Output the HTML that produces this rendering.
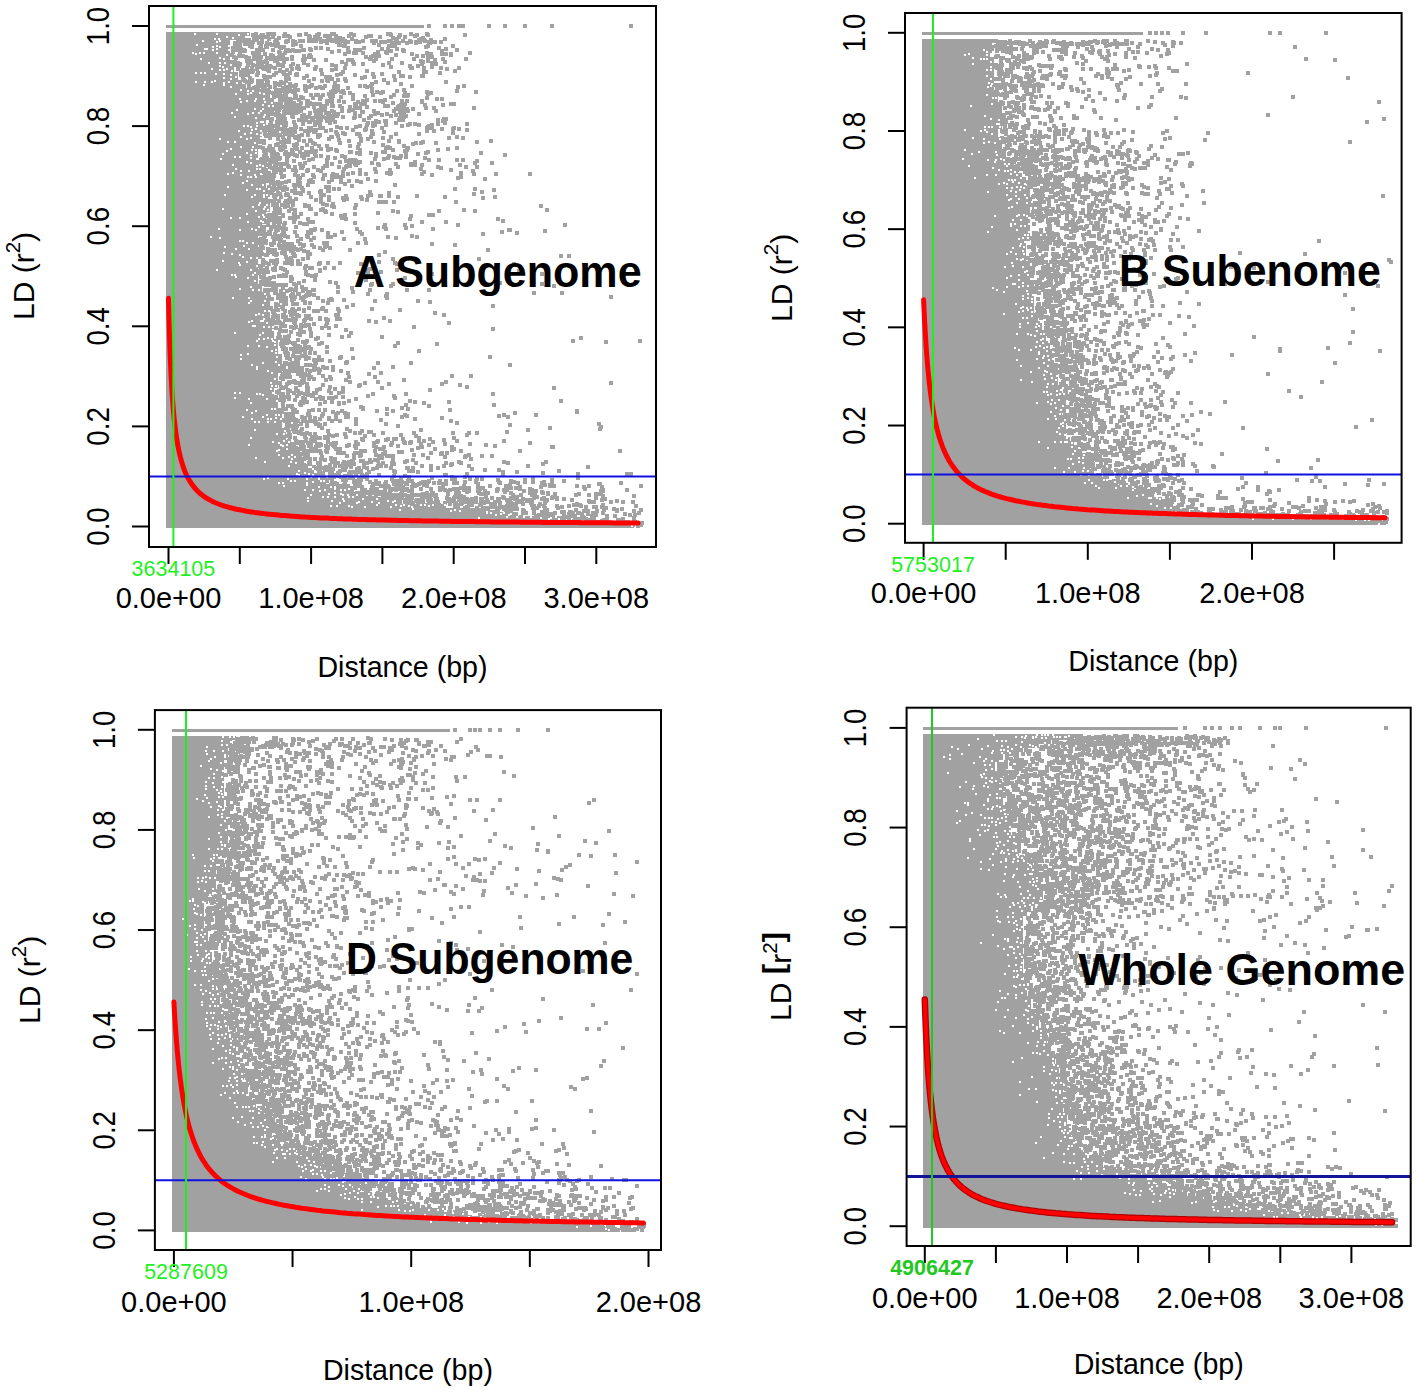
<!DOCTYPE html><html><head><meta charset="utf-8"><style>html,body{margin:0;padding:0;background:#fff;overflow:hidden}svg{display:block}text{font-family:"Liberation Sans", sans-serif}</style></head><body>
<svg width="1416" height="1393" viewBox="0 0 1416 1393">
<rect width="1416" height="1393" fill="#fff"/>
<rect x="166" y="25" width="258" height="3" fill="#a1a1a1"/>
<path stroke="#a1a1a1" stroke-width="4" fill="none" d="M427 26h4M443 26h4M450 26h4M457 26h4M461 26h4M487 26h4M503 26h4M523 26h4M550 26h4M629 26h4M166 526h468M166 522h444M166 518h400M166 514h352M166 510h320M166 506h280M166 502h236M166 498h212M166 494h200M166 490h188M166 486h176M166 482h160M166 478h152M166 474h148M166 470h148M166 466h144M166 462h140M166 458h136M166 454h132M166 450h128M166 446h124M166 442h124M166 438h120M166 434h120M166 430h120M166 426h116M166 422h116M166 418h116M166 414h116M166 410h112M166 406h112M166 402h112M166 398h112M166 394h108M166 390h108M166 386h112M166 382h112M166 378h112M166 374h112M166 370h112M166 366h112M166 362h116M166 358h116M166 354h112M166 350h112M166 346h112M166 342h112M166 338h108M166 334h108M166 330h108M166 326h108M166 322h104M166 318h104M166 314h104M166 310h104M166 306h100M166 302h100M166 298h100M166 294h100M166 290h96M166 286h96M166 282h92M166 278h92M166 274h92M166 270h88M166 266h92M166 262h92M166 258h92M166 254h92M166 250h92M166 246h92M166 242h92M166 238h92M166 234h96M166 230h96M166 226h96M166 222h100M166 218h100M166 214h100M166 210h104M166 206h104M166 202h104M166 198h104M166 194h104M166 190h104M166 186h100M166 182h100M166 178h100M166 174h96M166 170h96M166 166h96M166 162h96M166 158h92M166 154h92M166 150h92M166 146h92M166 142h96M166 138h96M166 134h96M166 130h100M166 126h100M166 122h100M166 118h104M166 114h108M166 110h108M166 106h108M166 102h108M166 98h108M166 94h104M166 90h92M166 86h80M166 82h76M166 78h72M166 74h72M166 70h68M166 66h68M166 62h64M166 58h64M166 54h64M166 50h64M166 46h64M166 42h64M166 38h72M166 34h84M254 34h4M266 34h4M269 34h4M272 34h4M283 34h4M304 34h4M317 34h4M317 34h4M330 34h4M332 34h4M349 34h4M386 34h4M388 34h4M409 34h4M425 34h4M251 35h4M252 35h4M253 35h4M260 35h4M261 35h4M297 35h4M298 35h4M315 35h4M352 35h4M389 35h4M398 35h4M415 35h4M426 35h4M463 35h4M254 36h4M259 36h4M261 36h4M261 36h4M282 36h4M286 36h4M307 36h4M315 36h4M323 36h4M325 36h4M328 36h4M334 36h4M347 36h4M367 36h4M369 36h4M413 36h4M257 37h4M262 37h4M263 37h4M266 37h4M271 37h4M288 37h4M308 37h4M313 37h4M316 37h4M364 37h4M378 37h4M397 37h4M403 37h4M238 38h4M241 38h4M252 38h4M277 38h4M307 38h4M336 38h4M336 38h4M338 38h4M391 38h4M421 38h4M240 39h4M267 39h4M267 39h4M318 39h4M341 39h4M350 39h4M395 39h4M419 39h4M443 39h4M242 40h4M246 40h4M246 40h4M247 40h4M255 40h4M260 40h4M274 40h4M307 40h4M309 40h4M326 40h4M330 40h4M333 40h4M335 40h4M417 40h4M422 40h4M429 40h4M241 41h4M285 41h4M286 41h4M291 41h4M298 41h4M301 41h4M307 41h4M310 41h4M314 41h4M322 41h4M330 41h4M333 41h4M339 41h4M343 41h4M354 41h4M361 41h4M370 41h4M374 41h4M387 41h4M389 41h4M394 41h4M401 41h4M408 41h4M423 41h4M429 41h4M236 42h4M251 42h4M260 42h4M273 42h4M275 42h4M284 42h4M293 42h4M319 42h4M335 42h4M346 42h4M354 42h4M357 42h4M379 42h4M379 42h4M383 42h4M409 42h4M414 42h4M418 42h4M427 42h4M429 42h4M433 42h4M439 42h4M233 43h4M238 43h4M245 43h4M257 43h4M265 43h4M325 43h4M372 43h4M390 43h4M397 43h4M405 43h4M414 43h4M428 43h4M233 44h4M233 44h4M233 44h4M243 44h4M245 44h4M245 44h4M248 44h4M268 44h4M276 44h4M294 44h4M343 44h4M392 44h4M259 45h4M270 45h4M291 45h4M337 45h4M338 45h4M377 45h4M393 45h4M235 46h4M235 46h4M238 46h4M248 46h4M250 46h4M250 46h4M264 46h4M274 46h4M299 46h4M342 46h4M387 46h4M391 46h4M426 46h4M451 46h4M234 47h4M234 47h4M250 47h4M259 47h4M265 47h4M278 47h4M282 47h4M424 47h4M231 48h4M258 48h4M279 48h4M314 48h4M319 48h4M346 48h4M362 48h4M437 48h4M233 49h4M239 49h4M308 49h4M326 49h4M380 49h4M386 49h4M395 49h4M444 49h4M235 50h4M242 50h4M255 50h4M261 50h4M271 50h4M286 50h4M291 50h4M301 50h4M302 50h4M309 50h4M353 50h4M355 50h4M358 50h4M401 50h4M455 50h4M231 51h4M241 51h4M243 51h4M256 51h4M257 51h4M284 51h4M287 51h4M288 51h4M293 51h4M297 51h4M337 51h4M389 51h4M402 51h4M440 51h4M231 52h4M277 52h4M330 52h4M346 52h4M347 52h4M376 52h4M384 52h4M238 53h4M251 53h4M253 53h4M278 53h4M283 53h4M352 53h4M354 53h4M361 53h4M385 53h4M425 53h4M468 53h4M263 54h4M343 54h4M373 54h4M410 54h4M429 54h4M440 54h4M444 54h4M449 54h4M230 55h4M238 55h4M257 55h4M269 55h4M281 55h4M308 55h4M375 55h4M394 55h4M449 55h4M237 56h4M241 56h4M271 56h4M302 56h4M307 56h4M371 56h4M376 56h4M377 56h4M415 56h4M421 56h4M426 56h4M232 57h4M244 57h4M252 57h4M254 57h4M259 57h4M270 57h4M277 57h4M290 57h4M307 57h4M309 57h4M364 57h4M369 57h4M428 57h4M430 57h4M234 58h4M247 58h4M256 58h4M265 58h4M275 58h4M246 59h4M252 59h4M255 59h4M269 59h4M274 59h4M278 59h4M281 59h4M285 59h4M290 59h4M303 59h4M368 59h4M374 59h4M390 59h4M412 59h4M441 59h4M464 59h4M246 60h4M258 60h4M275 60h4M301 60h4M312 60h4M324 60h4M346 60h4M350 60h4M426 60h4M433 60h4M245 61h4M248 61h4M257 61h4M264 61h4M273 61h4M372 61h4M419 61h4M426 61h4M230 62h4M233 62h4M262 62h4M282 62h4M340 62h4M351 62h4M421 62h4M443 62h4M236 63h4M248 63h4M249 63h4M256 63h4M260 63h4M265 63h4M302 63h4M387 63h4M400 63h4M430 63h4M237 64h4M238 64h4M257 64h4M260 64h4M260 64h4M276 64h4M291 64h4M344 64h4M352 64h4M352 64h4M361 64h4M420 64h4M434 64h4M230 65h4M230 65h4M232 65h4M234 65h4M246 65h4M251 65h4M277 65h4M278 65h4M306 65h4M330 65h4M381 65h4M237 66h4M255 66h4M259 66h4M266 66h4M268 66h4M281 66h4M289 66h4M296 66h4M334 66h4M408 66h4M416 66h4M258 67h4M262 67h4M269 67h4M314 67h4M389 67h4M430 67h4M236 68h4M245 68h4M250 68h4M261 68h4M273 68h4M295 68h4M343 68h4M409 68h4M410 68h4M422 68h4M439 68h4M457 68h4M236 69h4M255 69h4M262 69h4M290 69h4M297 69h4M313 69h4M334 69h4M445 69h4M241 70h4M242 70h4M266 70h4M278 70h4M278 70h4M285 70h4M319 70h4M330 70h4M241 71h4M244 71h4M248 71h4M251 71h4M267 71h4M278 71h4M365 71h4M453 71h4M239 72h4M250 72h4M281 72h4M341 72h4M397 72h4M422 72h4M424 72h4M239 73h4M245 73h4M256 73h4M274 73h4M288 73h4M438 73h4M239 74h4M240 74h4M246 74h4M282 74h4M295 74h4M320 74h4M339 74h4M371 74h4M380 74h4M239 75h4M244 75h4M245 75h4M246 75h4M255 75h4M272 75h4M286 75h4M294 75h4M295 75h4M335 75h4M353 75h4M262 76h4M305 76h4M392 76h4M399 76h4M401 76h4M420 76h4M421 76h4M241 77h4M265 77h4M266 77h4M268 77h4M284 77h4M324 77h4M328 77h4M363 77h4M372 77h4M408 77h4M248 78h4M302 78h4M360 78h4M241 79h4M263 79h4M284 79h4M285 79h4M287 79h4M312 79h4M330 79h4M343 79h4M242 80h4M242 80h4M250 80h4M325 80h4M336 80h4M382 80h4M393 80h4M243 81h4M249 81h4M250 81h4M256 81h4M259 81h4M260 81h4M265 81h4M284 81h4M307 81h4M320 81h4M326 81h4M344 81h4M245 82h4M246 82h4M246 82h4M249 82h4M256 82h4M256 82h4M256 82h4M266 82h4M266 82h4M279 82h4M374 82h4M444 82h4M259 83h4M273 83h4M282 83h4M333 83h4M386 83h4M256 84h4M260 84h4M266 84h4M276 84h4M288 84h4M370 84h4M399 84h4M247 85h4M264 85h4M278 85h4M294 85h4M310 85h4M257 86h4M261 86h4M292 86h4M303 86h4M309 86h4M323 86h4M336 86h4M358 86h4M363 86h4M369 86h4M410 86h4M462 86h4M247 87h4M254 87h4M255 87h4M268 87h4M268 87h4M273 87h4M284 87h4M307 87h4M318 87h4M332 87h4M335 87h4M365 87h4M456 87h4M252 88h4M263 88h4M263 88h4M281 88h4M286 88h4M288 88h4M314 88h4M320 88h4M321 88h4M346 88h4M247 89h4M247 89h4M251 89h4M252 89h4M256 89h4M261 89h4M282 89h4M285 89h4M293 89h4M303 89h4M370 89h4M266 90h4M274 90h4M278 90h4M280 90h4M282 90h4M285 90h4M296 90h4M336 90h4M402 90h4M258 91h4M260 91h4M281 91h4M289 91h4M304 91h4M331 91h4M333 91h4M334 91h4M341 91h4M370 91h4M395 91h4M455 91h4M259 92h4M263 92h4M267 92h4M278 92h4M283 92h4M285 92h4M291 92h4M292 92h4M329 92h4M333 92h4M339 92h4M375 92h4M381 92h4M425 92h4M474 92h4M262 93h4M263 93h4M271 93h4M276 93h4M293 93h4M342 93h4M348 93h4M379 93h4M403 93h4M429 93h4M272 94h4M327 94h4M426 94h4M293 95h4M309 95h4M314 95h4M316 95h4M321 95h4M351 95h4M371 95h4M392 95h4M406 95h4M273 96h4M276 96h4M279 96h4M281 96h4M284 96h4M294 96h4M328 96h4M330 96h4M331 96h4M351 96h4M363 96h4M402 96h4M405 96h4M272 97h4M278 97h4M279 97h4M299 97h4M319 97h4M329 97h4M339 97h4M389 97h4M278 98h4M293 98h4M301 98h4M311 98h4M330 98h4M425 98h4M279 99h4M284 99h4M288 99h4M318 99h4M330 99h4M351 99h4M435 99h4M440 99h4M278 100h4M280 100h4M284 100h4M286 100h4M289 100h4M297 100h4M365 100h4M383 100h4M305 101h4M306 101h4M325 101h4M328 101h4M337 101h4M361 101h4M361 101h4M373 101h4M378 101h4M379 101h4M400 101h4M405 101h4M420 101h4M286 102h4M306 102h4M342 102h4M356 102h4M381 102h4M420 102h4M292 103h4M299 103h4M306 103h4M308 103h4M330 103h4M391 103h4M274 104h4M277 104h4M279 104h4M284 104h4M288 104h4M309 104h4M313 104h4M315 104h4M318 104h4M325 104h4M353 104h4M359 104h4M363 104h4M403 104h4M449 104h4M452 104h4M275 105h4M292 105h4M295 105h4M305 105h4M305 105h4M354 105h4M399 105h4M423 105h4M441 105h4M274 106h4M286 106h4M287 106h4M291 106h4M296 106h4M306 106h4M319 106h4M323 106h4M330 106h4M331 106h4M338 106h4M383 106h4M384 106h4M384 106h4M386 106h4M397 106h4M280 107h4M281 107h4M283 107h4M294 107h4M298 107h4M312 107h4M319 107h4M348 107h4M365 107h4M396 107h4M402 107h4M278 108h4M284 108h4M286 108h4M292 108h4M293 108h4M301 108h4M302 108h4M340 108h4M353 108h4M355 108h4M356 108h4M357 108h4M358 108h4M397 108h4M401 108h4M424 108h4M432 108h4M472 108h4M274 109h4M276 109h4M283 109h4M289 109h4M291 109h4M297 109h4M319 109h4M322 109h4M394 109h4M405 109h4M411 109h4M275 110h4M276 110h4M277 110h4M284 110h4M292 110h4M295 110h4M317 110h4M318 110h4M323 110h4M351 110h4M290 111h4M295 111h4M299 111h4M313 111h4M330 111h4M340 111h4M347 111h4M372 111h4M392 111h4M403 111h4M406 111h4M434 111h4M282 112h4M286 112h4M296 112h4M332 112h4M360 112h4M361 112h4M398 112h4M400 112h4M275 113h4M276 113h4M286 113h4M289 113h4M294 113h4M308 113h4M315 113h4M319 113h4M324 113h4M326 113h4M327 113h4M353 113h4M376 113h4M402 113h4M274 114h4M290 114h4M314 114h4M333 114h4M336 114h4M373 114h4M385 114h4M417 114h4M274 115h4M277 115h4M282 115h4M302 115h4M334 115h4M380 115h4M394 115h4M280 116h4M290 116h4M300 116h4M301 116h4M317 116h4M330 116h4M335 116h4M358 116h4M369 116h4M389 116h4M399 116h4M404 116h4M277 117h4M291 117h4M304 117h4M307 117h4M315 117h4M321 117h4M321 117h4M326 117h4M341 117h4M353 117h4M402 117h4M276 118h4M279 118h4M311 118h4M316 118h4M324 118h4M328 118h4M331 118h4M352 118h4M367 118h4M398 118h4M270 119h4M281 119h4M283 119h4M304 119h4M304 119h4M318 119h4M325 119h4M325 119h4M442 119h4M443 119h4M444 119h4M276 120h4M278 120h4M279 120h4M283 120h4M297 120h4M299 120h4M303 120h4M310 120h4M319 120h4M329 120h4M362 120h4M397 120h4M401 120h4M436 120h4M281 121h4M301 121h4M316 121h4M325 121h4M374 121h4M383 121h4M384 121h4M441 121h4M443 121h4M269 122h4M275 122h4M292 122h4M307 122h4M308 122h4M313 122h4M333 122h4M377 122h4M279 123h4M284 123h4M315 123h4M328 123h4M366 123h4M371 123h4M394 123h4M443 123h4M301 124h4M318 124h4M408 124h4M413 124h4M436 124h4M465 124h4M268 125h4M282 125h4M282 125h4M284 125h4M293 125h4M313 125h4M365 125h4M373 125h4M384 125h4M406 125h4M417 125h4M430 125h4M272 126h4M276 126h4M358 126h4M371 126h4M400 126h4M427 126h4M266 127h4M294 127h4M335 127h4M354 127h4M426 127h4M430 127h4M270 128h4M283 128h4M293 128h4M307 128h4M309 128h4M318 128h4M320 128h4M321 128h4M339 128h4M345 128h4M364 128h4M380 128h4M425 128h4M427 128h4M430 128h4M452 128h4M275 129h4M277 129h4M280 129h4M289 129h4M290 129h4M299 129h4M308 129h4M364 129h4M440 129h4M451 129h4M457 129h4M266 130h4M281 130h4M286 130h4M290 130h4M311 130h4M314 130h4M329 130h4M351 130h4M363 130h4M465 130h4M268 131h4M273 131h4M275 131h4M289 131h4M293 131h4M303 131h4M307 131h4M313 131h4M313 131h4M313 131h4M324 131h4M370 131h4M425 131h4M432 131h4M268 132h4M271 132h4M275 132h4M281 132h4M285 132h4M293 132h4M312 132h4M334 132h4M382 132h4M272 133h4M283 133h4M341 133h4M451 133h4M263 134h4M272 134h4M283 134h4M335 134h4M343 134h4M355 134h4M357 134h4M370 134h4M371 134h4M394 134h4M417 134h4M267 135h4M269 135h4M272 135h4M275 135h4M278 135h4M289 135h4M291 135h4M300 135h4M306 135h4M316 135h4M318 135h4M264 136h4M287 136h4M287 136h4M297 136h4M317 136h4M336 136h4M358 136h4M276 137h4M281 137h4M287 137h4M293 137h4M316 137h4M329 137h4M330 137h4M369 137h4M389 137h4M455 137h4M268 138h4M294 138h4M381 138h4M447 138h4M461 138h4M276 139h4M327 139h4M359 139h4M366 139h4M282 140h4M297 140h4M297 140h4M308 140h4M337 140h4M262 141h4M282 141h4M286 141h4M287 141h4M302 141h4M308 141h4M309 141h4M347 141h4M359 141h4M387 141h4M397 141h4M489 141h4M279 142h4M283 142h4M287 142h4M372 142h4M397 142h4M421 142h4M475 142h4M262 143h4M281 143h4M311 143h4M338 143h4M414 143h4M419 143h4M434 143h4M276 144h4M295 144h4M313 144h4M357 144h4M411 144h4M274 145h4M274 145h4M281 145h4M282 145h4M292 145h4M305 145h4M381 145h4M268 146h4M282 146h4M282 146h4M317 146h4M325 146h4M348 146h4M402 146h4M258 147h4M258 147h4M278 147h4M283 147h4M356 147h4M386 147h4M261 148h4M267 148h4M293 148h4M294 148h4M300 148h4M310 148h4M356 148h4M384 148h4M386 148h4M388 148h4M406 148h4M455 148h4M271 149h4M278 149h4M280 149h4M281 149h4M295 149h4M319 149h4M329 149h4M446 149h4M262 150h4M262 150h4M265 150h4M279 150h4M290 150h4M326 150h4M334 150h4M358 150h4M391 150h4M405 150h4M436 150h4M262 151h4M269 151h4M271 151h4M311 151h4M313 151h4M314 151h4M335 151h4M403 151h4M272 152h4M284 152h4M298 152h4M304 152h4M308 152h4M311 152h4M312 152h4M313 152h4M348 152h4M349 152h4M381 152h4M383 152h4M426 152h4M270 153h4M291 153h4M305 153h4M355 153h4M369 153h4M424 153h4M479 153h4M264 154h4M271 154h4M274 154h4M275 154h4M283 154h4M288 154h4M289 154h4M291 154h4M302 154h4M313 154h4M358 154h4M374 154h4M404 154h4M416 154h4M263 155h4M270 155h4M276 155h4M287 155h4M287 155h4M293 155h4M301 155h4M306 155h4M503 155h4M262 156h4M270 156h4M286 156h4M295 156h4M300 156h4M314 156h4M319 156h4M340 156h4M374 156h4M387 156h4M399 156h4M285 157h4M326 157h4M343 157h4M392 157h4M404 157h4M265 158h4M271 158h4M272 158h4M273 158h4M278 158h4M302 158h4M326 158h4M333 158h4M386 158h4M394 158h4M398 158h4M423 158h4M260 159h4M265 159h4M277 159h4M311 159h4M373 159h4M382 159h4M259 160h4M263 160h4M265 160h4M267 160h4M285 160h4M307 160h4M325 160h4M348 160h4M349 160h4M353 160h4M427 160h4M437 160h4M455 160h4M461 160h4M262 161h4M263 161h4M269 161h4M274 161h4M292 161h4M344 161h4M350 161h4M354 161h4M475 161h4M270 162h4M325 162h4M338 162h4M347 162h4M349 162h4M358 162h4M413 162h4M262 163h4M303 163h4M356 163h4M370 163h4M473 163h4M490 163h4M268 164h4M276 164h4M277 164h4M278 164h4M281 164h4M285 164h4M298 164h4M298 164h4M330 164h4M353 164h4M376 164h4M394 164h4M409 164h4M264 165h4M273 165h4M279 165h4M354 165h4M377 165h4M409 165h4M413 165h4M420 165h4M458 165h4M274 166h4M286 166h4M301 166h4M323 166h4M324 166h4M325 166h4M345 166h4M348 166h4M268 167h4M287 167h4M293 167h4M312 167h4M337 167h4M344 167h4M396 167h4M436 167h4M464 167h4M475 167h4M270 168h4M299 168h4M300 168h4M321 168h4M439 168h4M262 169h4M274 169h4M275 169h4M279 169h4M342 169h4M373 169h4M419 169h4M264 170h4M272 170h4M276 170h4M279 170h4M282 170h4M291 170h4M306 170h4M316 170h4M358 170h4M388 170h4M449 170h4M272 171h4M294 171h4M305 171h4M319 171h4M471 171h4M262 172h4M262 172h4M272 172h4M273 172h4M274 172h4M341 172h4M374 172h4M422 172h4M263 173h4M267 173h4M279 173h4M351 173h4M385 173h4M389 173h4M459 173h4M331 174h4M346 174h4M358 174h4M364 174h4M388 174h4M420 174h4M472 174h4M494 174h4M528 174h4M265 175h4M269 175h4M293 175h4M301 175h4M311 175h4M322 175h4M323 175h4M335 175h4M430 175h4M265 176h4M272 176h4M282 176h4M296 176h4M330 176h4M341 176h4M262 177h4M266 177h4M268 177h4M280 177h4M312 177h4M330 177h4M334 177h4M337 177h4M459 177h4M267 178h4M267 178h4M296 178h4M298 178h4M339 178h4M456 178h4M266 179h4M266 179h4M267 179h4M271 179h4M297 179h4M321 179h4M366 179h4M483 179h4M309 180h4M330 180h4M330 180h4M266 181h4M287 181h4M296 181h4M307 181h4M347 181h4M355 181h4M374 181h4M276 182h4M284 182h4M308 182h4M309 182h4M311 182h4M327 182h4M327 182h4M339 182h4M359 182h4M269 183h4M272 183h4M280 183h4M298 183h4M274 184h4M277 184h4M343 184h4M278 185h4M292 185h4M295 185h4M295 185h4M306 185h4M393 185h4M278 186h4M298 186h4M350 186h4M267 187h4M272 187h4M283 187h4M283 187h4M324 187h4M327 187h4M268 188h4M271 188h4M277 188h4M281 188h4M282 188h4M300 188h4M267 189h4M274 189h4M275 189h4M285 189h4M293 189h4M332 189h4M337 189h4M453 189h4M473 189h4M271 190h4M281 190h4M282 190h4M301 190h4M492 190h4M290 191h4M301 191h4M319 191h4M326 191h4M327 191h4M270 192h4M293 192h4M318 192h4M368 192h4M480 192h4M270 193h4M276 193h4M293 193h4M295 193h4M297 193h4M307 193h4M387 193h4M277 194h4M278 194h4M285 194h4M299 194h4M472 194h4M274 195h4M284 195h4M285 195h4M286 195h4M322 195h4M369 195h4M272 196h4M319 196h4M344 196h4M366 196h4M378 196h4M379 196h4M387 196h4M415 196h4M279 197h4M309 197h4M309 197h4M327 197h4M359 197h4M396 197h4M443 197h4M493 197h4M288 198h4M319 198h4M341 198h4M343 198h4M481 198h4M273 199h4M294 199h4M345 199h4M360 199h4M287 200h4M314 200h4M327 200h4M342 200h4M365 200h4M270 201h4M277 201h4M284 201h4M288 201h4M291 201h4M272 202h4M287 202h4M319 202h4M377 202h4M380 202h4M384 202h4M392 202h4M454 202h4M283 203h4M275 204h4M286 204h4M321 204h4M331 204h4M271 205h4M280 205h4M291 205h4M303 205h4M325 205h4M354 205h4M285 206h4M286 206h4M303 206h4M306 206h4M307 206h4M330 206h4M539 206h4M283 207h4M332 207h4M275 208h4M353 208h4M273 209h4M277 209h4M289 209h4M308 209h4M309 209h4M321 209h4M278 210h4M293 210h4M319 210h4M462 210h4M545 210h4M287 211h4M323 211h4M391 211h4M437 211h4M473 211h4M324 212h4M396 212h4M272 213h4M274 213h4M278 213h4M293 213h4M376 213h4M273 214h4M292 214h4M292 214h4M299 214h4M314 214h4M330 214h4M353 214h4M267 215h4M269 215h4M269 215h4M269 215h4M273 215h4M274 215h4M281 215h4M343 215h4M427 215h4M431 215h4M266 216h4M281 216h4M292 216h4M339 216h4M409 216h4M269 217h4M269 217h4M274 217h4M296 217h4M341 217h4M276 218h4M278 218h4M288 218h4M340 218h4M341 218h4M268 219h4M272 219h4M275 219h4M293 219h4M306 219h4M344 219h4M408 219h4M496 219h4M267 220h4M271 220h4M292 220h4M266 221h4M501 221h4M276 222h4M278 222h4M292 222h4M307 222h4M311 222h4M420 222h4M444 222h4M272 223h4M283 223h4M298 223h4M353 223h4M277 224h4M302 224h4M305 224h4M266 225h4M282 225h4M383 225h4M403 225h4M456 225h4M563 225h4M410 226h4M262 227h4M270 227h4M273 227h4M294 227h4M382 227h4M277 228h4M278 228h4M280 228h4M376 228h4M404 228h4M262 229h4M269 229h4M284 229h4M313 229h4M355 229h4M384 229h4M431 229h4M276 230h4M309 230h4M312 230h4M320 230h4M507 230h4M508 230h4M262 231h4M274 231h4M543 231h4M267 232h4M281 232h4M293 232h4M306 232h4M308 232h4M340 232h4M358 232h4M500 232h4M268 233h4M282 233h4M309 233h4M326 233h4M515 233h4M262 234h4M263 234h4M267 234h4M273 234h4M360 234h4M481 234h4M280 235h4M282 235h4M333 235h4M262 236h4M263 236h4M276 236h4M277 236h4M283 236h4M295 236h4M305 236h4M410 236h4M271 237h4M273 237h4M278 237h4M286 237h4M306 237h4M326 237h4M329 237h4M386 237h4M415 237h4M262 238h4M274 238h4M312 238h4M394 238h4M259 239h4M274 239h4M299 239h4M342 239h4M363 239h4M258 240h4M258 240h4M272 240h4M279 240h4M309 240h4M259 241h4M264 241h4M278 241h4M296 241h4M260 242h4M282 242h4M258 243h4M264 243h4M272 243h4M322 243h4M325 243h4M356 243h4M364 243h4M269 244h4M283 244h4M286 244h4M290 244h4M298 244h4M430 244h4M270 245h4M277 245h4M288 245h4M289 245h4M302 245h4M310 245h4M453 245h4M260 246h4M279 246h4M282 246h4M301 246h4M325 246h4M325 246h4M259 247h4M286 247h4M292 247h4M312 247h4M323 247h4M261 248h4M278 248h4M288 248h4M318 248h4M328 248h4M258 249h4M266 249h4M285 249h4M291 249h4M294 249h4M299 249h4M259 250h4M267 250h4M269 250h4M273 250h4M281 250h4M283 250h4M296 250h4M321 250h4M348 250h4M486 250h4M267 251h4M273 251h4M289 251h4M302 251h4M266 252h4M270 252h4M273 252h4M283 252h4M306 252h4M383 252h4M258 253h4M266 253h4M272 253h4M280 253h4M291 253h4M260 254h4M272 254h4M275 254h4M283 254h4M292 254h4M308 254h4M264 255h4M265 255h4M274 255h4M377 255h4M293 256h4M306 256h4M559 256h4M567 256h4M258 257h4M284 257h4M289 258h4M306 258h4M285 259h4M287 259h4M301 259h4M391 259h4M413 259h4M477 259h4M261 260h4M275 260h4M269 261h4M272 261h4M290 261h4M296 261h4M262 262h4M275 262h4M290 262h4M377 262h4M263 263h4M264 263h4M272 263h4M283 263h4M286 263h4M318 263h4M326 263h4M338 263h4M393 263h4M261 264h4M267 264h4M274 264h4M290 264h4M296 264h4M298 264h4M317 264h4M359 264h4M395 264h4M512 264h4M261 265h4M258 266h4M304 266h4M265 268h4M265 268h4M273 268h4M279 268h4M303 268h4M308 268h4M310 268h4M323 268h4M332 268h4M259 269h4M271 269h4M281 269h4M368 269h4M254 270h4M259 270h4M263 270h4M272 270h4M273 270h4M283 270h4M318 270h4M366 270h4M395 270h4M257 271h4M318 271h4M517 271h4M258 272h4M265 272h4M266 272h4M285 272h4M304 272h4M379 272h4M257 273h4M356 273h4M366 273h4M262 274h4M304 274h4M430 274h4M540 274h4M282 275h4M306 275h4M314 275h4M277 276h4M280 276h4M284 276h4M310 276h4M259 277h4M262 277h4M272 277h4M289 277h4M313 277h4M268 278h4M403 278h4M266 279h4M290 279h4M261 280h4M263 280h4M266 280h4M267 280h4M313 280h4M364 280h4M289 281h4M302 281h4M259 282h4M260 282h4M265 282h4M328 282h4M261 283h4M268 283h4M272 283h4M272 283h4M297 283h4M334 283h4M498 283h4M260 284h4M266 284h4M292 284h4M370 284h4M391 284h4M540 284h4M264 285h4M265 285h4M269 285h4M276 285h4M280 285h4M281 285h4M282 285h4M284 285h4M294 285h4M294 285h4M369 285h4M389 286h4M552 286h4M271 287h4M274 287h4M300 287h4M336 287h4M281 288h4M294 288h4M350 288h4M289 289h4M289 289h4M304 289h4M263 290h4M265 290h4M269 290h4M273 290h4M288 290h4M293 290h4M293 290h4M294 290h4M311 290h4M312 290h4M368 290h4M405 290h4M427 290h4M274 291h4M279 291h4M285 291h4M301 291h4M266 292h4M308 292h4M336 292h4M351 292h4M273 293h4M279 293h4M306 293h4M532 293h4M560 293h4M266 294h4M281 294h4M282 294h4M291 294h4M296 294h4M297 294h4M308 294h4M366 294h4M385 294h4M276 295h4M290 295h4M305 295h4M307 295h4M312 295h4M277 296h4M289 296h4M304 296h4M384 296h4M267 297h4M276 297h4M280 297h4M290 297h4M293 297h4M302 297h4M609 297h4M267 298h4M276 298h4M284 298h4M299 298h4M316 298h4M385 298h4M270 299h4M282 299h4M292 299h4M329 299h4M266 300h4M266 300h4M279 300h4M290 300h4M301 300h4M327 300h4M330 300h4M342 300h4M279 301h4M321 301h4M373 301h4M416 301h4M284 302h4M303 302h4M428 302h4M282 303h4M303 303h4M308 303h4M326 303h4M266 304h4M274 304h4M284 304h4M291 304h4M294 304h4M295 304h4M274 305h4M276 305h4M351 305h4M266 306h4M491 306h4M274 307h4M280 307h4M345 307h4M269 308h4M274 308h4M281 308h4M307 308h4M321 308h4M267 309h4M281 309h4M291 309h4M297 309h4M320 309h4M336 309h4M370 309h4M276 310h4M290 310h4M302 310h4M398 310h4M272 311h4M283 311h4M293 311h4M302 311h4M312 311h4M316 311h4M324 311h4M337 311h4M271 312h4M288 312h4M433 313h4M289 314h4M290 314h4M292 314h4M272 315h4M273 315h4M281 315h4M282 315h4M289 315h4M290 315h4M295 315h4M334 315h4M336 315h4M442 315h4M275 316h4M276 316h4M297 316h4M304 316h4M307 316h4M271 317h4M272 317h4M281 317h4M284 317h4M276 318h4M305 318h4M318 318h4M382 318h4M291 319h4M294 319h4M309 319h4M318 319h4M324 319h4M335 319h4M338 319h4M270 320h4M271 320h4M283 320h4M286 320h4M288 320h4M303 320h4M326 320h4M302 321h4M367 321h4M388 321h4M273 322h4M277 322h4M292 322h4M374 322h4M270 323h4M270 323h4M273 323h4M275 323h4M278 323h4M293 323h4M325 323h4M447 323h4M281 324h4M281 324h4M312 324h4M299 325h4M304 325h4M307 325h4M279 326h4M283 326h4M300 326h4M303 326h4M324 326h4M334 326h4M289 327h4M294 327h4M412 327h4M274 328h4M292 328h4M299 328h4M320 328h4M327 328h4M308 329h4M491 329h4M278 330h4M298 330h4M344 330h4M281 331h4M284 331h4M289 332h4M299 332h4M302 332h4M309 333h4M349 333h4M277 334h4M296 334h4M298 335h4M327 335h4M287 336h4M309 336h4M347 336h4M278 337h4M283 337h4M340 337h4M380 337h4M276 338h4M316 338h4M579 338h4M286 339h4M314 339h4M281 340h4M284 340h4M296 340h4M274 341h4M280 341h4M305 341h4M571 341h4M638 341h4M287 342h4M301 342h4M302 342h4M304 342h4M604 342h4M285 343h4M291 343h4M293 343h4M320 343h4M396 343h4M279 344h4M281 344h4M292 344h4M317 344h4M435 344h4M280 346h4M281 346h4M296 346h4M303 346h4M393 346h4M298 347h4M307 347h4M325 347h4M282 348h4M282 348h4M293 348h4M298 348h4M306 348h4M281 349h4M284 349h4M289 349h4M292 349h4M297 349h4M299 349h4M309 349h4M350 349h4M284 350h4M301 350h4M302 350h4M303 351h4M417 351h4M283 352h4M292 352h4M294 352h4M298 352h4M325 352h4M285 353h4M308 353h4M313 353h4M286 354h4M303 354h4M284 355h4M286 355h4M278 356h4M291 356h4M300 356h4M278 357h4M295 357h4M297 357h4M304 357h4M317 357h4M339 357h4M488 357h4M285 358h4M285 358h4M297 358h4M307 358h4M338 358h4M351 358h4M288 359h4M294 359h4M304 359h4M312 360h4M313 360h4M316 360h4M320 360h4M328 361h4M294 362h4M296 362h4M345 362h4M283 363h4M284 363h4M290 363h4M295 363h4M313 363h4M314 363h4M344 363h4M376 363h4M409 363h4M283 364h4M287 364h4M291 364h4M304 365h4M308 365h4M508 365h4M280 366h4M282 366h4M292 366h4M296 366h4M312 366h4M288 367h4M313 367h4M321 367h4M331 367h4M391 367h4M278 368h4M282 368h4M298 368h4M300 368h4M323 368h4M325 368h4M372 368h4M282 369h4M289 369h4M293 369h4M295 369h4M316 369h4M298 370h4M305 370h4M312 370h4M312 370h4M318 370h4M318 370h4M331 370h4M278 371h4M285 371h4M291 371h4M295 371h4M300 371h4M308 371h4M339 371h4M283 372h4M283 372h4M285 372h4M287 373h4M297 373h4M299 373h4M300 373h4M317 373h4M346 373h4M379 373h4M281 374h4M282 374h4M285 374h4M285 374h4M296 374h4M303 374h4M367 374h4M281 375h4M284 375h4M304 375h4M307 375h4M280 376h4M299 376h4M321 376h4M450 376h4M469 376h4M284 377h4M288 377h4M302 377h4M309 377h4M328 377h4M347 377h4M373 377h4M279 378h4M302 378h4M281 379h4M307 379h4M312 379h4M329 379h4M301 380h4M324 380h4M344 380h4M402 380h4M292 381h4M300 381h4M287 382h4M290 382h4M290 382h4M293 382h4M302 382h4M348 382h4M376 382h4M444 382h4M278 383h4M287 383h4M294 383h4M298 383h4M300 383h4M363 383h4M609 383h4M285 384h4M305 384h4M387 384h4M440 384h4M298 385h4M321 385h4M358 385h4M458 385h4M357 386h4M279 387h4M279 387h4M284 387h4M328 387h4M465 387h4M279 388h4M281 388h4M294 388h4M305 388h4M306 388h4M341 388h4M380 388h4M552 388h4M318 389h4M333 389h4M286 390h4M294 390h4M315 390h4M428 390h4M277 391h4M288 391h4M296 391h4M296 391h4M327 391h4M275 392h4M305 392h4M306 392h4M341 392h4M277 393h4M292 393h4M299 393h4M312 393h4M314 393h4M314 393h4M329 393h4M337 393h4M279 394h4M281 394h4M286 394h4M297 394h4M303 394h4M371 394h4M404 394h4M491 394h4M306 395h4M308 395h4M311 395h4M295 396h4M310 396h4M366 396h4M392 396h4M274 397h4M279 397h4M285 397h4M287 397h4M318 397h4M334 397h4M341 397h4M279 398h4M280 398h4M282 398h4M301 398h4M321 398h4M327 398h4M328 398h4M331 398h4M393 398h4M281 399h4M287 399h4M303 399h4M314 399h4M319 399h4M354 399h4M278 400h4M281 400h4M282 400h4M293 400h4M347 401h4M408 401h4M559 401h4M299 402h4M301 402h4M305 402h4M323 402h4M330 402h4M413 402h4M447 402h4M301 403h4M337 403h4M342 403h4M422 403h4M281 404h4M298 404h4M318 404h4M337 404h4M281 405h4M299 405h4M299 405h4M404 405h4M492 405h4M286 406h4M290 406h4M427 406h4M290 407h4M359 407h4M281 408h4M361 408h4M400 408h4M283 409h4M284 409h4M291 409h4M361 409h4M385 409h4M406 409h4M278 410h4M293 410h4M311 410h4M317 410h4M323 410h4M448 410h4M307 411h4M340 411h4M375 411h4M391 411h4M575 411h4M280 412h4M291 412h4M295 412h4M331 412h4M575 412h4M336 413h4M343 413h4M513 413h4M284 414h4M288 414h4M306 414h4M306 414h4M321 414h4M334 414h4M346 414h4M385 414h4M288 415h4M291 415h4M307 415h4M403 415h4M502 415h4M534 415h4M320 416h4M405 416h4M497 416h4M284 417h4M290 417h4M300 417h4M308 417h4M334 417h4M344 417h4M346 417h4M400 417h4M506 417h4M284 418h4M286 418h4M303 418h4M313 418h4M327 418h4M334 418h4M440 418h4M285 419h4M286 419h4M288 419h4M292 419h4M318 419h4M327 419h4M334 419h4M354 419h4M413 419h4M282 420h4M287 420h4M288 420h4M290 420h4M294 420h4M354 420h4M354 420h4M379 420h4M283 421h4M285 421h4M296 421h4M301 421h4M303 421h4M308 421h4M312 421h4M330 421h4M338 421h4M449 421h4M287 422h4M305 422h4M313 422h4M314 422h4M287 423h4M293 423h4M455 423h4M285 424h4M286 424h4M286 424h4M294 424h4M299 424h4M305 424h4M314 424h4M316 424h4M323 424h4M354 424h4M384 424h4M597 424h4M318 425h4M508 425h4M288 426h4M290 426h4M295 426h4M305 426h4M317 426h4M396 426h4M285 427h4M599 427h4M292 428h4M292 428h4M294 428h4M320 428h4M548 428h4M284 429h4M285 429h4M291 429h4M300 429h4M345 429h4M598 429h4M286 430h4M419 430h4M526 430h4M292 431h4M299 431h4M326 431h4M348 431h4M360 431h4M287 432h4M293 432h4M296 432h4M367 432h4M369 432h4M505 432h4M297 433h4M298 433h4M305 433h4M305 433h4M353 433h4M358 433h4M381 433h4M412 433h4M451 433h4M467 433h4M475 433h4M287 434h4M300 434h4M301 434h4M308 434h4M313 434h4M343 434h4M288 435h4M327 435h4M335 435h4M372 435h4M399 435h4M465 435h4M286 436h4M331 436h4M363 436h4M414 436h4M288 437h4M303 437h4M310 437h4M314 437h4M323 437h4M344 437h4M293 438h4M314 438h4M318 438h4M323 438h4M326 438h4M417 438h4M452 438h4M304 439h4M360 439h4M361 439h4M386 439h4M392 439h4M394 439h4M401 439h4M428 439h4M428 439h4M309 440h4M312 440h4M361 440h4M384 440h4M442 440h4M287 441h4M294 441h4M304 441h4M309 441h4M309 441h4M313 441h4M376 441h4M417 441h4M422 441h4M455 441h4M502 441h4M298 442h4M301 442h4M326 442h4M354 442h4M375 442h4M402 442h4M409 442h4M431 442h4M295 443h4M301 443h4M306 443h4M309 443h4M332 443h4M334 443h4M372 443h4M390 443h4M403 443h4M408 443h4M528 443h4M290 444h4M291 444h4M301 444h4M309 444h4M315 444h4M318 444h4M329 444h4M356 444h4M419 444h4M443 444h4M468 444h4M300 445h4M309 445h4M319 445h4M331 445h4M331 445h4M347 445h4M389 445h4M419 445h4M427 445h4M484 445h4M292 446h4M299 446h4M307 446h4M317 446h4M324 446h4M332 446h4M333 446h4M345 446h4M353 446h4M372 446h4M396 446h4M493 446h4M290 447h4M302 447h4M314 447h4M326 447h4M333 447h4M374 447h4M382 447h4M420 447h4M450 447h4M550 447h4M551 447h4M294 448h4M301 448h4M309 448h4M325 448h4M326 448h4M326 448h4M354 448h4M416 448h4M293 449h4M293 449h4M297 449h4M299 449h4M299 449h4M302 449h4M310 449h4M334 449h4M338 449h4M378 449h4M381 449h4M433 449h4M452 449h4M295 450h4M314 450h4M410 450h4M450 450h4M306 451h4M309 451h4M313 451h4M314 451h4M318 451h4M324 451h4M359 451h4M359 451h4M363 451h4M373 451h4M459 451h4M518 451h4M618 451h4M296 452h4M302 452h4M325 452h4M336 452h4M383 452h4M397 452h4M400 452h4M294 453h4M303 453h4M306 453h4M319 453h4M336 453h4M339 453h4M342 453h4M353 453h4M355 453h4M359 453h4M429 453h4M440 453h4M445 453h4M298 454h4M301 454h4M302 454h4M381 454h4M382 454h4M439 454h4M352 455h4M359 455h4M374 455h4M412 455h4M421 455h4M467 455h4M306 456h4M345 456h4M358 456h4M377 456h4M378 456h4M385 456h4M388 456h4M389 456h4M391 456h4M464 456h4M480 456h4M490 456h4M320 457h4M443 457h4M463 457h4M303 458h4M304 458h4M305 458h4M329 458h4M352 458h4M379 458h4M380 458h4M391 458h4M426 458h4M302 459h4M308 459h4M313 459h4M319 459h4M329 459h4M331 459h4M333 459h4M469 459h4M323 460h4M368 460h4M373 460h4M376 460h4M376 460h4M391 460h4M411 460h4M350 461h4M359 461h4M361 461h4M376 461h4M405 461h4M308 462h4M330 462h4M332 462h4M342 462h4M347 462h4M351 462h4M369 462h4M403 462h4M457 462h4M502 462h4M544 462h4M307 463h4M316 463h4M318 463h4M336 463h4M346 463h4M350 463h4M365 463h4M381 463h4M390 463h4M414 463h4M444 463h4M459 463h4M506 463h4M308 464h4M318 464h4M341 464h4M343 464h4M352 464h4M362 464h4M390 464h4M392 464h4M450 464h4M541 464h4M328 465h4M347 465h4M377 465h4M449 465h4M333 466h4M338 466h4M344 466h4M376 466h4M379 466h4M384 466h4M420 466h4M429 466h4M442 466h4M467 466h4M526 466h4M312 467h4M317 467h4M324 467h4M344 467h4M349 467h4M362 467h4M586 467h4M312 468h4M316 468h4M318 468h4M321 468h4M326 468h4M327 468h4M341 468h4M357 468h4M365 468h4M375 468h4M389 468h4M405 468h4M406 468h4M411 468h4M436 468h4M316 469h4M318 469h4M324 469h4M331 469h4M355 469h4M371 469h4M470 469h4M317 470h4M318 470h4M323 470h4M324 470h4M326 470h4M328 470h4M342 470h4M343 470h4M357 470h4M429 470h4M483 470h4M497 470h4M329 471h4M330 471h4M338 471h4M338 471h4M359 471h4M392 471h4M407 471h4M411 471h4M557 471h4M348 472h4M351 472h4M354 472h4M357 472h4M367 472h4M367 472h4M393 472h4M416 472h4M416 472h4M501 472h4M515 472h4M317 473h4M320 473h4M336 473h4M337 473h4M541 473h4M321 474h4M328 474h4M347 474h4M354 474h4M354 474h4M365 474h4M465 474h4M576 474h4M625 474h4M629 474h4M314 475h4M317 475h4M332 475h4M360 475h4M377 475h4M443 475h4M444 475h4M501 475h4M314 476h4M321 476h4M335 476h4M343 476h4M349 476h4M361 476h4M392 476h4M403 476h4M321 477h4M321 477h4M322 477h4M329 477h4M332 477h4M339 477h4M350 477h4M361 477h4M407 477h4M450 477h4M463 477h4M328 478h4M348 478h4M351 478h4M430 478h4M576 478h4M320 479h4M357 479h4M365 479h4M390 479h4M399 479h4M450 479h4M453 479h4M468 479h4M475 479h4M480 479h4M531 479h4M324 480h4M341 480h4M343 480h4M344 480h4M359 480h4M399 480h4M496 480h4M523 480h4M550 480h4M321 481h4M325 481h4M325 481h4M330 481h4M354 481h4M374 481h4M391 481h4M395 481h4M399 481h4M406 481h4M408 481h4M410 481h4M427 481h4M438 481h4M444 481h4M474 481h4M509 481h4M562 481h4M343 482h4M352 482h4M368 482h4M374 482h4M384 482h4M396 482h4M398 482h4M400 482h4M421 482h4M423 482h4M426 482h4M463 482h4M474 482h4M497 482h4M512 482h4M523 482h4M531 482h4M542 482h4M333 483h4M343 483h4M358 483h4M377 483h4M399 483h4M404 483h4M419 483h4M422 483h4M432 483h4M437 483h4M452 483h4M455 483h4M498 483h4M516 483h4M540 483h4M619 483h4M333 484h4M335 484h4M371 484h4M375 484h4M383 484h4M392 484h4M394 484h4M398 484h4M405 484h4M411 484h4M417 484h4M441 484h4M444 484h4M444 484h4M476 484h4M550 484h4M597 484h4M598 484h4M329 485h4M331 485h4M342 485h4M343 485h4M355 485h4M383 485h4M412 485h4M415 485h4M415 485h4M422 485h4M476 485h4M508 485h4M543 485h4M548 485h4M342 486h4M346 486h4M353 486h4M354 486h4M356 486h4M371 486h4M379 486h4M386 486h4M397 486h4M413 486h4M425 486h4M441 486h4M462 486h4M488 486h4M504 486h4M548 486h4M552 486h4M575 486h4M587 486h4M639 486h4M360 487h4M370 487h4M386 487h4M387 487h4M394 487h4M400 487h4M401 487h4M410 487h4M507 487h4M518 487h4M539 487h4M582 487h4M582 487h4M600 487h4M342 488h4M349 488h4M352 488h4M353 488h4M371 488h4M383 488h4M410 488h4M438 488h4M440 488h4M440 488h4M459 488h4M466 488h4M467 488h4M479 488h4M481 488h4M504 488h4M509 488h4M514 488h4M344 489h4M375 489h4M388 489h4M391 489h4M397 489h4M399 489h4M401 489h4M401 489h4M405 489h4M410 489h4M419 489h4M429 489h4M439 489h4M441 489h4M452 489h4M453 489h4M455 489h4M476 489h4M478 489h4M496 489h4M518 489h4M528 489h4M583 489h4M360 490h4M363 490h4M369 490h4M389 490h4M394 490h4M404 490h4M438 490h4M443 490h4M448 490h4M456 490h4M462 490h4M495 490h4M502 490h4M505 490h4M530 490h4M601 490h4M625 490h4M372 491h4M400 491h4M407 491h4M446 491h4M467 491h4M476 491h4M483 491h4M495 491h4M522 491h4M522 491h4M533 491h4M534 491h4M599 491h4M601 491h4M365 492h4M369 492h4M376 492h4M379 492h4M383 492h4M465 492h4M503 492h4M531 492h4M540 492h4M355 493h4M357 493h4M362 493h4M366 493h4M368 493h4M371 493h4M373 493h4M383 493h4M383 493h4M388 493h4M410 493h4M425 493h4M430 493h4M431 493h4M454 493h4M457 493h4M477 493h4M486 493h4M509 493h4M528 493h4M533 493h4M541 493h4M546 493h4M368 494h4M376 494h4M376 494h4M379 494h4M387 494h4M399 494h4M400 494h4M421 494h4M423 494h4M446 494h4M479 494h4M482 494h4M531 494h4M546 494h4M553 494h4M577 494h4M594 494h4M597 494h4M599 494h4M381 495h4M391 495h4M392 495h4M395 495h4M397 495h4M403 495h4M410 495h4M413 495h4M414 495h4M418 495h4M424 495h4M427 495h4M429 495h4M434 495h4M511 495h4M519 495h4M530 495h4M574 495h4M587 495h4M368 496h4M374 496h4M382 496h4M383 496h4M394 496h4M406 496h4M407 496h4M408 496h4M433 496h4M454 496h4M459 496h4M532 496h4M601 496h4M632 496h4M383 497h4M386 497h4M389 497h4M392 497h4M396 497h4M406 497h4M424 497h4M453 497h4M456 497h4M459 497h4M462 497h4M484 497h4M501 497h4M515 497h4M535 497h4M551 497h4M382 498h4M395 498h4M400 498h4M410 498h4M420 498h4M428 498h4M445 498h4M452 498h4M457 498h4M474 498h4M490 498h4M502 498h4M509 498h4M511 498h4M532 498h4M542 498h4M550 498h4M555 498h4M594 498h4M378 499h4M381 499h4M389 499h4M392 499h4M405 499h4M407 499h4M421 499h4M435 499h4M447 499h4M465 499h4M470 499h4M479 499h4M480 499h4M496 499h4M497 499h4M513 499h4M521 499h4M540 499h4M555 499h4M562 499h4M603 499h4M390 500h4M398 500h4M398 500h4M404 500h4M409 500h4M415 500h4M417 500h4M417 500h4M419 500h4M426 500h4M426 500h4M429 500h4M434 500h4M451 500h4M452 500h4M457 500h4M467 500h4M471 500h4M485 500h4M505 500h4M508 500h4M525 500h4M527 500h4M529 500h4M545 500h4M570 500h4M600 500h4M385 501h4M398 501h4M414 501h4M418 501h4M421 501h4M446 501h4M449 501h4M460 501h4M460 501h4M460 501h4M463 501h4M470 501h4M471 501h4M480 501h4M496 501h4M517 501h4M520 501h4M525 501h4M530 501h4M544 501h4M587 501h4M615 501h4M403 502h4M418 502h4M421 502h4M427 502h4M436 502h4M463 502h4M465 502h4M467 502h4M474 502h4M479 502h4M482 502h4M483 502h4M485 502h4M486 502h4M486 502h4M493 502h4M515 502h4M517 502h4M588 502h4M592 502h4M609 502h4M621 502h4M631 502h4M408 503h4M411 503h4M428 503h4M431 503h4M433 503h4M443 503h4M453 503h4M454 503h4M460 503h4M469 503h4M482 503h4M498 503h4M506 503h4M509 503h4M529 503h4M543 503h4M404 504h4M407 504h4M410 504h4M420 504h4M432 504h4M448 504h4M459 504h4M479 504h4M489 504h4M493 504h4M498 504h4M508 504h4M508 504h4M512 504h4M521 504h4M530 504h4M538 504h4M575 504h4M406 505h4M416 505h4M423 505h4M426 505h4M430 505h4M436 505h4M437 505h4M455 505h4M467 505h4M470 505h4M478 505h4M512 505h4M514 505h4M530 505h4M572 505h4M574 505h4M578 505h4M601 505h4M454 506h4M456 506h4M505 506h4M532 506h4M537 506h4M542 506h4M555 506h4M567 506h4M579 506h4M634 506h4M453 507h4M455 507h4M465 507h4M466 507h4M489 507h4M493 507h4M499 507h4M501 507h4M502 507h4M502 507h4M504 507h4M504 507h4M508 507h4M511 507h4M560 507h4M584 507h4M592 507h4M594 507h4M600 507h4M463 508h4M475 508h4M481 508h4M485 508h4M497 508h4M507 508h4M531 508h4M535 508h4M543 508h4M543 508h4M556 508h4M604 508h4M463 509h4M486 509h4M502 509h4M511 509h4M512 509h4M515 509h4M532 509h4M612 509h4M620 509h4M496 510h4M505 510h4M509 510h4M509 510h4M521 510h4M545 510h4M574 510h4M602 510h4M615 510h4M639 510h4M495 511h4M522 511h4M544 511h4M582 511h4M586 511h4M595 511h4M615 511h4M632 511h4M488 512h4M492 512h4M521 512h4M540 512h4M560 512h4M562 512h4M568 512h4M569 512h4M488 513h4M492 513h4M504 513h4M521 513h4M524 513h4M532 513h4M532 513h4M553 513h4M568 513h4M571 513h4M576 513h4M577 513h4M591 513h4M601 513h4M637 513h4M544 514h4M547 514h4M549 514h4M567 514h4M580 514h4M586 514h4M623 514h4M537 515h4M544 515h4M551 515h4M562 515h4M594 515h4M628 515h4M633 515h4M534 516h4M535 516h4M537 516h4M541 516h4M549 516h4M551 516h4M570 516h4M573 516h4M590 516h4M605 516h4M613 516h4M519 517h4M535 517h4M539 517h4M563 517h4M563 517h4M581 517h4M567 518h4M580 518h4M582 518h4M591 518h4M591 518h4M605 518h4M632 518h4M573 519h4M577 519h4M584 519h4M584 519h4M592 519h4M621 519h4M632 519h4M573 520h4M575 520h4M580 520h4M586 520h4M590 520h4M602 520h4M616 520h4M617 520h4M572 521h4M574 521h4M579 521h4M600 521h4M617 522h4M623 522h4M626 522h4M633 522h4M619 523h4M623 523h4M630 523h4M640 523h4M612 524h4M613 524h4M619 524h4M622 525h4M631 525h4M639 525h4M639 525h4M636 526h4M636 526h4M636 526h4"/>
<path stroke="#fff" stroke-width="2" fill="none" d="M631 526h2M568 523h2M572 521h2M574 521h2M580 523h2M582 521h2M586 522h2M596 522h2M599 523h2M606 523h2M478 518h2M506 517h2M516 517h2M523 517h2M530 517h2M540 518h2M548 519h2M550 518h2M555 517h2M558 519h2M486 513h2M490 513h2M495 515h2M500 514h2M503 513h2M508 515h2M510 514h2M399 510h2M412 509h2M450 511h2M454 510h2M459 511h2M330 506h2M336 506h2M348 506h2M351 507h2M364 507h2M376 505h2M390 507h2M395 505h2M400 506h2M403 505h2M408 506h2M411 507h2M420 505h2M424 505h2M428 506h2M432 505h2M444 505h2M307 501h2M331 501h2M339 503h2M343 501h2M356 503h2M358 502h2M371 502h2M378 503h2M387 501h2M392 502h2M394 501h2M307 498h2M322 497h2M327 497h2M334 497h2M342 499h2M348 497h2M352 497h2M362 499h2M376 499h2M310 495h2M328 494h2M334 493h2M340 494h2M342 495h2M347 495h2M356 495h2M304 490h2M312 490h2M319 491h2M324 490h2M334 489h2M340 490h2M344 490h2M348 489h2M283 486h2M306 485h2M318 487h2M330 487h2M334 487h2M278 483h2M282 483h2M290 481h2M294 481h2M306 483h2M312 482h2M320 481h2M323 481h2M263 479h2M267 478h2M287 479h2M306 479h2M310 477h2M296 474h2M298 475h2M304 473h2M308 474h2M312 475h2M298 471h2M312 469h2M288 466h2M308 467h2M264 462h2M290 462h2M295 463h2M304 462h2M255 458h2M282 458h2M288 457h2M291 459h2M294 457h2M278 455h2M291 455h2M276 451h2M278 450h2M286 449h2M248 445h2M280 445h2M282 446h2M286 445h2M272 442h2M278 443h2M283 441h2M288 442h2M250 438h2M276 434h2M283 434h2M254 430h2M284 431h2M254 422h2M258 422h2M267 422h2M274 422h2M242 417h2M251 419h2M262 417h2M267 419h2M270 419h2M275 418h2M280 419h2M251 413h2M266 415h2M275 415h2M278 415h2M246 410h2M255 411h2M271 409h2M274 409h2M250 403h2M276 401h2M234 398h2M248 399h2M266 399h2M234 393h2M239 393h2M256 394h2M259 394h2M262 395h2M272 393h2M270 389h2M271 386h2M275 386h2M270 383h2M274 379h2M271 373h2M256 369h2M267 371h2M251 365h2M256 367h2M262 363h2M275 362h2M240 359h2M276 357h2M240 355h2M247 354h2M275 353h2M271 351h2M275 350h2M247 346h2M258 346h2M266 347h2M274 345h2M256 341h2M272 341h2M274 342h2M258 339h2M263 339h2M267 338h2M271 339h2M234 333h2M259 335h2M262 333h2M272 330h2M252 326h2M254 326h2M263 327h2M268 327h2M272 327h2M248 322h2M251 321h2M260 321h2M262 321h2M266 323h2M263 319h2M255 315h2M258 314h2M262 315h2M264 311h2M268 311h2M262 305h2M248 303h2M250 301h2M264 301h2M232 298h2M248 298h2M264 294h2M239 289h2M252 290h2M258 290h2M250 287h2M254 281h2M235 277h2M247 278h2M231 275h2M234 275h2M252 275h2M254 273h2M216 270h2M250 270h2M239 265h2M256 266h2M222 261h2M238 263h2M246 262h2M242 257h2M250 258h2M256 258h2M223 253h2M231 254h2M239 255h2M235 249h2M248 249h2M224 247h2M243 246h2M239 241h2M242 241h2M246 243h2M252 243h2M210 237h2M219 238h2M218 229h2M239 230h2M251 229h2M255 230h2M258 227h2M247 222h2M260 221h2M262 222h2M230 218h2M239 218h2M258 217h2M263 217h2M246 214h2M262 215h2M222 209h2M255 211h2M263 209h2M267 210h2M252 207h2M258 205h2M264 207h2M266 205h2M259 203h2M251 197h2M263 197h2M268 198h2M224 195h2M254 195h2M263 195h2M266 195h2M246 190h2M256 189h2M259 189h2M263 191h2M268 189h2M227 187h2M251 185h2M262 185h2M242 183h2M246 181h2M247 177h2M250 177h2M255 177h2M227 174h2M232 173h2M240 175h2M254 175h2M260 174h2M235 169h2M240 171h2M248 171h2M256 169h2M259 169h2M232 165h2M256 166h2M259 165h2M246 162h2M250 163h2M220 159h2M234 157h2M239 157h2M250 158h2M256 159h2M222 154h2M246 153h2M250 155h2M255 153h2M226 151h2M230 149h2M251 150h2M255 150h2M240 147h2M252 147h2M227 142h2M234 142h2M254 143h2M219 139h2M240 137h2M246 139h2M250 138h2M260 138h2M244 134h2M250 133h2M256 134h2M260 135h2M238 131h2M251 130h2M255 129h2M260 131h2M243 126h2M247 126h2M250 127h2M256 126h2M263 125h2M256 123h2M260 122h2M262 122h2M234 117h2M255 118h2M263 117h2M231 113h2M247 114h2M252 113h2M258 113h2M264 115h2M236 110h2M254 109h2M260 111h2M262 109h2M262 105h2M268 106h2M272 106h2M240 102h2M246 101h2M254 101h2M264 102h2M271 103h2M239 99h2M255 99h2M263 99h2M270 97h2M235 94h2M247 94h2M250 93h2M259 93h2M263 94h2M240 90h2M247 91h2M252 91h2M203 85h2M223 85h2M230 87h2M195 82h2M204 82h2M211 82h2M214 81h2M223 83h2M228 82h2M236 83h2M223 78h2M230 79h2M235 77h2M195 73h2M200 73h2M204 73h2M215 74h2M223 74h2M230 75h2M211 69h2M219 70h2M223 70h2M226 69h2M231 71h2M219 66h2M222 67h2M230 65h2M208 63h2M219 63h2M224 63h2M200 59h2M219 58h2M223 59h2M192 53h2M195 54h2M199 53h2M203 53h2M216 53h2M226 55h2M204 49h2M206 49h2M212 50h2M216 49h2M228 50h2M196 45h2M212 47h2M216 46h2M219 47h2M228 46h2M202 41h2M216 42h2M219 41h2M214 39h2M218 39h2M226 37h2M232 38h2M194 34h2M216 34h2M238 35h2M247 34h2"/>
<polyline points="168.5,298.3 169.0,319.0 169.5,336.1 170.0,350.6 170.5,363.0 171.0,373.8 171.5,383.2 172.0,391.5 172.5,398.8 173.0,405.4 173.5,411.3 174.0,416.7 174.5,421.5 175.0,426.0 175.5,430.0 176.0,433.8 176.5,437.3 177.0,440.5 177.5,443.4 178.0,446.2 178.5,448.8 179.0,451.2 179.5,453.5 180.0,455.6 180.5,457.6 181.0,459.5 181.5,461.3 182.0,463.0 182.5,464.6 183.0,466.2 183.5,467.6 184.0,469.0 184.5,470.3 185.0,471.6 185.5,472.8 186.0,473.9 186.5,475.0 187.0,476.0 187.5,477.0 188.0,478.0 188.5,478.9 191.5,483.8 194.5,487.8 197.5,491.0 200.5,493.8 203.5,496.1 206.5,498.1 209.5,499.8 212.5,501.4 215.5,502.8 218.5,504.0 221.5,505.1 224.5,506.1 227.5,506.9 230.5,507.8 233.5,508.5 236.5,509.2 239.5,509.8 242.5,510.4 245.5,511.0 248.5,511.5 251.5,511.9 254.5,512.4 257.5,512.8 260.5,513.2 263.5,513.6 266.5,513.9 269.5,514.2 272.5,514.5 275.5,514.8 278.5,515.1 281.5,515.4 284.5,515.6 287.5,515.8 290.5,516.1 293.5,516.3 296.5,516.5 299.5,516.7 302.5,516.9 305.5,517.1 308.5,517.2 311.5,517.4 314.5,517.6 317.5,517.7 320.5,517.9 323.5,518.0 326.5,518.1 329.5,518.3 332.5,518.4 335.5,518.5 338.5,518.7 341.5,518.8 344.5,518.9 347.5,519.0 350.5,519.1 353.5,519.2 356.5,519.3 359.5,519.4 362.5,519.5 365.5,519.6 368.5,519.7 371.5,519.7 374.5,519.8 377.5,519.9 380.5,520.0 383.5,520.1 386.5,520.1 389.5,520.2 392.5,520.3 395.5,520.3 398.5,520.4 401.5,520.5 404.5,520.5 407.5,520.6 410.5,520.7 413.5,520.7 416.5,520.8 419.5,520.8 422.5,520.9 425.5,520.9 428.5,521.0 431.5,521.0 434.5,521.1 437.5,521.1 440.5,521.2 443.5,521.2 446.5,521.3 449.5,521.3 452.5,521.4 455.5,521.4 458.5,521.4 461.5,521.5 464.5,521.5 467.5,521.6 470.5,521.6 473.5,521.6 476.5,521.7 479.5,521.7 482.5,521.8 485.5,521.8 488.5,521.8 491.5,521.9 494.5,521.9 497.5,521.9 500.5,522.0 503.5,522.0 506.5,522.0 509.5,522.0 512.5,522.1 515.5,522.1 518.5,522.1 521.5,522.2 524.5,522.2 527.5,522.2 530.5,522.2 533.5,522.3 536.5,522.3 539.5,522.3 542.5,522.4 545.5,522.4 548.5,522.4 551.5,522.4 554.5,522.5 557.5,522.5 560.5,522.5 563.5,522.5 566.5,522.5 569.5,522.6 572.5,522.6 575.5,522.6 578.5,522.6 581.5,522.7 584.5,522.7 587.5,522.7 590.5,522.7 593.5,522.7 596.5,522.8 599.5,522.8 602.5,522.8 605.5,522.8 608.5,522.8 611.5,522.8 614.5,522.9 617.5,522.9 620.5,522.9 623.5,522.9 626.5,522.9 629.5,522.9 632.5,523.0 635.5,523.0 638.0,523.0" fill="none" stroke="#f00" stroke-width="5" stroke-linecap="round" stroke-linejoin="round"/>
<line x1="149.0" x2="656.0" y1="476.4" y2="476.4" stroke="#1010e0" stroke-width="2"/>
<line x1="173.4" x2="173.4" y1="6.0" y2="547.0" stroke="#1ef01e" stroke-width="2"/>
<rect x="149.0" y="6.0" width="507.0" height="541.0" fill="none" stroke="#000" stroke-width="2"/>
<line x1="132.0" x2="149.0" y1="526.50" y2="526.50" stroke="#000" stroke-width="2"/>
<text transform="translate(108.7,526.50) rotate(-90) scale(0.955,1.07)" text-anchor="middle" font-size="29">0.0</text>
<line x1="132.0" x2="149.0" y1="426.40" y2="426.40" stroke="#000" stroke-width="2"/>
<text transform="translate(108.7,426.40) rotate(-90) scale(0.955,1.07)" text-anchor="middle" font-size="29">0.2</text>
<line x1="132.0" x2="149.0" y1="326.30" y2="326.30" stroke="#000" stroke-width="2"/>
<text transform="translate(108.7,326.30) rotate(-90) scale(0.955,1.07)" text-anchor="middle" font-size="29">0.4</text>
<line x1="132.0" x2="149.0" y1="226.20" y2="226.20" stroke="#000" stroke-width="2"/>
<text transform="translate(108.7,226.20) rotate(-90) scale(0.955,1.07)" text-anchor="middle" font-size="29">0.6</text>
<line x1="132.0" x2="149.0" y1="126.10" y2="126.10" stroke="#000" stroke-width="2"/>
<text transform="translate(108.7,126.10) rotate(-90) scale(0.955,1.07)" text-anchor="middle" font-size="29">0.8</text>
<line x1="132.0" x2="149.0" y1="26.00" y2="26.00" stroke="#000" stroke-width="2"/>
<text transform="translate(108.7,26.00) rotate(-90) scale(0.955,1.07)" text-anchor="middle" font-size="29">1.0</text>
<line x1="168.50" x2="168.50" y1="547.0" y2="564.0" stroke="#000" stroke-width="2"/>
<line x1="239.80" x2="239.80" y1="547.0" y2="564.0" stroke="#000" stroke-width="2"/>
<line x1="311.10" x2="311.10" y1="547.0" y2="564.0" stroke="#000" stroke-width="2"/>
<line x1="382.40" x2="382.40" y1="547.0" y2="564.0" stroke="#000" stroke-width="2"/>
<line x1="453.70" x2="453.70" y1="547.0" y2="564.0" stroke="#000" stroke-width="2"/>
<line x1="525.00" x2="525.00" y1="547.0" y2="564.0" stroke="#000" stroke-width="2"/>
<line x1="596.30" x2="596.30" y1="547.0" y2="564.0" stroke="#000" stroke-width="2"/>
<text x="168.50" y="608.4" text-anchor="middle" font-size="29">0.0e+00</text>
<text x="311.10" y="608.4" text-anchor="middle" font-size="29">1.0e+08</text>
<text x="453.70" y="608.4" text-anchor="middle" font-size="29">2.0e+08</text>
<text x="596.30" y="608.4" text-anchor="middle" font-size="29">3.0e+08</text>
<text x="173.4" y="576.0" text-anchor="middle" font-size="21.5" fill="#1ef01e">3634105</text>
<text x="402.5" y="676.7" text-anchor="middle" font-size="28.6">Distance (bp)</text>
<text transform="translate(33.5,276.0) rotate(-90) scale(1.05,1)" text-anchor="middle" font-size="28.6">LD (r<tspan font-size="19.5" dy="-14">2</tspan><tspan dy="14">)</tspan></text>
<text x="353.7" y="287.0" font-size="45" font-weight="bold" textLength="287.9" lengthAdjust="spacingAndGlyphs">A Subgenome</text>
<rect x="922" y="32" width="221" height="3" fill="#a1a1a1"/>
<path stroke="#a1a1a1" stroke-width="4" fill="none" d="M1148 33h4M1154 33h4M1160 33h4M1166 33h4M1181 33h4M1204 33h4M1268 33h4M1278 33h4M1324 33h4M922 523h464M922 519h460M922 515h368M922 511h260M922 507h248M922 503h244M922 499h240M922 495h232M922 491h220M922 487h212M922 483h196M922 479h184M922 475h176M922 471h172M922 467h168M922 463h168M922 459h164M922 455h164M922 451h160M922 447h156M922 443h152M922 439h148M922 435h144M922 431h144M922 427h144M922 423h144M922 419h144M922 415h140M922 411h144M922 407h144M922 403h144M922 399h144M922 395h144M922 391h140M922 387h140M922 383h136M922 379h136M922 375h136M922 371h136M922 367h132M922 363h132M922 359h132M922 355h132M922 351h132M922 347h128M922 343h128M922 339h124M922 335h124M922 331h120M922 327h120M922 323h120M922 319h116M922 315h116M922 311h112M922 307h112M922 303h112M922 299h112M922 295h112M922 291h112M922 287h112M922 283h112M922 279h108M922 275h108M922 271h108M922 267h108M922 263h108M922 259h104M922 255h104M922 251h104M922 247h104M922 243h104M922 239h108M922 235h108M922 231h108M922 227h108M922 223h108M922 219h108M922 215h108M922 211h108M922 207h112M922 203h112M922 199h112M922 195h108M922 191h108M922 187h104M922 183h104M922 179h104M922 175h100M922 171h96M922 167h92M922 163h92M922 159h88M922 155h84M922 151h84M922 147h80M922 143h80M922 139h80M922 135h76M922 131h76M922 127h80M922 123h80M922 119h80M922 115h80M922 111h80M922 107h80M922 103h76M922 99h76M922 95h76M922 91h72M922 87h72M922 83h72M922 79h72M922 75h72M922 71h72M922 67h72M922 63h72M922 59h68M922 55h68M922 51h72M922 47h72M922 43h72M922 41h76M1008 41h4M1028 41h4M1044 41h4M1052 41h4M1093 41h4M1102 41h4M1105 41h4M1113 41h4M1124 41h4M1125 41h4M1146 41h4M998 42h4M999 42h4M1000 42h4M1003 42h4M1014 42h4M1015 42h4M1017 42h4M1038 42h4M1045 42h4M1051 42h4M1062 42h4M1081 42h4M1088 42h4M1089 42h4M1096 42h4M1101 42h4M1124 42h4M1153 42h4M1171 42h4M996 43h4M999 43h4M1001 43h4M1004 43h4M1006 43h4M1007 43h4M1011 43h4M1014 43h4M1016 43h4M1020 43h4M1022 43h4M1031 43h4M1040 43h4M1055 43h4M1058 43h4M1069 43h4M1082 43h4M1086 43h4M1086 43h4M1095 43h4M1103 43h4M1115 43h4M1115 43h4M1130 43h4M1161 43h4M1172 43h4M1179 43h4M1000 44h4M1003 44h4M1018 44h4M1020 44h4M1024 44h4M1025 44h4M1037 44h4M1041 44h4M1059 44h4M1065 44h4M1069 44h4M1070 44h4M1075 44h4M1078 44h4M1082 44h4M1085 44h4M1087 44h4M1110 44h4M1113 44h4M1114 44h4M1117 44h4M1121 44h4M1125 44h4M1138 44h4M1002 45h4M1036 45h4M1081 45h4M1108 45h4M1115 45h4M1163 45h4M994 46h4M997 46h4M998 46h4M1001 46h4M1009 46h4M1021 46h4M1029 46h4M1033 46h4M1040 46h4M1043 46h4M1044 46h4M1061 46h4M1063 46h4M1065 46h4M1104 46h4M1171 46h4M1038 47h4M1064 47h4M1076 47h4M1090 47h4M1115 47h4M1136 47h4M1293 47h4M995 48h4M996 48h4M1005 48h4M1008 48h4M1035 48h4M997 49h4M999 49h4M1010 49h4M1014 49h4M1020 49h4M1032 49h4M1062 49h4M1085 49h4M1127 49h4M1150 49h4M1002 50h4M1052 50h4M1056 50h4M1059 50h4M1064 50h4M1091 50h4M1156 50h4M1166 50h4M995 51h4M1001 51h4M1098 51h4M1106 51h4M1005 52h4M1009 52h4M1035 52h4M1041 52h4M1060 52h4M1064 52h4M1088 52h4M1097 52h4M1131 52h4M1136 52h4M1009 53h4M1022 53h4M1032 53h4M1073 53h4M1090 53h4M1124 53h4M1145 53h4M1167 53h4M1064 54h4M1098 54h4M1113 54h4M1165 54h4M1024 55h4M1024 55h4M1025 55h4M1107 55h4M995 56h4M996 56h4M1017 56h4M1024 56h4M1025 56h4M1047 56h4M1080 56h4M1159 56h4M994 57h4M1011 57h4M1022 57h4M1029 57h4M1030 57h4M1057 57h4M1059 57h4M1072 57h4M1100 57h4M1105 57h4M1124 57h4M1000 58h4M1001 58h4M1015 58h4M1016 58h4M1022 58h4M1027 58h4M1029 58h4M1059 58h4M1081 58h4M1105 58h4M1133 58h4M990 59h4M1015 59h4M1026 59h4M1048 59h4M1060 59h4M1103 59h4M1304 59h4M990 60h4M999 60h4M1005 60h4M1007 60h4M1333 60h4M1006 61h4M1019 61h4M1084 61h4M1106 61h4M990 62h4M1013 62h4M1022 62h4M1075 63h4M999 64h4M1009 64h4M1012 64h4M1013 64h4M1017 64h4M1017 64h4M1081 64h4M1185 64h4M994 65h4M1000 65h4M1037 65h4M1113 65h4M996 66h4M1039 66h4M1041 66h4M1045 66h4M1049 66h4M1050 66h4M1137 66h4M1137 66h4M1153 66h4M994 67h4M1016 67h4M1028 67h4M1138 67h4M1147 67h4M995 68h4M997 68h4M998 68h4M999 68h4M1009 68h4M1010 68h4M1011 68h4M1022 68h4M1024 68h4M1049 68h4M1154 68h4M1167 68h4M1025 69h4M1030 69h4M1063 69h4M1081 69h4M1089 69h4M1105 69h4M1111 69h4M1115 69h4M1005 70h4M1009 70h4M1064 70h4M1127 70h4M997 71h4M998 71h4M1038 71h4M1106 71h4M1122 71h4M1171 71h4M1175 71h4M998 72h4M1000 72h4M1009 72h4M1032 72h4M1058 72h4M1006 73h4M1105 73h4M1107 73h4M1155 73h4M1246 73h4M997 74h4M1002 74h4M1025 74h4M1031 74h4M1031 74h4M1049 74h4M1057 74h4M1058 74h4M1096 74h4M998 75h4M1048 75h4M1154 75h4M1003 76h4M1004 76h4M1006 76h4M1006 76h4M1011 76h4M1013 76h4M1029 76h4M1030 76h4M1041 76h4M1045 76h4M1060 76h4M1064 76h4M1094 76h4M1100 76h4M1148 76h4M1011 77h4M1015 77h4M1024 77h4M1025 77h4M1106 77h4M1128 77h4M1011 78h4M1018 78h4M1040 78h4M1041 78h4M1063 78h4M1100 78h4M1346 78h4M994 79h4M994 79h4M994 79h4M996 79h4M997 79h4M998 79h4M1018 79h4M1019 79h4M1027 79h4M1045 79h4M1079 79h4M1110 79h4M1110 79h4M1124 79h4M1001 80h4M1018 80h4M1032 80h4M1010 81h4M1017 81h4M1030 81h4M1001 83h4M1001 83h4M1020 83h4M1022 83h4M1026 83h4M1082 83h4M1119 83h4M1001 84h4M1004 84h4M1028 84h4M1036 84h4M1051 84h4M1061 84h4M1139 84h4M1156 84h4M1184 84h4M994 85h4M997 85h4M1003 85h4M1008 85h4M1020 85h4M1024 85h4M1033 85h4M1034 85h4M1040 85h4M1115 85h4M1012 86h4M1014 86h4M1029 86h4M1041 86h4M995 87h4M1002 87h4M1009 87h4M1011 87h4M1011 87h4M1013 87h4M1032 87h4M1057 87h4M1059 87h4M1060 87h4M1069 87h4M1116 87h4M998 88h4M1003 88h4M1022 88h4M1025 88h4M1037 88h4M1057 88h4M1003 89h4M1010 89h4M1037 89h4M1075 89h4M1160 89h4M1010 90h4M1024 90h4M1070 90h4M1087 90h4M1117 90h4M995 91h4M1014 91h4M1024 91h4M1032 91h4M1037 91h4M1076 91h4M1158 91h4M994 92h4M1009 92h4M1025 92h4M1081 92h4M1004 93h4M1005 93h4M1098 93h4M996 94h4M1001 94h4M1002 94h4M1025 94h4M1028 94h4M999 95h4M1000 95h4M1030 95h4M1123 95h4M1005 96h4M1022 96h4M1039 96h4M1087 96h4M1015 97h4M1034 97h4M1047 97h4M1150 97h4M1179 97h4M1291 97h4M1003 98h4M1016 98h4M1021 98h4M1122 98h4M1184 98h4M1020 99h4M1022 99h4M1029 99h4M1084 99h4M1103 99h4M1020 100h4M1091 101h4M1115 101h4M999 102h4M1011 102h4M1030 102h4M1032 102h4M1377 102h4M1001 103h4M1007 103h4M1013 103h4M1016 103h4M1045 103h4M1050 103h4M1064 103h4M998 104h4M1000 104h4M1000 104h4M1066 104h4M1022 105h4M1149 105h4M1007 106h4M1022 106h4M1066 106h4M1009 107h4M1014 107h4M1015 107h4M1030 107h4M1047 107h4M1048 107h4M1080 107h4M1147 107h4M1003 108h4M1017 108h4M1022 108h4M1029 108h4M1056 108h4M1136 108h4M1033 109h4M1036 109h4M1046 109h4M1013 110h4M1037 110h4M1043 110h4M1092 110h4M1012 111h4M1053 111h4M1017 112h4M1020 112h4M1053 112h4M1093 112h4M1005 113h4M1008 113h4M1021 114h4M1002 115h4M1022 115h4M1266 115h4M1002 116h4M1011 116h4M1048 116h4M1072 116h4M1009 117h4M1015 117h4M1031 117h4M1032 117h4M1035 117h4M1007 118h4M1009 118h4M1049 118h4M1059 118h4M1072 118h4M1075 118h4M1099 118h4M1174 118h4M1382 119h4M1002 120h4M1003 120h4M1026 120h4M1050 120h4M1114 120h4M1049 121h4M1004 122h4M1365 122h4M1010 123h4M1038 123h4M1002 124h4M1003 124h4M1015 124h4M1027 124h4M1043 124h4M1008 125h4M1011 125h4M1062 125h4M1024 126h4M1052 126h4M1008 127h4M1013 127h4M1014 127h4M1021 127h4M1003 128h4M1014 128h4M1024 128h4M1026 128h4M1054 128h4M1047 129h4M1071 129h4M1004 130h4M1012 130h4M1048 130h4M1062 130h4M1064 130h4M1082 130h4M1102 130h4M1122 130h4M1000 131h4M1022 131h4M1033 131h4M1057 131h4M1165 131h4M1001 132h4M1018 132h4M1020 132h4M1033 132h4M1038 132h4M1038 132h4M1053 132h4M1070 132h4M1087 132h4M1131 132h4M1016 133h4M1022 133h4M1069 133h4M1094 133h4M1109 133h4M1116 133h4M1161 133h4M1206 133h4M1004 134h4M1057 134h4M1062 134h4M1103 134h4M1022 135h4M1095 135h4M1010 136h4M1024 136h4M1030 136h4M1035 136h4M1037 136h4M1038 136h4M1044 136h4M1053 136h4M1087 136h4M1102 136h4M1007 137h4M1009 137h4M1013 137h4M1018 137h4M1032 137h4M1037 137h4M1039 137h4M1041 137h4M1047 137h4M1067 137h4M1105 137h4M1106 137h4M1000 138h4M1000 138h4M1008 138h4M1010 138h4M1021 138h4M1087 138h4M1168 138h4M1004 139h4M1008 139h4M1008 139h4M1016 139h4M1021 139h4M1060 139h4M1085 139h4M1163 139h4M1010 140h4M1017 140h4M1032 140h4M1037 140h4M1053 140h4M1130 140h4M1203 140h4M1002 141h4M1003 141h4M1003 141h4M1035 141h4M1070 141h4M1073 141h4M1002 142h4M1007 142h4M1024 142h4M1030 142h4M1053 142h4M1075 142h4M1086 142h4M1087 142h4M1122 142h4M1348 142h4M1013 143h4M1025 143h4M1038 143h4M1104 143h4M1007 144h4M1034 144h4M1081 144h4M1087 144h4M1120 144h4M1008 145h4M1019 145h4M1020 145h4M1046 145h4M1071 145h4M1078 145h4M1005 146h4M1051 146h4M1149 146h4M1023 147h4M1039 147h4M1048 147h4M1068 147h4M1086 147h4M1089 147h4M1089 147h4M1090 147h4M1111 147h4M1118 147h4M1160 147h4M1006 148h4M1018 148h4M1020 148h4M1030 148h4M1077 148h4M1090 148h4M1093 148h4M1003 149h4M1021 149h4M1065 149h4M1066 149h4M1095 149h4M1147 149h4M1010 150h4M1032 150h4M1037 150h4M1041 150h4M1045 150h4M1054 150h4M1057 150h4M1060 150h4M1082 150h4M1084 150h4M1093 150h4M1093 150h4M1127 150h4M1012 151h4M1018 151h4M1019 151h4M1021 151h4M1025 151h4M1031 151h4M1051 151h4M1055 151h4M1057 151h4M1073 151h4M1077 151h4M1082 151h4M1096 151h4M1115 151h4M1126 151h4M1128 151h4M1014 152h4M1016 152h4M1025 152h4M1027 152h4M1031 152h4M1034 152h4M1034 152h4M1035 152h4M1038 152h4M1055 152h4M1083 152h4M1106 152h4M1115 152h4M1117 152h4M1134 152h4M1008 153h4M1023 153h4M1034 153h4M1039 153h4M1109 153h4M1135 153h4M1186 153h4M1007 154h4M1017 154h4M1030 154h4M1036 154h4M1053 154h4M1073 154h4M1115 154h4M1117 154h4M1121 154h4M1177 154h4M1181 154h4M1014 155h4M1019 155h4M1022 155h4M1031 155h4M1044 155h4M1073 155h4M1108 155h4M1125 155h4M1153 155h4M1027 156h4M1031 156h4M1034 156h4M1034 156h4M1052 156h4M1090 156h4M1126 156h4M1137 156h4M1028 157h4M1028 157h4M1051 157h4M1053 157h4M1054 157h4M1055 157h4M1058 157h4M1059 157h4M1074 157h4M1103 157h4M1112 157h4M1019 158h4M1031 158h4M1033 158h4M1035 158h4M1041 158h4M1061 158h4M1066 158h4M1067 158h4M1089 158h4M1093 158h4M1101 158h4M1101 158h4M1120 158h4M1150 158h4M1012 159h4M1016 159h4M1021 159h4M1044 159h4M1045 159h4M1056 159h4M1064 159h4M1067 159h4M1068 159h4M1099 159h4M1135 159h4M1156 159h4M1010 160h4M1013 160h4M1025 160h4M1027 160h4M1031 160h4M1034 160h4M1038 160h4M1053 160h4M1054 160h4M1088 160h4M1104 160h4M1127 160h4M1166 160h4M1167 160h4M1010 161h4M1012 161h4M1028 161h4M1029 161h4M1034 161h4M1075 161h4M1092 161h4M1146 161h4M1012 162h4M1020 162h4M1021 162h4M1022 162h4M1029 162h4M1071 162h4M1085 162h4M1095 162h4M1133 162h4M1174 162h4M1028 163h4M1050 163h4M1084 163h4M1094 163h4M1116 163h4M1142 163h4M1189 163h4M1017 164h4M1025 164h4M1026 164h4M1039 164h4M1044 164h4M1046 164h4M1055 164h4M1058 164h4M1059 164h4M1067 164h4M1104 164h4M1121 164h4M1122 164h4M1173 164h4M1190 164h4M1021 165h4M1041 165h4M1044 165h4M1045 165h4M1053 165h4M1105 165h4M1146 165h4M1188 165h4M1015 166h4M1016 166h4M1021 166h4M1031 166h4M1055 166h4M1064 166h4M1068 166h4M1085 166h4M1126 166h4M1128 166h4M1188 166h4M1014 167h4M1027 167h4M1034 167h4M1045 167h4M1045 167h4M1067 167h4M1067 167h4M1165 167h4M1023 168h4M1060 168h4M1062 168h4M1065 168h4M1066 168h4M1074 168h4M1130 168h4M1138 168h4M1139 168h4M1143 168h4M1019 169h4M1020 169h4M1022 169h4M1026 169h4M1026 169h4M1030 169h4M1124 169h4M1133 169h4M1015 170h4M1044 170h4M1044 170h4M1053 170h4M1058 170h4M1073 170h4M1169 170h4M1025 171h4M1026 171h4M1034 171h4M1038 171h4M1054 171h4M1117 171h4M1121 171h4M1023 172h4M1033 172h4M1096 172h4M1107 172h4M1118 172h4M1119 172h4M1125 172h4M1029 173h4M1029 173h4M1037 173h4M1049 173h4M1049 173h4M1067 173h4M1071 173h4M1073 173h4M1114 173h4M1125 173h4M1025 174h4M1026 174h4M1027 174h4M1064 174h4M1084 174h4M1102 174h4M1046 175h4M1065 175h4M1066 175h4M1102 175h4M1033 176h4M1044 176h4M1050 176h4M1050 176h4M1064 176h4M1069 176h4M1072 176h4M1074 176h4M1076 176h4M1086 176h4M1102 176h4M1103 176h4M1038 177h4M1053 177h4M1058 177h4M1089 177h4M1098 177h4M1111 177h4M1122 177h4M1124 177h4M1028 178h4M1032 178h4M1048 178h4M1048 178h4M1055 178h4M1057 178h4M1082 178h4M1098 178h4M1120 178h4M1126 178h4M1159 178h4M1032 179h4M1036 179h4M1039 179h4M1045 179h4M1053 179h4M1056 179h4M1061 179h4M1079 179h4M1084 179h4M1092 179h4M1095 179h4M1130 179h4M1167 179h4M1041 180h4M1057 180h4M1058 180h4M1075 180h4M1080 180h4M1087 180h4M1094 180h4M1110 180h4M1127 180h4M1034 181h4M1034 181h4M1036 181h4M1037 181h4M1043 181h4M1092 181h4M1101 181h4M1026 182h4M1028 182h4M1040 182h4M1040 182h4M1046 182h4M1056 182h4M1086 182h4M1097 182h4M1163 182h4M1030 183h4M1030 183h4M1032 183h4M1034 183h4M1035 183h4M1053 183h4M1057 183h4M1077 183h4M1084 183h4M1103 183h4M1104 183h4M1121 183h4M1124 183h4M1159 183h4M1029 184h4M1033 184h4M1033 184h4M1034 184h4M1036 184h4M1049 184h4M1072 184h4M1124 184h4M1180 184h4M1027 185h4M1033 185h4M1043 185h4M1046 185h4M1060 185h4M1072 185h4M1076 185h4M1084 185h4M1104 185h4M1112 185h4M1140 185h4M1044 186h4M1080 186h4M1110 186h4M1169 186h4M1181 186h4M1028 187h4M1029 187h4M1053 187h4M1057 187h4M1072 187h4M1112 187h4M1121 187h4M1142 187h4M1026 188h4M1040 188h4M1051 188h4M1062 188h4M1078 188h4M1119 188h4M1131 188h4M1146 188h4M1045 189h4M1065 189h4M1075 189h4M1076 189h4M1084 189h4M1165 189h4M1167 189h4M1033 190h4M1035 190h4M1041 190h4M1042 190h4M1046 190h4M1049 190h4M1060 190h4M1067 190h4M1078 190h4M1108 190h4M1038 191h4M1040 191h4M1041 191h4M1061 191h4M1089 191h4M1157 191h4M1201 191h4M1049 192h4M1050 192h4M1059 192h4M1074 192h4M1077 192h4M1103 192h4M1109 192h4M1036 193h4M1056 193h4M1061 193h4M1092 193h4M1099 193h4M1106 193h4M1112 193h4M1124 193h4M1140 193h4M1170 193h4M1034 194h4M1040 194h4M1053 194h4M1054 194h4M1056 194h4M1077 194h4M1091 194h4M1096 194h4M1125 194h4M1143 194h4M1146 194h4M1158 194h4M1036 195h4M1054 195h4M1095 195h4M1100 195h4M1032 196h4M1033 196h4M1041 196h4M1071 196h4M1071 196h4M1185 196h4M1185 196h4M1381 196h4M1031 197h4M1036 197h4M1048 197h4M1051 197h4M1062 197h4M1066 197h4M1080 197h4M1084 197h4M1086 197h4M1105 197h4M1037 198h4M1059 198h4M1155 198h4M1040 199h4M1045 199h4M1058 199h4M1060 199h4M1063 199h4M1083 199h4M1094 199h4M1038 200h4M1047 200h4M1070 200h4M1073 200h4M1105 200h4M1038 201h4M1047 201h4M1054 201h4M1054 201h4M1098 201h4M1108 201h4M1042 202h4M1078 202h4M1103 202h4M1034 203h4M1066 203h4M1081 203h4M1091 203h4M1092 203h4M1126 203h4M1160 203h4M1202 203h4M1038 204h4M1060 204h4M1066 204h4M1101 204h4M1034 205h4M1047 205h4M1063 205h4M1065 205h4M1087 205h4M1090 205h4M1113 205h4M1180 205h4M1047 206h4M1056 206h4M1070 206h4M1095 206h4M1117 206h4M1037 207h4M1065 207h4M1115 207h4M1157 207h4M1038 208h4M1045 208h4M1066 208h4M1069 208h4M1089 208h4M1109 208h4M1119 208h4M1128 208h4M1169 208h4M1040 209h4M1040 209h4M1040 209h4M1042 209h4M1044 209h4M1045 209h4M1051 209h4M1056 209h4M1056 209h4M1087 209h4M1088 209h4M1121 209h4M1139 209h4M1044 210h4M1081 210h4M1100 210h4M1104 210h4M1126 210h4M1154 210h4M1032 211h4M1032 211h4M1034 211h4M1038 211h4M1044 211h4M1046 211h4M1050 211h4M1051 211h4M1057 211h4M1070 211h4M1093 211h4M1031 212h4M1045 212h4M1045 212h4M1054 212h4M1063 212h4M1067 212h4M1097 212h4M1110 212h4M1036 213h4M1049 213h4M1060 213h4M1071 213h4M1073 213h4M1079 213h4M1081 213h4M1087 213h4M1102 213h4M1124 213h4M1126 213h4M1035 214h4M1038 214h4M1039 214h4M1046 214h4M1049 214h4M1073 214h4M1093 214h4M1137 214h4M1147 214h4M1167 214h4M1030 215h4M1072 215h4M1090 215h4M1101 215h4M1119 215h4M1038 216h4M1039 216h4M1039 216h4M1043 216h4M1044 216h4M1057 216h4M1065 216h4M1073 216h4M1084 216h4M1090 216h4M1100 216h4M1120 216h4M1125 216h4M1127 216h4M1140 216h4M1165 216h4M1031 217h4M1036 217h4M1037 217h4M1041 217h4M1088 217h4M1123 217h4M1144 217h4M1078 218h4M1092 218h4M1103 218h4M1140 218h4M1178 218h4M1035 219h4M1049 219h4M1051 219h4M1055 219h4M1065 219h4M1087 219h4M1098 219h4M1186 219h4M1040 220h4M1046 220h4M1050 220h4M1053 220h4M1071 220h4M1123 220h4M1137 220h4M1139 220h4M1153 220h4M1038 221h4M1048 221h4M1048 221h4M1077 221h4M1080 221h4M1103 221h4M1140 221h4M1162 221h4M1046 222h4M1056 222h4M1068 222h4M1076 222h4M1108 222h4M1132 222h4M1140 222h4M1153 222h4M1156 222h4M1054 223h4M1068 223h4M1089 223h4M1094 223h4M1096 223h4M1032 224h4M1072 224h4M1047 225h4M1056 225h4M1064 225h4M1067 225h4M1069 225h4M1072 225h4M1072 225h4M1115 225h4M1143 225h4M1048 226h4M1064 226h4M1074 226h4M1085 226h4M1092 226h4M1093 226h4M1096 226h4M1101 226h4M1079 227h4M1084 227h4M1149 227h4M1175 227h4M1060 228h4M1078 228h4M1127 228h4M1045 229h4M1048 229h4M1064 229h4M1065 229h4M1071 229h4M1073 229h4M1073 229h4M1075 229h4M1082 229h4M1092 229h4M1095 229h4M1159 229h4M1039 230h4M1075 230h4M1099 230h4M1100 230h4M1116 230h4M1159 230h4M1069 231h4M1073 231h4M1099 231h4M1122 231h4M1197 231h4M1039 232h4M1046 232h4M1069 232h4M1087 232h4M1107 232h4M1113 232h4M1116 232h4M1139 232h4M1032 233h4M1034 233h4M1050 233h4M1117 233h4M1144 233h4M1154 233h4M1036 234h4M1049 234h4M1054 234h4M1055 234h4M1085 234h4M1097 234h4M1123 234h4M1171 234h4M1032 235h4M1036 235h4M1042 235h4M1051 235h4M1051 235h4M1056 235h4M1081 235h4M1081 235h4M1036 236h4M1047 236h4M1065 236h4M1072 236h4M1089 236h4M1092 236h4M1105 236h4M1128 236h4M1134 236h4M1034 237h4M1035 237h4M1050 237h4M1052 237h4M1064 237h4M1102 237h4M1131 237h4M1030 238h4M1040 238h4M1043 238h4M1044 238h4M1047 238h4M1067 238h4M1070 238h4M1071 238h4M1097 238h4M1120 238h4M1032 239h4M1057 239h4M1082 239h4M1098 239h4M1128 239h4M1139 239h4M1149 239h4M1039 240h4M1047 240h4M1051 240h4M1105 240h4M1147 240h4M1169 240h4M1176 240h4M1033 241h4M1036 241h4M1044 241h4M1044 241h4M1059 241h4M1108 241h4M1121 241h4M1151 241h4M1317 241h4M1031 242h4M1045 242h4M1045 242h4M1054 242h4M1042 243h4M1048 243h4M1054 243h4M1058 243h4M1087 243h4M1090 243h4M1092 243h4M1103 243h4M1125 243h4M1031 244h4M1035 244h4M1038 244h4M1053 244h4M1057 244h4M1062 244h4M1069 244h4M1070 244h4M1073 244h4M1084 244h4M1115 244h4M1138 244h4M1038 245h4M1045 245h4M1056 245h4M1085 245h4M1144 245h4M1152 245h4M1037 246h4M1045 246h4M1056 246h4M1067 246h4M1072 246h4M1073 246h4M1079 246h4M1089 246h4M1091 246h4M1027 247h4M1030 247h4M1032 247h4M1039 247h4M1040 247h4M1041 247h4M1071 247h4M1086 247h4M1094 247h4M1118 247h4M1146 247h4M1168 247h4M1181 247h4M1032 248h4M1032 248h4M1040 248h4M1041 248h4M1075 248h4M1096 248h4M1100 248h4M1130 248h4M1031 249h4M1041 249h4M1043 249h4M1045 249h4M1051 249h4M1063 249h4M1081 249h4M1106 249h4M1083 250h4M1085 250h4M1131 250h4M1142 250h4M1153 250h4M1169 250h4M1038 251h4M1068 251h4M1076 251h4M1092 251h4M1097 251h4M1112 251h4M1032 252h4M1064 252h4M1084 252h4M1109 252h4M1123 252h4M1070 253h4M1083 253h4M1104 253h4M1143 253h4M1238 253h4M1030 254h4M1034 254h4M1044 254h4M1051 254h4M1055 254h4M1093 254h4M1129 254h4M1303 254h4M1029 255h4M1030 255h4M1044 255h4M1062 255h4M1074 255h4M1129 255h4M1143 255h4M1041 256h4M1057 256h4M1064 256h4M1100 256h4M1111 256h4M1119 256h4M1035 257h4M1056 257h4M1070 257h4M1090 257h4M1094 257h4M1105 257h4M1026 258h4M1037 258h4M1052 258h4M1068 258h4M1071 258h4M1076 258h4M1078 258h4M1149 258h4M1034 259h4M1037 259h4M1038 259h4M1040 259h4M1061 259h4M1070 259h4M1075 259h4M1086 259h4M1100 259h4M1127 259h4M1028 260h4M1031 260h4M1038 260h4M1040 260h4M1051 260h4M1053 260h4M1069 260h4M1094 260h4M1105 260h4M1387 260h4M1030 261h4M1031 261h4M1036 261h4M1053 261h4M1061 261h4M1144 261h4M1043 262h4M1044 262h4M1049 262h4M1054 262h4M1058 262h4M1065 262h4M1088 262h4M1389 262h4M1033 263h4M1036 263h4M1040 263h4M1053 263h4M1064 263h4M1112 263h4M1144 263h4M1032 264h4M1034 264h4M1058 264h4M1059 264h4M1062 264h4M1063 264h4M1080 264h4M1102 264h4M1032 265h4M1046 265h4M1063 265h4M1066 265h4M1124 265h4M1046 266h4M1052 266h4M1069 266h4M1076 266h4M1081 266h4M1042 267h4M1044 267h4M1056 267h4M1095 267h4M1102 267h4M1105 267h4M1229 267h4M1030 268h4M1041 268h4M1056 268h4M1067 268h4M1252 268h4M1031 269h4M1043 269h4M1046 269h4M1047 269h4M1048 269h4M1048 269h4M1067 269h4M1085 269h4M1092 269h4M1132 269h4M1051 270h4M1063 270h4M1064 270h4M1065 270h4M1069 270h4M1075 270h4M1030 271h4M1054 271h4M1055 271h4M1091 271h4M1038 272h4M1041 272h4M1043 272h4M1055 272h4M1065 272h4M1097 272h4M1108 272h4M1113 272h4M1031 273h4M1036 273h4M1047 273h4M1055 273h4M1071 273h4M1104 273h4M1107 273h4M1116 273h4M1343 273h4M1039 274h4M1045 274h4M1053 274h4M1053 274h4M1056 274h4M1095 274h4M1096 274h4M1152 274h4M1030 275h4M1039 275h4M1039 275h4M1045 275h4M1050 275h4M1057 275h4M1062 275h4M1083 275h4M1138 275h4M1030 276h4M1041 276h4M1048 276h4M1054 276h4M1058 276h4M1071 276h4M1074 276h4M1076 276h4M1089 276h4M1096 276h4M1039 277h4M1046 277h4M1050 277h4M1040 278h4M1047 278h4M1078 278h4M1092 278h4M1104 278h4M1164 278h4M1176 278h4M1061 279h4M1120 279h4M1174 279h4M1037 280h4M1038 280h4M1049 280h4M1054 280h4M1059 280h4M1060 280h4M1037 281h4M1085 281h4M1112 281h4M1030 282h4M1034 282h4M1036 282h4M1037 282h4M1046 282h4M1061 282h4M1077 282h4M1083 282h4M1114 282h4M1266 282h4M1037 283h4M1038 283h4M1044 283h4M1049 283h4M1055 283h4M1058 283h4M1072 283h4M1093 283h4M1123 283h4M1134 283h4M1144 283h4M1041 284h4M1042 284h4M1056 284h4M1070 284h4M1071 284h4M1080 284h4M1109 284h4M1223 284h4M1035 285h4M1047 285h4M1134 285h4M1040 286h4M1041 286h4M1044 286h4M1054 286h4M1106 286h4M1130 286h4M1162 286h4M1376 286h4M1051 287h4M1077 287h4M1100 287h4M1123 287h4M1158 287h4M1034 288h4M1038 288h4M1070 288h4M1094 288h4M1051 289h4M1074 289h4M1076 289h4M1076 289h4M1079 289h4M1090 289h4M1122 289h4M1041 290h4M1041 290h4M1052 290h4M1062 290h4M1068 290h4M1093 290h4M1111 290h4M1112 290h4M1122 290h4M1123 290h4M1133 290h4M1045 291h4M1048 291h4M1067 291h4M1071 291h4M1147 291h4M1034 292h4M1044 292h4M1057 292h4M1063 292h4M1065 292h4M1069 292h4M1070 292h4M1079 292h4M1098 292h4M1100 292h4M1141 292h4M1185 292h4M1037 293h4M1053 293h4M1057 293h4M1079 293h4M1093 293h4M1096 293h4M1148 293h4M1043 294h4M1047 294h4M1051 294h4M1056 294h4M1066 294h4M1072 294h4M1148 294h4M1047 295h4M1084 295h4M1085 295h4M1086 295h4M1090 295h4M1110 295h4M1343 295h4M1048 296h4M1056 296h4M1058 296h4M1108 296h4M1043 297h4M1046 297h4M1054 297h4M1057 297h4M1068 297h4M1083 297h4M1137 297h4M1053 298h4M1066 298h4M1098 298h4M1115 298h4M1149 298h4M1036 299h4M1049 299h4M1056 299h4M1069 299h4M1112 299h4M1047 300h4M1048 300h4M1055 300h4M1063 300h4M1087 300h4M1098 300h4M1108 300h4M1112 300h4M1045 301h4M1049 301h4M1054 301h4M1061 301h4M1073 301h4M1110 301h4M1134 301h4M1150 301h4M1044 302h4M1058 302h4M1106 302h4M1047 303h4M1060 303h4M1061 303h4M1095 303h4M1109 303h4M1112 303h4M1113 303h4M1178 303h4M1037 304h4M1042 304h4M1076 304h4M1091 304h4M1095 304h4M1134 304h4M1197 304h4M1036 305h4M1042 305h4M1044 305h4M1058 305h4M1076 305h4M1096 305h4M1096 305h4M1097 305h4M1108 305h4M1115 305h4M1045 306h4M1051 306h4M1054 306h4M1085 306h4M1101 306h4M1102 306h4M1120 306h4M1150 306h4M1161 306h4M1046 307h4M1049 307h4M1083 307h4M1035 308h4M1040 308h4M1051 308h4M1066 308h4M1075 308h4M1093 308h4M1117 308h4M1037 309h4M1051 309h4M1061 309h4M1351 309h4M1036 310h4M1036 310h4M1041 310h4M1042 310h4M1051 310h4M1059 310h4M1079 310h4M1039 311h4M1039 311h4M1049 311h4M1141 311h4M1142 311h4M1037 312h4M1043 312h4M1052 312h4M1058 312h4M1084 312h4M1087 312h4M1100 312h4M1060 313h4M1073 313h4M1074 313h4M1114 313h4M1123 313h4M1135 313h4M1035 314h4M1050 314h4M1060 314h4M1074 314h4M1093 314h4M1102 314h4M1040 315h4M1054 315h4M1105 315h4M1107 315h4M1151 315h4M1158 315h4M1038 316h4M1058 316h4M1066 316h4M1069 316h4M1082 316h4M1100 316h4M1128 316h4M1177 316h4M1041 317h4M1045 317h4M1060 317h4M1070 317h4M1071 317h4M1078 317h4M1080 317h4M1187 317h4M1039 318h4M1046 318h4M1048 318h4M1049 318h4M1050 318h4M1047 319h4M1049 319h4M1062 319h4M1070 319h4M1147 319h4M1046 320h4M1048 320h4M1063 320h4M1079 320h4M1084 320h4M1142 320h4M1073 321h4M1124 321h4M1138 321h4M1047 322h4M1051 322h4M1052 322h4M1055 322h4M1106 322h4M1124 322h4M1044 323h4M1049 323h4M1055 323h4M1056 323h4M1058 323h4M1061 323h4M1063 323h4M1064 323h4M1065 323h4M1119 323h4M1168 323h4M1050 324h4M1060 324h4M1064 324h4M1102 324h4M1130 324h4M1141 324h4M1060 325h4M1121 325h4M1127 325h4M1145 325h4M1045 326h4M1046 326h4M1052 326h4M1082 326h4M1192 326h4M1094 327h4M1126 327h4M1142 327h4M1044 328h4M1046 328h4M1056 328h4M1063 328h4M1118 328h4M1070 329h4M1079 329h4M1048 330h4M1049 330h4M1056 330h4M1058 330h4M1059 330h4M1061 330h4M1066 330h4M1087 330h4M1044 331h4M1050 331h4M1053 331h4M1064 331h4M1100 331h4M1103 331h4M1118 331h4M1042 332h4M1046 332h4M1050 332h4M1070 332h4M1099 332h4M1351 332h4M1045 333h4M1052 333h4M1053 333h4M1057 333h4M1060 333h4M1116 333h4M1124 333h4M1044 334h4M1046 334h4M1053 334h4M1060 334h4M1085 334h4M1085 334h4M1125 334h4M1183 334h4M1055 335h4M1056 335h4M1062 335h4M1067 335h4M1074 335h4M1080 335h4M1117 335h4M1136 335h4M1047 336h4M1048 336h4M1056 336h4M1079 336h4M1084 336h4M1050 337h4M1050 337h4M1112 337h4M1252 337h4M1062 338h4M1070 338h4M1073 338h4M1084 338h4M1161 338h4M1050 339h4M1051 339h4M1067 339h4M1085 339h4M1093 339h4M1052 340h4M1054 340h4M1063 340h4M1073 340h4M1095 340h4M1073 341h4M1099 341h4M1061 342h4M1073 342h4M1077 342h4M1089 342h4M1124 342h4M1050 343h4M1054 343h4M1055 343h4M1075 343h4M1076 343h4M1082 343h4M1102 343h4M1117 343h4M1348 343h4M1056 344h4M1066 344h4M1068 344h4M1076 344h4M1081 344h4M1082 344h4M1102 344h4M1114 344h4M1127 344h4M1154 344h4M1053 345h4M1076 345h4M1079 345h4M1095 345h4M1166 345h4M1061 346h4M1073 346h4M1075 346h4M1076 346h4M1078 346h4M1085 346h4M1111 346h4M1061 347h4M1061 347h4M1062 347h4M1065 347h4M1076 347h4M1079 347h4M1112 347h4M1136 347h4M1168 347h4M1055 348h4M1059 348h4M1068 348h4M1080 348h4M1139 348h4M1326 348h4M1055 349h4M1057 349h4M1079 349h4M1278 349h4M1052 350h4M1063 350h4M1066 350h4M1079 350h4M1087 350h4M1100 350h4M1106 350h4M1055 351h4M1059 351h4M1059 351h4M1067 351h4M1094 351h4M1278 351h4M1378 351h4M1064 352h4M1070 352h4M1075 352h4M1135 352h4M1156 352h4M1193 353h4M1056 354h4M1075 354h4M1103 354h4M1116 354h4M1132 354h4M1054 355h4M1064 355h4M1069 355h4M1069 355h4M1075 355h4M1079 355h4M1108 355h4M1183 355h4M1230 355h4M1058 356h4M1061 356h4M1062 356h4M1073 356h4M1093 356h4M1128 356h4M1131 356h4M1061 357h4M1071 357h4M1077 357h4M1081 357h4M1118 357h4M1152 357h4M1171 357h4M1059 358h4M1060 358h4M1098 358h4M1116 358h4M1129 358h4M1160 358h4M1109 359h4M1169 359h4M1055 360h4M1058 360h4M1062 360h4M1065 360h4M1075 360h4M1078 360h4M1080 360h4M1084 360h4M1092 360h4M1099 360h4M1110 360h4M1062 361h4M1068 361h4M1069 361h4M1075 361h4M1077 361h4M1086 361h4M1114 361h4M1129 361h4M1189 361h4M1068 362h4M1073 362h4M1111 362h4M1111 362h4M1122 362h4M1156 362h4M1060 363h4M1078 363h4M1086 363h4M1087 363h4M1094 363h4M1121 363h4M1333 363h4M1060 364h4M1064 364h4M1080 364h4M1092 364h4M1054 365h4M1058 366h4M1062 366h4M1063 366h4M1073 366h4M1080 366h4M1132 366h4M1137 366h4M1146 366h4M1065 367h4M1069 367h4M1074 367h4M1080 367h4M1103 367h4M1060 368h4M1060 368h4M1069 368h4M1070 368h4M1102 368h4M1105 368h4M1112 368h4M1142 368h4M1147 368h4M1054 369h4M1061 369h4M1063 369h4M1115 369h4M1171 369h4M1059 370h4M1063 370h4M1066 370h4M1071 370h4M1072 370h4M1075 370h4M1110 370h4M1121 370h4M1136 370h4M1158 370h4M1059 371h4M1063 371h4M1085 371h4M1105 371h4M1123 371h4M1134 371h4M1058 372h4M1065 372h4M1067 372h4M1078 372h4M1164 372h4M1169 372h4M1093 373h4M1094 373h4M1102 373h4M1163 373h4M1167 373h4M1076 374h4M1084 374h4M1090 374h4M1093 374h4M1094 374h4M1118 374h4M1128 374h4M1150 374h4M1266 374h4M1074 375h4M1166 375h4M1059 376h4M1061 376h4M1069 376h4M1060 377h4M1072 377h4M1130 377h4M1165 377h4M1073 378h4M1078 378h4M1119 378h4M1119 378h4M1062 379h4M1064 379h4M1066 379h4M1071 379h4M1077 379h4M1082 379h4M1119 379h4M1072 380h4M1073 380h4M1081 380h4M1084 380h4M1095 380h4M1109 380h4M1110 380h4M1146 380h4M1062 381h4M1071 381h4M1078 381h4M1084 381h4M1093 381h4M1061 382h4M1069 382h4M1073 382h4M1082 382h4M1089 382h4M1100 382h4M1123 382h4M1320 382h4M1073 383h4M1082 383h4M1083 383h4M1090 383h4M1098 383h4M1059 384h4M1069 384h4M1080 384h4M1116 384h4M1119 384h4M1120 384h4M1123 384h4M1153 384h4M1062 385h4M1062 385h4M1087 385h4M1064 386h4M1069 386h4M1071 386h4M1075 386h4M1075 386h4M1095 386h4M1113 386h4M1155 386h4M1074 387h4M1101 387h4M1103 387h4M1109 387h4M1149 387h4M1157 387h4M1064 388h4M1064 388h4M1068 388h4M1099 388h4M1135 388h4M1075 389h4M1079 389h4M1081 389h4M1089 389h4M1095 389h4M1140 389h4M1080 390h4M1094 390h4M1105 390h4M1063 391h4M1071 391h4M1076 391h4M1085 391h4M1087 391h4M1088 391h4M1132 391h4M1154 391h4M1287 391h4M1064 392h4M1074 392h4M1105 392h4M1111 392h4M1161 392h4M1063 393h4M1078 393h4M1125 393h4M1133 393h4M1139 393h4M1176 393h4M1064 394h4M1069 394h4M1080 394h4M1117 394h4M1070 395h4M1084 395h4M1104 395h4M1159 395h4M1066 396h4M1072 396h4M1088 397h4M1299 397h4M1066 398h4M1069 398h4M1084 398h4M1104 398h4M1107 398h4M1156 398h4M1068 399h4M1075 399h4M1076 399h4M1085 399h4M1090 399h4M1070 400h4M1074 400h4M1079 400h4M1084 400h4M1094 400h4M1094 400h4M1096 400h4M1107 400h4M1139 400h4M1149 400h4M1170 400h4M1070 401h4M1080 401h4M1083 401h4M1088 401h4M1086 402h4M1107 402h4M1159 402h4M1223 402h4M1098 403h4M1101 403h4M1173 403h4M1189 403h4M1069 404h4M1075 404h4M1080 404h4M1088 404h4M1093 404h4M1136 404h4M1143 404h4M1074 405h4M1076 405h4M1079 405h4M1081 405h4M1105 405h4M1107 405h4M1149 405h4M1160 405h4M1082 406h4M1085 406h4M1089 406h4M1092 406h4M1105 406h4M1107 406h4M1148 406h4M1066 407h4M1120 407h4M1144 407h4M1153 407h4M1171 407h4M1075 408h4M1077 408h4M1111 408h4M1126 408h4M1131 408h4M1155 408h4M1069 409h4M1070 409h4M1074 409h4M1093 409h4M1094 409h4M1096 409h4M1154 409h4M1069 410h4M1084 410h4M1091 410h4M1122 410h4M1131 410h4M1071 411h4M1071 411h4M1074 411h4M1076 411h4M1080 411h4M1086 411h4M1092 411h4M1106 411h4M1120 411h4M1121 411h4M1071 412h4M1140 412h4M1199 412h4M1073 413h4M1088 413h4M1089 413h4M1090 413h4M1093 413h4M1124 413h4M1069 414h4M1072 414h4M1093 414h4M1158 414h4M1208 414h4M1063 415h4M1064 415h4M1064 415h4M1065 415h4M1066 415h4M1070 415h4M1078 415h4M1081 415h4M1083 415h4M1089 415h4M1140 415h4M1190 415h4M1066 416h4M1070 416h4M1080 416h4M1081 416h4M1085 416h4M1087 416h4M1094 416h4M1112 416h4M1147 416h4M1163 416h4M1181 416h4M1062 417h4M1067 417h4M1073 417h4M1120 417h4M1126 417h4M1145 417h4M1167 417h4M1064 418h4M1067 418h4M1079 418h4M1080 418h4M1081 418h4M1109 418h4M1152 418h4M1066 419h4M1077 419h4M1080 419h4M1081 419h4M1089 419h4M1095 420h4M1096 420h4M1122 420h4M1158 420h4M1165 420h4M1370 420h4M1066 421h4M1066 421h4M1072 421h4M1100 421h4M1118 421h4M1185 421h4M1082 422h4M1083 422h4M1109 422h4M1150 422h4M1067 423h4M1073 423h4M1088 423h4M1098 423h4M1102 423h4M1130 423h4M1068 424h4M1077 424h4M1085 424h4M1127 424h4M1129 424h4M1072 425h4M1085 425h4M1089 425h4M1100 425h4M1100 425h4M1115 425h4M1122 425h4M1139 425h4M1147 425h4M1176 425h4M1078 426h4M1085 426h4M1129 426h4M1136 426h4M1079 427h4M1085 427h4M1086 427h4M1088 427h4M1088 427h4M1103 427h4M1115 427h4M1116 427h4M1117 427h4M1130 427h4M1354 427h4M1088 428h4M1098 428h4M1153 428h4M1171 428h4M1241 428h4M1082 429h4M1089 429h4M1102 429h4M1068 430h4M1075 430h4M1111 430h4M1148 430h4M1196 430h4M1066 431h4M1068 431h4M1072 431h4M1079 431h4M1082 431h4M1083 431h4M1098 431h4M1125 431h4M1090 432h4M1096 432h4M1101 432h4M1107 432h4M1114 432h4M1133 432h4M1133 432h4M1137 432h4M1067 433h4M1070 433h4M1078 433h4M1086 433h4M1087 433h4M1123 433h4M1132 433h4M1159 433h4M1088 434h4M1094 434h4M1113 434h4M1125 434h4M1174 434h4M1081 435h4M1081 435h4M1191 435h4M1082 436h4M1091 436h4M1167 436h4M1181 436h4M1143 437h4M1072 438h4M1073 438h4M1077 438h4M1080 438h4M1081 438h4M1081 438h4M1095 438h4M1100 438h4M1121 438h4M1127 438h4M1185 438h4M1071 439h4M1075 439h4M1083 439h4M1132 439h4M1074 440h4M1077 440h4M1088 440h4M1103 441h4M1113 441h4M1116 441h4M1121 441h4M1123 441h4M1094 442h4M1097 442h4M1104 442h4M1105 442h4M1152 442h4M1158 442h4M1077 443h4M1119 443h4M1123 443h4M1129 443h4M1148 443h4M1156 443h4M1193 443h4M1077 444h4M1079 444h4M1086 444h4M1116 444h4M1133 444h4M1139 444h4M1162 444h4M1199 444h4M1077 445h4M1082 445h4M1095 445h4M1154 445h4M1080 446h4M1082 446h4M1094 446h4M1121 446h4M1081 447h4M1084 447h4M1087 447h4M1108 447h4M1118 447h4M1147 447h4M1169 447h4M1171 447h4M1087 448h4M1111 448h4M1113 448h4M1129 448h4M1161 448h4M1081 449h4M1083 449h4M1091 449h4M1095 449h4M1096 449h4M1110 449h4M1113 449h4M1125 449h4M1173 449h4M1265 449h4M1126 450h4M1129 450h4M1141 450h4M1171 450h4M1099 451h4M1100 451h4M1103 451h4M1119 451h4M1138 451h4M1094 452h4M1102 452h4M1127 452h4M1131 452h4M1100 453h4M1100 453h4M1104 453h4M1107 453h4M1109 453h4M1123 453h4M1130 453h4M1131 453h4M1134 453h4M1137 453h4M1137 453h4M1086 454h4M1087 454h4M1095 454h4M1115 454h4M1122 454h4M1123 454h4M1158 454h4M1220 454h4M1088 455h4M1092 455h4M1093 455h4M1103 455h4M1104 455h4M1111 455h4M1115 455h4M1131 455h4M1182 455h4M1093 456h4M1098 456h4M1124 456h4M1132 456h4M1176 456h4M1086 457h4M1128 457h4M1089 458h4M1095 458h4M1098 458h4M1123 458h4M1128 458h4M1171 458h4M1088 459h4M1093 459h4M1124 459h4M1137 459h4M1160 459h4M1172 459h4M1180 459h4M1090 460h4M1090 460h4M1095 460h4M1095 460h4M1101 460h4M1105 460h4M1106 460h4M1130 460h4M1166 460h4M1316 460h4M1086 461h4M1099 461h4M1108 461h4M1156 461h4M1276 461h4M1089 462h4M1131 462h4M1155 462h4M1156 462h4M1181 462h4M1090 463h4M1099 463h4M1104 463h4M1115 463h4M1116 463h4M1150 463h4M1176 463h4M1091 464h4M1120 464h4M1155 464h4M1191 464h4M1114 465h4M1116 465h4M1142 465h4M1148 465h4M1172 465h4M1175 465h4M1181 465h4M1181 465h4M1090 466h4M1096 466h4M1099 466h4M1108 466h4M1134 466h4M1141 466h4M1145 466h4M1145 466h4M1145 466h4M1193 466h4M1211 466h4M1097 467h4M1102 467h4M1126 467h4M1133 467h4M1135 467h4M1149 467h4M1153 467h4M1162 467h4M1212 467h4M1091 468h4M1130 468h4M1133 468h4M1139 468h4M1140 468h4M1146 468h4M1309 468h4M1093 469h4M1103 469h4M1123 469h4M1162 469h4M1163 469h4M1102 470h4M1107 470h4M1114 470h4M1121 470h4M1129 470h4M1141 470h4M1148 470h4M1163 470h4M1101 471h4M1105 471h4M1117 471h4M1118 471h4M1122 471h4M1195 471h4M1103 472h4M1109 472h4M1116 472h4M1119 472h4M1124 472h4M1144 472h4M1119 473h4M1125 473h4M1161 473h4M1264 473h4M1108 474h4M1110 474h4M1110 474h4M1128 474h4M1139 474h4M1143 474h4M1164 474h4M1098 475h4M1104 475h4M1117 475h4M1136 475h4M1138 475h4M1145 475h4M1168 475h4M1176 475h4M1104 476h4M1115 476h4M1132 476h4M1145 476h4M1103 477h4M1105 477h4M1123 477h4M1133 477h4M1155 477h4M1168 477h4M1314 477h4M1153 478h4M1169 478h4M1240 478h4M1116 479h4M1121 479h4M1129 479h4M1142 479h4M1153 479h4M1162 479h4M1166 479h4M1173 479h4M1116 480h4M1128 480h4M1142 480h4M1143 480h4M1156 480h4M1156 480h4M1166 480h4M1180 480h4M1295 480h4M1367 480h4M1112 481h4M1114 481h4M1115 481h4M1130 481h4M1145 481h4M1154 481h4M1157 481h4M1177 481h4M1310 481h4M1318 481h4M1108 482h4M1111 482h4M1118 482h4M1120 482h4M1136 482h4M1122 483h4M1132 483h4M1142 483h4M1171 483h4M1182 483h4M1244 483h4M1121 484h4M1130 484h4M1145 484h4M1343 484h4M1382 484h4M1119 485h4M1124 485h4M1147 485h4M1161 485h4M1366 485h4M1134 486h4M1144 486h4M1157 486h4M1162 486h4M1139 487h4M1241 487h4M1256 487h4M1323 487h4M1138 488h4M1159 488h4M1169 488h4M1181 488h4M1137 489h4M1140 489h4M1141 489h4M1150 489h4M1152 489h4M1155 489h4M1156 489h4M1189 489h4M1236 489h4M1136 490h4M1142 490h4M1143 490h4M1154 490h4M1157 490h4M1256 490h4M1277 490h4M1142 491h4M1144 491h4M1147 491h4M1151 491h4M1156 491h4M1157 491h4M1178 491h4M1267 491h4M1143 492h4M1144 492h4M1146 492h4M1151 492h4M1174 492h4M1218 492h4M1268 492h4M1148 493h4M1157 493h4M1167 493h4M1142 494h4M1162 494h4M1169 494h4M1265 494h4M1177 495h4M1180 495h4M1196 495h4M1197 495h4M1165 496h4M1200 496h4M1216 496h4M1170 497h4M1171 497h4M1182 497h4M1172 498h4M1216 498h4M1217 498h4M1221 498h4M1224 498h4M1307 498h4M1165 499h4M1180 499h4M1180 499h4M1241 499h4M1168 500h4M1172 500h4M1188 500h4M1191 500h4M1195 500h4M1268 500h4M1315 500h4M1162 501h4M1163 501h4M1165 501h4M1170 501h4M1181 501h4M1190 501h4M1307 501h4M1323 501h4M1341 501h4M1352 501h4M1170 502h4M1181 502h4M1246 502h4M1250 502h4M1333 502h4M1348 502h4M1243 503h4M1287 503h4M1166 504h4M1180 504h4M1191 504h4M1273 504h4M1324 504h4M1371 504h4M1169 505h4M1177 505h4M1180 505h4M1200 505h4M1366 505h4M1190 506h4M1243 506h4M1272 506h4M1301 506h4M1377 506h4M1176 507h4M1186 507h4M1190 507h4M1230 507h4M1242 507h4M1268 507h4M1291 507h4M1292 507h4M1294 507h4M1319 507h4M1320 507h4M1373 507h4M1173 508h4M1174 508h4M1224 508h4M1227 508h4M1229 508h4M1252 508h4M1253 508h4M1259 508h4M1261 508h4M1297 508h4M1314 508h4M1323 508h4M1378 508h4M1172 509h4M1194 509h4M1207 509h4M1211 509h4M1252 509h4M1266 509h4M1280 509h4M1371 509h4M1182 510h4M1219 510h4M1239 510h4M1320 510h4M1323 510h4M1332 510h4M1361 510h4M1184 511h4M1185 511h4M1194 511h4M1224 511h4M1229 511h4M1231 511h4M1244 511h4M1254 511h4M1269 511h4M1287 511h4M1303 511h4M1307 511h4M1317 511h4M1355 511h4M1369 511h4M1385 511h4M1190 512h4M1196 512h4M1219 512h4M1223 512h4M1224 512h4M1247 512h4M1248 512h4M1271 512h4M1299 512h4M1320 512h4M1333 512h4M1347 512h4M1358 512h4M1376 512h4M1382 512h4M1184 513h4M1199 513h4M1207 513h4M1208 513h4M1222 513h4M1224 513h4M1253 513h4M1263 513h4M1299 513h4M1313 513h4M1347 513h4M1360 513h4M1372 513h4M1385 513h4M1189 514h4M1210 514h4M1234 514h4M1237 514h4M1248 514h4M1258 514h4M1259 514h4M1281 514h4M1298 514h4M1335 514h4M1347 514h4M1348 514h4M1296 515h4M1297 515h4M1317 515h4M1318 515h4M1322 515h4M1329 515h4M1330 515h4M1332 515h4M1351 515h4M1363 515h4M1365 515h4M1293 516h4M1296 516h4M1299 516h4M1301 516h4M1304 516h4M1306 516h4M1307 516h4M1309 516h4M1311 516h4M1344 516h4M1345 516h4M1347 516h4M1352 516h4M1360 516h4M1293 517h4M1303 517h4M1313 517h4M1326 517h4M1326 517h4M1354 517h4M1365 517h4M1369 517h4M1373 517h4M1375 517h4M1381 517h4M1300 518h4M1308 518h4M1313 518h4M1314 518h4M1326 518h4M1331 518h4M1338 518h4M1349 518h4M1356 518h4M1357 518h4M1357 518h4M1375 518h4M1383 519h4M1384 519h4M1385 519h4M1384 522h4"/>
<path stroke="#fff" stroke-width="2" fill="none" d="M1378 524h2M1252 519h2M1272 519h2M1292 519h2M1300 518h2M1304 518h2M1310 519h2M1342 519h2M1348 518h2M1355 520h2M1364 520h2M1368 520h2M1371 518h2M1375 518h2M1234 514h2M1243 515h2M1254 514h2M1263 516h2M1266 516h2M1271 515h2M1274 516h2M1279 515h2M1286 516h2M1171 512h2M1175 512h2M1156 506h2M1164 508h2M1150 504h2M1127 498h2M1148 498h2M1150 498h2M1156 498h2M1159 499h2M1136 496h2M1142 495h2M1132 490h2M1095 486h2M1098 488h2M1115 488h2M1120 486h2M1126 486h2M1132 487h2M1084 483h2M1091 483h2M1114 482h2M1088 480h2M1103 480h2M1080 475h2M1088 475h2M1094 474h2M1063 472h2M1074 472h2M1082 471h2M1087 471h2M1054 468h2M1068 468h2M1083 468h2M1072 464h2M1078 462h2M1082 463h2M1067 459h2M1070 459h2M1078 458h2M1082 458h2M1072 454h2M1083 455h2M1074 451h2M1047 448h2M1071 447h2M1038 442h2M1054 442h2M1060 442h2M1064 442h2M1066 442h2M1071 443h2M1066 438h2M1059 434h2M1064 435h2M1056 432h2M1058 428h2M1062 426h2M1060 424h2M1062 423h2M1047 419h2M1055 419h2M1064 420h2M1054 416h2M1059 414h2M1050 412h2M1060 410h2M1055 408h2M1062 406h2M1036 403h2M1047 402h2M1050 404h2M1054 403h2M1051 400h2M1058 400h2M1047 395h2M1050 394h2M1056 395h2M1059 394h2M1063 394h2M1043 392h2M1046 392h2M1056 391h2M1060 390h2M1046 387h2M1031 382h2M1047 384h2M1052 384h2M1020 380h2M1044 379h2M1051 378h2M1055 380h2M1043 375h2M1050 374h2M1056 376h2M1030 372h2M1044 371h2M1046 372h2M1020 366h2M1038 368h2M1047 366h2M1043 363h2M1016 360h2M1036 359h2M1042 358h2M1048 360h2M1052 359h2M1038 354h2M1043 356h2M1047 356h2M1018 350h2M1030 350h2M1038 352h2M1046 351h2M1052 352h2M1014 348h2M1035 347h2M1039 346h2M1043 348h2M1046 347h2M1036 342h2M1042 343h2M1048 342h2M1040 340h2M1042 339h2M1016 334h2M1027 334h2M1030 335h2M1034 336h2M1040 334h2M1043 334h2M1036 331h2M1019 327h2M1035 327h2M1038 326h2M1019 324h2M1027 323h2M1036 324h2M1040 322h2M1022 318h2M1026 318h2M1003 314h2M1031 316h2M1018 312h2M1022 311h2M1027 310h2M1031 312h2M1020 308h2M1022 307h2M1026 308h2M1030 308h2M1015 304h2M1031 302h2M1022 299h2M1027 298h2M1031 299h2M1022 296h2M1027 294h2M1032 295h2M996 290h2M1003 292h2M1026 291h2M992 288h2M1006 287h2M1018 287h2M1022 286h2M1027 286h2M1012 284h2M1014 284h2M1022 283h2M1006 278h2M1018 280h2M1010 276h2M1018 275h2M1027 275h2M1024 272h2M1026 271h2M1004 267h2M1012 266h2M1022 267h2M1011 263h2M1016 259h2M1020 260h2M1022 259h2M1006 254h2M1015 254h2M1023 254h2M1010 252h2M1022 251h2M1012 248h2M1019 246h2M1023 247h2M1020 244h2M1024 242h2M1018 239h2M1022 238h2M1027 238h2M1024 235h2M1027 235h2M987 232h2M1016 230h2M1028 232h2M991 227h2M1010 226h2M1020 226h2M1024 226h2M1010 224h2M1014 224h2M1028 224h2M1012 220h2M1020 220h2M1028 218h2M994 216h2M1016 216h2M1018 215h2M1023 215h2M1026 216h2M1008 208h2M1011 207h2M1030 208h2M1016 203h2M1026 203h2M1031 202h2M1008 200h2M1010 199h2M1018 199h2M1026 198h2M1032 200h2M1006 195h2M1015 196h2M1024 195h2M987 192h2M1010 191h2M1015 192h2M1019 190h2M1006 188h2M1011 188h2M1016 187h2M1020 187h2M1023 188h2M998 184h2M1003 183h2M1006 184h2M1012 182h2M1018 183h2M1024 184h2M974 178h2M1008 180h2M1011 180h2M1014 180h2M1020 178h2M986 175h2M995 175h2M1010 174h2M1016 175h2M998 170h2M1004 171h2M1007 171h2M1010 170h2M1014 172h2M968 166h2M992 168h2M1006 166h2M994 162h2M1004 164h2M1008 164h2M962 159h2M987 160h2M995 160h2M1000 159h2M1003 160h2M971 154h2M996 155h2M964 150h2M978 152h2M995 152h2M983 143h2M988 142h2M994 143h2M972 138h2M983 139h2M999 139h2M991 134h2M964 130h2M980 131h2M984 130h2M986 132h2M984 127h2M988 127h2M991 127h2M999 127h2M996 124h2M998 124h2M990 119h2M998 120h2M984 116h2M970 106h2M991 104h2M992 98h2M995 98h2M986 95h2M987 87h2M990 86h2M988 83h2M991 84h2M990 79h2M986 76h2M986 70h2M990 70h2M990 67h2M972 64h2M990 62h2M972 58h2M980 59h2M983 59h2M986 59h2M964 55h2M968 54h2M986 55h2M983 50h2M986 52h2M992 52h2M992 44h2"/>
<polyline points="923.6,299.8 924.1,310.8 924.6,320.8 925.1,329.9 925.6,338.2 926.1,345.8 926.6,352.8 927.1,359.2 927.6,365.2 928.1,370.7 928.6,375.9 929.1,380.7 929.6,385.2 930.1,389.4 930.6,393.4 931.1,397.1 931.6,400.6 932.1,403.9 932.6,407.1 933.1,410.1 933.6,412.9 934.1,415.6 934.6,418.1 935.1,420.6 935.6,422.9 936.1,425.1 936.6,427.2 937.1,429.3 937.6,431.2 938.1,433.1 938.6,434.9 939.1,436.6 939.6,438.2 940.1,439.8 940.6,441.3 941.1,442.8 941.6,444.2 942.1,445.6 942.6,446.9 943.1,448.2 943.6,449.4 946.6,456.0 949.6,461.5 952.6,466.1 955.6,470.1 958.6,473.6 961.6,476.6 964.6,479.3 967.6,481.6 970.6,483.7 973.6,485.7 976.6,487.4 979.6,489.0 982.6,490.4 985.6,491.7 988.6,492.9 991.6,494.1 994.6,495.1 997.6,496.1 1000.6,497.0 1003.6,497.8 1006.6,498.6 1009.6,499.3 1012.6,500.0 1015.6,500.7 1018.6,501.3 1021.6,501.9 1024.6,502.4 1027.6,503.0 1030.6,503.5 1033.6,503.9 1036.6,504.4 1039.6,504.8 1042.6,505.2 1045.6,505.6 1048.6,506.0 1051.6,506.3 1054.6,506.7 1057.6,507.0 1060.6,507.3 1063.6,507.6 1066.6,507.9 1069.6,508.2 1072.6,508.5 1075.6,508.7 1078.6,509.0 1081.6,509.2 1084.6,509.4 1087.6,509.7 1090.6,509.9 1093.6,510.1 1096.6,510.3 1099.6,510.5 1102.6,510.7 1105.6,510.9 1108.6,511.0 1111.6,511.2 1114.6,511.4 1117.6,511.5 1120.6,511.7 1123.6,511.9 1126.6,512.0 1129.6,512.2 1132.6,512.3 1135.6,512.4 1138.6,512.6 1141.6,512.7 1144.6,512.8 1147.6,513.0 1150.6,513.1 1153.6,513.2 1156.6,513.3 1159.6,513.4 1162.6,513.5 1165.6,513.6 1168.6,513.7 1171.6,513.8 1174.6,513.9 1177.6,514.0 1180.6,514.1 1183.6,514.2 1186.6,514.3 1189.6,514.4 1192.6,514.5 1195.6,514.6 1198.6,514.7 1201.6,514.8 1204.6,514.8 1207.6,514.9 1210.6,515.0 1213.6,515.1 1216.6,515.1 1219.6,515.2 1222.6,515.3 1225.6,515.4 1228.6,515.4 1231.6,515.5 1234.6,515.6 1237.6,515.6 1240.6,515.7 1243.6,515.8 1246.6,515.8 1249.6,515.9 1252.6,515.9 1255.6,516.0 1258.6,516.1 1261.6,516.1 1264.6,516.2 1267.6,516.2 1270.6,516.3 1273.6,516.3 1276.6,516.4 1279.6,516.4 1282.6,516.5 1285.6,516.5 1288.6,516.6 1291.6,516.6 1294.6,516.7 1297.6,516.7 1300.6,516.8 1303.6,516.8 1306.6,516.9 1309.6,516.9 1312.6,516.9 1315.6,517.0 1318.6,517.0 1321.6,517.1 1324.6,517.1 1327.6,517.1 1330.6,517.2 1333.6,517.2 1336.6,517.3 1339.6,517.3 1342.6,517.3 1345.6,517.4 1348.6,517.4 1351.6,517.4 1354.6,517.5 1357.6,517.5 1360.6,517.5 1363.6,517.6 1366.6,517.6 1369.6,517.6 1372.6,517.7 1375.6,517.7 1378.6,517.7 1381.6,517.8 1384.6,517.8 1385.0,517.8" fill="none" stroke="#f00" stroke-width="5" stroke-linecap="round" stroke-linejoin="round"/>
<line x1="905.0" x2="1401.6" y1="474.6" y2="474.6" stroke="#1010e0" stroke-width="2"/>
<line x1="933.0" x2="933.0" y1="13.0" y2="542.8" stroke="#1ef01e" stroke-width="2"/>
<rect x="905.0" y="13.0" width="496.6" height="529.8" fill="none" stroke="#000" stroke-width="2"/>
<line x1="888.0" x2="905.0" y1="523.70" y2="523.70" stroke="#000" stroke-width="2"/>
<text transform="translate(865.0,523.70) rotate(-90) scale(0.955,1.07)" text-anchor="middle" font-size="29">0.0</text>
<line x1="888.0" x2="905.0" y1="425.52" y2="425.52" stroke="#000" stroke-width="2"/>
<text transform="translate(865.0,425.52) rotate(-90) scale(0.955,1.07)" text-anchor="middle" font-size="29">0.2</text>
<line x1="888.0" x2="905.0" y1="327.34" y2="327.34" stroke="#000" stroke-width="2"/>
<text transform="translate(865.0,327.34) rotate(-90) scale(0.955,1.07)" text-anchor="middle" font-size="29">0.4</text>
<line x1="888.0" x2="905.0" y1="229.16" y2="229.16" stroke="#000" stroke-width="2"/>
<text transform="translate(865.0,229.16) rotate(-90) scale(0.955,1.07)" text-anchor="middle" font-size="29">0.6</text>
<line x1="888.0" x2="905.0" y1="130.98" y2="130.98" stroke="#000" stroke-width="2"/>
<text transform="translate(865.0,130.98) rotate(-90) scale(0.955,1.07)" text-anchor="middle" font-size="29">0.8</text>
<line x1="888.0" x2="905.0" y1="32.80" y2="32.80" stroke="#000" stroke-width="2"/>
<text transform="translate(865.0,32.80) rotate(-90) scale(0.955,1.07)" text-anchor="middle" font-size="29">1.0</text>
<line x1="923.60" x2="923.60" y1="542.8" y2="559.8" stroke="#000" stroke-width="2"/>
<line x1="1005.70" x2="1005.70" y1="542.8" y2="559.8" stroke="#000" stroke-width="2"/>
<line x1="1087.80" x2="1087.80" y1="542.8" y2="559.8" stroke="#000" stroke-width="2"/>
<line x1="1169.90" x2="1169.90" y1="542.8" y2="559.8" stroke="#000" stroke-width="2"/>
<line x1="1252.00" x2="1252.00" y1="542.8" y2="559.8" stroke="#000" stroke-width="2"/>
<line x1="1334.10" x2="1334.10" y1="542.8" y2="559.8" stroke="#000" stroke-width="2"/>
<text x="923.60" y="603.4" text-anchor="middle" font-size="29">0.0e+00</text>
<text x="1087.80" y="603.4" text-anchor="middle" font-size="29">1.0e+08</text>
<text x="1252.00" y="603.4" text-anchor="middle" font-size="29">2.0e+08</text>
<text x="933.0" y="571.8" text-anchor="middle" font-size="21.5" fill="#1ef01e">5753017</text>
<text x="1153.3" y="670.6" text-anchor="middle" font-size="28.6">Distance (bp)</text>
<text transform="translate(792.0,277.9) rotate(-90) scale(1.05,1)" text-anchor="middle" font-size="28.6">LD (r<tspan font-size="19.5" dy="-14">2</tspan><tspan dy="14">)</tspan></text>
<text x="1119.1" y="286.2" font-size="45" font-weight="bold" textLength="261.6" lengthAdjust="spacingAndGlyphs">B Subenome</text>
<rect x="172" y="729" width="278" height="3" fill="#a1a1a1"/>
<path stroke="#a1a1a1" stroke-width="4" fill="none" d="M453 730h4M468 730h4M473 730h4M478 730h4M488 730h4M498 730h4M516 730h4M546 730h4M172 1230h444M172 1226h428M172 1222h388M172 1218h320M172 1214h292M172 1210h272M172 1206h248M172 1202h232M172 1198h216M172 1194h200M172 1190h188M172 1186h180M172 1182h172M172 1178h168M172 1174h164M172 1170h160M172 1166h148M172 1162h144M172 1158h136M172 1154h128M172 1150h124M172 1146h116M172 1142h108M172 1138h104M172 1134h100M172 1130h100M172 1126h96M172 1122h92M172 1118h92M172 1114h88M172 1110h88M172 1106h84M172 1102h84M172 1098h80M172 1094h76M172 1090h76M172 1086h76M172 1082h72M172 1078h72M172 1074h72M172 1070h68M172 1066h68M172 1062h68M172 1058h64M172 1054h64M172 1050h64M172 1046h64M172 1042h60M172 1038h60M172 1034h60M172 1030h56M172 1026h56M172 1022h52M172 1018h52M172 1014h52M172 1010h52M172 1006h52M172 1002h48M172 998h48M172 994h48M172 990h48M172 986h44M172 982h44M172 978h44M172 974h40M172 970h40M172 966h40M172 962h40M172 958h40M172 954h40M172 950h40M172 946h36M172 942h36M172 938h36M172 934h36M172 930h36M172 926h32M172 922h32M172 918h32M172 914h32M172 910h32M172 906h32M172 902h36M172 898h36M172 894h40M172 890h44M172 886h44M172 882h44M172 878h44M172 874h44M172 870h44M172 866h44M172 862h44M172 858h48M172 854h48M172 850h52M172 846h52M172 842h56M172 838h56M172 834h56M172 830h56M172 826h56M172 822h56M172 818h56M172 814h52M172 810h52M172 806h52M172 802h52M172 798h52M172 794h52M172 790h52M172 786h52M172 782h52M172 778h52M172 774h52M172 770h52M172 766h52M172 762h52M172 758h56M172 754h56M172 750h56M172 746h56M172 742h60M172 738h64M240 738h4M241 738h4M245 738h4M251 738h4M272 738h4M274 738h4M366 738h4M236 739h4M249 739h4M252 739h4M254 739h4M272 739h4M273 739h4M291 739h4M297 739h4M315 739h4M334 739h4M340 739h4M351 739h4M369 739h4M383 739h4M459 739h4M241 740h4M243 740h4M245 740h4M273 740h4M279 740h4M291 740h4M292 740h4M301 740h4M390 740h4M399 740h4M406 740h4M414 740h4M415 740h4M274 741h4M311 741h4M332 741h4M404 741h4M235 742h4M240 742h4M241 742h4M245 742h4M247 742h4M252 742h4M269 742h4M270 742h4M270 742h4M307 742h4M426 742h4M429 742h4M455 742h4M233 743h4M236 743h4M265 743h4M291 743h4M348 743h4M356 743h4M367 743h4M368 743h4M399 743h4M402 743h4M417 743h4M239 744h4M240 744h4M246 744h4M276 744h4M281 744h4M297 744h4M328 744h4M338 744h4M340 744h4M398 744h4M417 744h4M238 745h4M246 745h4M264 745h4M266 745h4M273 745h4M284 745h4M290 745h4M322 745h4M338 745h4M362 745h4M427 745h4M228 746h4M231 746h4M231 746h4M234 746h4M239 746h4M261 746h4M262 746h4M268 746h4M272 746h4M277 746h4M308 746h4M343 746h4M346 746h4M392 746h4M400 746h4M422 746h4M423 746h4M439 746h4M237 747h4M239 747h4M243 747h4M245 747h4M258 747h4M260 747h4M262 747h4M263 747h4M268 747h4M270 747h4M325 747h4M354 747h4M379 747h4M382 747h4M474 747h4M229 748h4M229 748h4M236 748h4M279 748h4M324 748h4M327 748h4M348 748h4M354 748h4M358 748h4M358 748h4M371 748h4M388 748h4M404 748h4M232 749h4M234 749h4M236 749h4M249 749h4M249 749h4M250 749h4M255 749h4M314 749h4M244 750h4M246 750h4M250 750h4M286 750h4M318 750h4M390 750h4M411 750h4M434 750h4M476 750h4M229 751h4M231 751h4M240 751h4M240 751h4M302 751h4M320 751h4M353 751h4M373 751h4M414 751h4M427 751h4M443 751h4M236 752h4M243 752h4M285 752h4M342 752h4M367 752h4M387 752h4M469 752h4M228 753h4M245 753h4M265 753h4M288 753h4M294 753h4M303 753h4M307 753h4M321 753h4M401 753h4M426 753h4M234 754h4M247 754h4M298 754h4M314 754h4M346 754h4M358 754h4M230 755h4M256 755h4M349 755h4M379 755h4M466 755h4M229 756h4M239 756h4M268 756h4M305 756h4M407 756h4M420 756h4M431 756h4M485 756h4M488 756h4M235 757h4M241 757h4M245 757h4M246 757h4M279 757h4M294 757h4M321 757h4M327 757h4M341 757h4M364 757h4M414 757h4M450 757h4M452 757h4M499 757h4M229 758h4M230 758h4M232 758h4M237 758h4M302 758h4M228 759h4M235 759h4M261 759h4M290 759h4M400 759h4M412 759h4M444 759h4M231 760h4M238 760h4M275 760h4M282 760h4M301 760h4M329 760h4M340 760h4M369 760h4M397 760h4M412 760h4M449 760h4M234 761h4M245 761h4M266 761h4M308 761h4M374 761h4M392 761h4M227 762h4M229 762h4M229 762h4M254 762h4M276 762h4M293 762h4M326 762h4M401 762h4M237 763h4M330 763h4M371 763h4M409 763h4M235 764h4M236 764h4M284 764h4M324 764h4M354 764h4M389 764h4M399 764h4M400 764h4M432 764h4M224 765h4M225 765h4M229 765h4M236 765h4M243 765h4M262 765h4M236 766h4M258 766h4M288 766h4M289 766h4M326 766h4M225 767h4M226 767h4M231 767h4M267 767h4M268 767h4M306 767h4M308 767h4M330 767h4M363 767h4M397 767h4M399 767h4M414 767h4M234 768h4M251 768h4M252 768h4M276 768h4M277 768h4M284 768h4M337 768h4M399 768h4M227 769h4M231 769h4M236 769h4M307 769h4M408 769h4M247 770h4M285 770h4M319 770h4M360 771h4M424 771h4M227 772h4M233 772h4M236 772h4M247 772h4M268 772h4M294 772h4M298 772h4M315 772h4M502 772h4M317 773h4M367 773h4M413 773h4M229 774h4M254 774h4M268 774h4M321 774h4M330 774h4M421 774h4M224 775h4M283 775h4M304 775h4M315 775h4M368 775h4M406 775h4M408 775h4M238 776h4M238 776h4M299 776h4M348 776h4M378 776h4M512 776h4M239 777h4M287 777h4M411 777h4M431 777h4M454 777h4M463 777h4M262 778h4M269 778h4M278 778h4M284 778h4M318 778h4M358 778h4M400 778h4M239 779h4M292 779h4M374 779h4M231 780h4M239 780h4M315 780h4M398 780h4M411 780h4M231 781h4M232 781h4M234 781h4M239 781h4M248 781h4M254 781h4M297 781h4M309 781h4M326 781h4M401 781h4M455 781h4M231 782h4M231 782h4M232 782h4M266 782h4M269 782h4M330 782h4M362 782h4M362 782h4M378 782h4M244 783h4M317 783h4M371 783h4M382 783h4M391 783h4M399 783h4M414 783h4M423 783h4M228 784h4M226 785h4M233 785h4M237 785h4M375 785h4M388 785h4M243 786h4M279 786h4M288 786h4M304 786h4M365 786h4M395 786h4M226 787h4M227 787h4M229 787h4M245 787h4M254 787h4M263 787h4M291 787h4M379 787h4M232 788h4M240 788h4M287 788h4M380 788h4M389 788h4M409 788h4M431 788h4M228 789h4M229 789h4M234 789h4M235 789h4M265 789h4M293 789h4M336 789h4M350 789h4M359 789h4M225 790h4M421 790h4M426 790h4M229 791h4M241 791h4M250 791h4M265 791h4M275 791h4M279 791h4M284 791h4M227 792h4M230 792h4M233 792h4M236 792h4M227 793h4M258 793h4M316 793h4M329 793h4M365 793h4M407 793h4M227 794h4M250 794h4M251 794h4M311 794h4M319 794h4M358 794h4M371 794h4M228 795h4M232 795h4M250 795h4M256 795h4M324 795h4M355 795h4M362 795h4M227 796h4M264 796h4M286 796h4M295 796h4M302 796h4M396 796h4M452 796h4M231 797h4M233 797h4M298 797h4M324 797h4M328 797h4M445 797h4M224 798h4M239 798h4M278 798h4M295 798h4M430 798h4M230 799h4M234 799h4M238 799h4M295 799h4M351 799h4M406 799h4M407 799h4M414 799h4M226 800h4M254 800h4M257 800h4M291 800h4M307 800h4M352 800h4M374 800h4M397 800h4M468 800h4M475 800h4M498 800h4M592 800h4M259 801h4M347 801h4M372 801h4M381 801h4M272 802h4M273 802h4M279 802h4M280 802h4M233 803h4M234 803h4M257 803h4M274 803h4M300 803h4M324 803h4M327 803h4M587 803h4M226 804h4M236 804h4M248 804h4M258 804h4M262 804h4M287 804h4M303 804h4M347 804h4M374 804h4M449 804h4M266 805h4M307 805h4M341 805h4M370 805h4M375 805h4M404 805h4M229 806h4M248 806h4M308 806h4M316 806h4M405 806h4M230 807h4M253 807h4M304 807h4M321 807h4M346 807h4M392 807h4M227 808h4M228 808h4M257 808h4M354 808h4M359 808h4M387 808h4M404 808h4M421 808h4M225 809h4M229 809h4M236 809h4M265 809h4M302 809h4M317 809h4M352 809h4M432 809h4M244 810h4M248 810h4M258 810h4M263 810h4M280 810h4M287 810h4M308 810h4M347 810h4M491 810h4M226 811h4M237 811h4M252 811h4M262 811h4M336 811h4M336 811h4M349 811h4M427 811h4M472 811h4M224 812h4M246 812h4M252 812h4M260 812h4M264 812h4M291 812h4M298 812h4M318 812h4M385 812h4M435 812h4M305 813h4M341 813h4M359 813h4M368 813h4M430 813h4M224 814h4M225 814h4M243 814h4M253 814h4M254 814h4M307 814h4M372 814h4M379 814h4M403 814h4M429 814h4M436 814h4M226 815h4M234 815h4M250 815h4M344 815h4M230 816h4M232 816h4M248 816h4M249 816h4M257 816h4M267 816h4M269 816h4M402 816h4M234 817h4M238 817h4M254 817h4M260 817h4M553 817h4M231 818h4M236 818h4M239 818h4M240 818h4M256 818h4M269 818h4M320 818h4M348 818h4M453 818h4M235 819h4M251 819h4M257 819h4M265 819h4M309 819h4M361 819h4M392 819h4M393 819h4M398 819h4M228 820h4M242 820h4M276 820h4M279 820h4M484 820h4M233 821h4M251 821h4M288 821h4M315 821h4M323 821h4M350 821h4M439 821h4M240 822h4M276 822h4M290 822h4M316 822h4M228 823h4M271 823h4M288 823h4M311 823h4M322 823h4M375 823h4M438 823h4M232 824h4M236 824h4M243 824h4M318 824h4M364 824h4M231 825h4M232 825h4M256 825h4M260 825h4M271 825h4M404 825h4M230 826h4M241 826h4M245 826h4M260 826h4M291 826h4M304 826h4M317 826h4M353 826h4M361 826h4M383 826h4M233 827h4M234 827h4M239 827h4M257 827h4M271 827h4M282 827h4M425 827h4M446 827h4M235 828h4M235 828h4M237 828h4M245 828h4M304 828h4M531 828h4M243 829h4M250 829h4M314 829h4M378 829h4M405 829h4M300 830h4M310 830h4M238 831h4M257 831h4M259 831h4M300 831h4M317 831h4M358 831h4M380 831h4M383 831h4M607 831h4M228 832h4M235 832h4M244 832h4M253 832h4M271 832h4M294 832h4M231 833h4M237 833h4M241 833h4M284 833h4M295 833h4M228 834h4M234 834h4M238 834h4M240 834h4M247 834h4M249 834h4M292 834h4M293 834h4M317 834h4M320 834h4M400 834h4M493 834h4M229 835h4M231 835h4M255 835h4M348 835h4M232 836h4M288 836h4M459 836h4M557 836h4M235 837h4M236 837h4M246 837h4M290 837h4M337 837h4M344 837h4M352 837h4M364 837h4M235 838h4M244 838h4M244 838h4M246 838h4M247 838h4M254 838h4M262 838h4M274 838h4M324 838h4M348 838h4M351 838h4M394 838h4M230 839h4M236 839h4M237 839h4M244 839h4M278 839h4M281 839h4M405 839h4M232 841h4M254 841h4M488 841h4M583 841h4M229 842h4M401 842h4M447 842h4M229 843h4M234 843h4M238 843h4M240 843h4M254 843h4M261 843h4M416 843h4M437 843h4M594 843h4M256 844h4M275 844h4M277 844h4M391 844h4M536 844h4M228 845h4M232 845h4M242 845h4M310 845h4M316 845h4M419 845h4M226 846h4M246 846h4M252 846h4M503 846h4M231 847h4M236 847h4M256 847h4M260 847h4M281 847h4M331 847h4M358 847h4M452 847h4M235 848h4M237 848h4M238 848h4M241 848h4M247 848h4M300 848h4M416 848h4M446 848h4M509 848h4M224 849h4M231 849h4M281 849h4M291 849h4M336 849h4M247 850h4M253 850h4M282 850h4M401 850h4M535 850h4M225 851h4M230 851h4M250 851h4M308 851h4M546 851h4M224 852h4M233 852h4M246 852h4M302 852h4M546 852h4M225 853h4M226 853h4M236 853h4M237 853h4M242 853h4M291 853h4M301 853h4M301 853h4M220 854h4M232 854h4M253 854h4M257 854h4M295 854h4M392 854h4M224 855h4M228 855h4M230 855h4M236 855h4M244 855h4M244 855h4M245 855h4M248 855h4M298 855h4M577 855h4M613 855h4M222 856h4M227 856h4M230 856h4M233 856h4M235 856h4M236 856h4M239 856h4M243 856h4M281 856h4M285 856h4M294 856h4M341 856h4M589 856h4M230 857h4M237 857h4M452 857h4M227 858h4M234 858h4M265 858h4M281 858h4M321 858h4M227 859h4M245 859h4M255 859h4M282 859h4M289 859h4M322 859h4M446 859h4M473 859h4M483 859h4M246 860h4M261 860h4M328 860h4M371 860h4M477 860h4M220 861h4M220 861h4M228 861h4M236 861h4M276 861h4M285 861h4M216 862h4M225 862h4M250 862h4M370 862h4M635 862h4M226 863h4M228 863h4M238 863h4M241 863h4M250 863h4M253 863h4M289 863h4M322 863h4M344 863h4M498 863h4M229 864h4M239 864h4M305 864h4M428 864h4M454 864h4M467 864h4M220 865h4M221 865h4M226 865h4M263 865h4M268 865h4M568 865h4M236 866h4M325 866h4M226 867h4M234 867h4M240 867h4M261 867h4M267 867h4M317 867h4M333 867h4M345 867h4M368 867h4M564 867h4M216 868h4M240 868h4M247 868h4M249 868h4M260 868h4M267 868h4M272 868h4M283 868h4M411 868h4M461 868h4M492 868h4M217 869h4M218 869h4M223 869h4M226 869h4M226 869h4M228 869h4M240 869h4M245 869h4M249 869h4M262 869h4M407 869h4M413 869h4M515 869h4M219 870h4M238 870h4M259 870h4M261 870h4M297 870h4M421 870h4M560 870h4M222 871h4M223 871h4M223 871h4M224 871h4M225 871h4M262 871h4M271 871h4M537 871h4M217 872h4M218 872h4M221 872h4M222 872h4M227 872h4M232 872h4M254 872h4M281 872h4M285 872h4M292 872h4M299 872h4M378 872h4M388 872h4M395 872h4M438 872h4M280 873h4M351 873h4M490 873h4M614 873h4M220 874h4M223 874h4M226 874h4M231 874h4M236 874h4M273 874h4M327 874h4M356 874h4M361 874h4M478 874h4M225 875h4M251 875h4M335 875h4M342 875h4M348 875h4M216 876h4M219 876h4M231 876h4M232 876h4M236 876h4M248 876h4M249 876h4M279 876h4M294 876h4M324 876h4M345 876h4M464 876h4M227 877h4M229 877h4M232 877h4M276 877h4M289 877h4M313 877h4M472 877h4M222 878h4M222 878h4M228 878h4M282 878h4M288 878h4M297 878h4M320 878h4M350 878h4M552 878h4M216 879h4M220 879h4M224 879h4M230 879h4M233 879h4M236 879h4M240 879h4M244 879h4M245 879h4M245 879h4M256 879h4M264 879h4M291 879h4M323 879h4M349 879h4M436 879h4M556 879h4M220 880h4M226 880h4M246 880h4M280 880h4M285 880h4M332 880h4M341 880h4M428 880h4M471 880h4M475 880h4M559 880h4M219 881h4M278 881h4M300 881h4M478 881h4M483 881h4M226 882h4M260 882h4M278 882h4M309 882h4M354 882h4M224 883h4M232 883h4M236 883h4M246 883h4M249 883h4M311 883h4M357 883h4M237 884h4M274 884h4M282 884h4M301 884h4M534 884h4M231 885h4M245 885h4M248 885h4M442 885h4M443 885h4M514 885h4M218 886h4M235 886h4M253 886h4M254 886h4M262 886h4M355 886h4M454 886h4M586 886h4M217 887h4M217 887h4M239 887h4M241 887h4M247 887h4M272 887h4M284 887h4M298 887h4M302 887h4M340 887h4M353 887h4M252 888h4M506 888h4M221 889h4M228 889h4M259 889h4M285 889h4M298 889h4M318 889h4M333 889h4M335 889h4M461 889h4M219 890h4M235 890h4M239 890h4M251 890h4M359 890h4M433 890h4M216 891h4M248 891h4M252 891h4M268 891h4M269 891h4M292 891h4M303 891h4M482 891h4M217 892h4M268 892h4M345 892h4M418 892h4M449 892h4M222 893h4M234 893h4M241 893h4M260 893h4M267 893h4M367 893h4M396 893h4M422 893h4M510 893h4M230 894h4M256 894h4M265 894h4M273 894h4M315 894h4M452 894h4M612 894h4M226 895h4M231 895h4M235 895h4M240 895h4M254 895h4M333 895h4M363 895h4M367 895h4M481 895h4M555 895h4M214 896h4M218 896h4M226 896h4M238 896h4M244 896h4M291 896h4M330 896h4M331 896h4M341 896h4M356 896h4M367 896h4M524 896h4M631 896h4M212 897h4M226 897h4M237 897h4M265 897h4M274 897h4M228 898h4M242 898h4M246 898h4M248 898h4M263 898h4M326 898h4M541 898h4M208 899h4M210 899h4M241 899h4M296 899h4M303 899h4M342 899h4M385 899h4M216 900h4M220 900h4M379 900h4M398 900h4M209 901h4M211 901h4M223 901h4M250 901h4M266 901h4M266 901h4M270 901h4M282 901h4M308 901h4M371 901h4M389 901h4M212 902h4M218 902h4M222 902h4M241 902h4M243 902h4M248 902h4M249 902h4M270 902h4M278 902h4M295 902h4M300 902h4M318 902h4M333 902h4M371 902h4M374 902h4M210 903h4M210 903h4M210 903h4M210 903h4M234 903h4M256 903h4M268 903h4M371 903h4M386 903h4M218 904h4M223 904h4M254 904h4M265 904h4M283 904h4M216 905h4M219 905h4M249 905h4M251 905h4M304 905h4M324 905h4M228 906h4M232 906h4M235 906h4M334 906h4M334 906h4M214 907h4M218 907h4M230 907h4M262 907h4M264 907h4M267 907h4M343 907h4M379 907h4M459 907h4M467 907h4M207 908h4M211 908h4M214 908h4M224 908h4M225 908h4M259 908h4M260 908h4M278 908h4M284 908h4M289 908h4M306 908h4M341 908h4M397 908h4M206 909h4M212 909h4M215 909h4M215 909h4M239 909h4M249 909h4M278 909h4M328 909h4M449 909h4M221 910h4M224 910h4M227 910h4M230 910h4M319 910h4M360 910h4M205 911h4M287 911h4M344 911h4M362 911h4M417 911h4M208 912h4M214 912h4M216 912h4M217 912h4M219 912h4M243 912h4M250 912h4M275 912h4M303 912h4M311 912h4M317 912h4M343 912h4M214 913h4M237 913h4M266 913h4M272 913h4M344 913h4M372 913h4M206 914h4M213 914h4M216 914h4M221 914h4M226 914h4M253 914h4M283 914h4M370 914h4M396 914h4M607 914h4M207 915h4M209 915h4M215 915h4M218 915h4M228 915h4M244 915h4M249 915h4M287 915h4M227 916h4M284 916h4M330 916h4M331 916h4M206 917h4M209 917h4M215 917h4M222 917h4M229 917h4M230 917h4M231 917h4M265 917h4M266 917h4M266 917h4M270 917h4M320 917h4M335 917h4M452 917h4M518 917h4M572 917h4M205 918h4M223 918h4M232 918h4M343 918h4M345 918h4M430 918h4M204 919h4M215 919h4M216 919h4M219 919h4M220 919h4M209 920h4M210 920h4M284 920h4M289 920h4M296 920h4M312 920h4M342 920h4M381 920h4M218 921h4M230 921h4M205 922h4M216 922h4M218 922h4M221 922h4M232 922h4M247 922h4M249 922h4M266 922h4M364 922h4M371 922h4M623 922h4M215 923h4M219 923h4M221 923h4M256 923h4M262 923h4M302 923h4M306 923h4M440 923h4M207 924h4M287 924h4M308 924h4M557 924h4M267 925h4M270 925h4M274 925h4M297 925h4M601 925h4M213 926h4M217 926h4M230 926h4M231 926h4M254 926h4M257 926h4M262 926h4M291 926h4M295 926h4M295 926h4M315 926h4M208 927h4M210 927h4M221 927h4M223 927h4M224 927h4M234 927h4M276 927h4M295 927h4M205 928h4M211 928h4M213 928h4M215 928h4M219 928h4M262 928h4M364 928h4M519 928h4M205 929h4M207 929h4M207 929h4M220 929h4M223 929h4M225 929h4M230 929h4M233 929h4M235 929h4M256 929h4M282 929h4M305 929h4M370 929h4M407 929h4M410 929h4M220 930h4M220 930h4M232 930h4M273 930h4M280 930h4M283 930h4M407 930h4M217 931h4M218 931h4M218 931h4M229 931h4M233 931h4M238 931h4M243 931h4M268 931h4M327 931h4M218 932h4M220 932h4M236 932h4M478 932h4M214 933h4M220 933h4M244 933h4M249 933h4M249 933h4M251 933h4M284 933h4M339 933h4M358 933h4M223 934h4M244 934h4M289 934h4M330 934h4M213 935h4M295 935h4M298 935h4M210 936h4M215 936h4M217 936h4M232 936h4M244 936h4M250 936h4M254 936h4M268 936h4M290 936h4M213 937h4M218 937h4M226 937h4M241 937h4M251 937h4M393 937h4M211 938h4M212 938h4M215 938h4M218 938h4M220 938h4M236 938h4M238 938h4M245 938h4M248 938h4M281 938h4M333 938h4M209 939h4M213 939h4M236 939h4M238 939h4M248 939h4M258 939h4M289 939h4M210 940h4M223 940h4M225 940h4M245 940h4M250 940h4M254 940h4M290 940h4M310 940h4M386 940h4M217 941h4M223 941h4M264 941h4M287 941h4M437 941h4M211 942h4M235 942h4M250 942h4M293 942h4M298 942h4M208 943h4M229 943h4M236 943h4M301 943h4M324 943h4M370 943h4M449 943h4M603 943h4M215 944h4M240 944h4M212 945h4M212 945h4M213 945h4M221 945h4M223 945h4M240 945h4M454 945h4M500 945h4M208 946h4M229 946h4M231 946h4M238 946h4M243 946h4M273 946h4M302 946h4M326 946h4M335 946h4M360 946h4M365 946h4M208 947h4M221 947h4M223 947h4M223 947h4M247 947h4M281 947h4M313 947h4M335 947h4M511 947h4M211 948h4M214 948h4M232 948h4M256 948h4M256 948h4M275 948h4M317 948h4M339 948h4M221 949h4M228 949h4M231 949h4M232 949h4M233 949h4M288 949h4M466 949h4M243 950h4M261 950h4M264 950h4M277 950h4M385 950h4M455 950h4M229 951h4M236 951h4M249 951h4M259 951h4M263 951h4M240 952h4M260 952h4M265 952h4M282 952h4M283 952h4M214 953h4M241 953h4M244 953h4M282 953h4M295 953h4M307 953h4M351 953h4M223 954h4M246 954h4M251 954h4M280 954h4M304 954h4M348 954h4M214 955h4M215 955h4M217 955h4M229 955h4M257 955h4M262 955h4M332 955h4M216 956h4M217 956h4M255 956h4M273 956h4M305 956h4M391 956h4M215 957h4M222 957h4M235 957h4M314 957h4M331 957h4M217 958h4M307 958h4M361 958h4M361 958h4M216 959h4M227 959h4M257 959h4M319 959h4M334 959h4M395 959h4M215 960h4M222 960h4M223 960h4M225 960h4M237 960h4M246 960h4M280 960h4M299 960h4M317 960h4M387 960h4M225 961h4M227 961h4M239 961h4M250 961h4M252 961h4M482 961h4M213 962h4M230 962h4M273 962h4M323 962h4M226 963h4M237 963h4M246 963h4M303 963h4M318 963h4M320 963h4M346 963h4M415 963h4M212 964h4M216 964h4M235 964h4M270 964h4M270 964h4M319 964h4M215 965h4M216 965h4M222 965h4M226 965h4M232 965h4M235 965h4M249 965h4M251 965h4M280 965h4M290 965h4M340 965h4M212 966h4M213 966h4M214 966h4M214 966h4M217 966h4M220 966h4M234 966h4M248 966h4M278 966h4M307 966h4M328 966h4M333 966h4M335 966h4M370 966h4M382 966h4M220 967h4M220 967h4M229 967h4M254 967h4M254 967h4M260 967h4M271 967h4M291 967h4M298 967h4M378 967h4M215 968h4M221 968h4M236 968h4M266 968h4M289 968h4M338 968h4M212 969h4M254 969h4M263 969h4M279 969h4M284 969h4M315 969h4M212 970h4M221 970h4M226 970h4M241 970h4M242 970h4M248 970h4M264 970h4M295 970h4M221 971h4M223 971h4M229 971h4M237 971h4M262 971h4M581 971h4M213 972h4M217 972h4M237 972h4M262 972h4M307 972h4M307 972h4M212 973h4M234 973h4M268 973h4M282 973h4M284 973h4M342 973h4M363 973h4M364 973h4M537 973h4M215 974h4M216 974h4M216 974h4M218 974h4M239 974h4M250 974h4M259 974h4M297 974h4M317 974h4M351 974h4M468 974h4M635 974h4M219 975h4M224 975h4M240 975h4M244 975h4M246 975h4M257 975h4M299 975h4M213 976h4M217 976h4M222 976h4M236 976h4M251 976h4M251 976h4M255 976h4M269 976h4M218 977h4M222 977h4M248 977h4M262 977h4M268 977h4M281 977h4M320 977h4M330 977h4M225 978h4M230 978h4M245 978h4M246 978h4M251 978h4M283 978h4M297 978h4M337 978h4M242 979h4M242 979h4M247 979h4M270 979h4M293 979h4M306 979h4M332 979h4M334 979h4M262 980h4M266 980h4M298 980h4M305 980h4M408 980h4M443 980h4M216 981h4M219 981h4M221 981h4M225 981h4M226 981h4M226 981h4M233 981h4M233 981h4M235 981h4M250 981h4M251 981h4M287 981h4M290 981h4M303 981h4M306 981h4M216 982h4M221 982h4M225 982h4M258 982h4M260 982h4M264 982h4M275 982h4M306 982h4M307 982h4M317 982h4M366 982h4M219 983h4M222 983h4M227 983h4M238 983h4M247 983h4M252 983h4M254 983h4M263 983h4M284 983h4M314 983h4M216 984h4M220 984h4M226 984h4M232 984h4M254 984h4M257 984h4M285 984h4M305 984h4M437 984h4M229 985h4M234 985h4M271 985h4M316 985h4M319 985h4M217 986h4M236 986h4M243 986h4M263 986h4M267 986h4M305 986h4M312 986h4M326 986h4M227 987h4M227 987h4M230 987h4M250 987h4M255 987h4M307 987h4M308 987h4M318 987h4M320 987h4M353 987h4M367 987h4M397 987h4M219 988h4M238 988h4M238 988h4M238 988h4M282 988h4M301 988h4M321 988h4M324 988h4M406 988h4M417 988h4M426 988h4M279 989h4M287 989h4M295 989h4M322 989h4M328 989h4M220 990h4M225 990h4M230 990h4M232 990h4M239 990h4M244 990h4M250 990h4M293 990h4M299 990h4M306 990h4M351 990h4M490 990h4M629 990h4M226 991h4M226 991h4M237 991h4M239 991h4M244 991h4M248 991h4M250 991h4M256 991h4M303 991h4M347 991h4M353 991h4M365 991h4M397 991h4M224 992h4M263 992h4M271 992h4M348 992h4M233 993h4M234 993h4M241 993h4M273 993h4M274 993h4M385 993h4M221 994h4M243 994h4M243 994h4M261 994h4M262 994h4M265 994h4M265 994h4M339 994h4M220 995h4M227 995h4M234 995h4M246 995h4M283 995h4M290 995h4M291 995h4M318 995h4M370 995h4M222 996h4M228 996h4M231 996h4M332 996h4M222 997h4M229 997h4M232 997h4M232 997h4M245 997h4M264 997h4M265 997h4M265 997h4M266 997h4M272 997h4M287 997h4M352 997h4M232 998h4M234 998h4M238 998h4M241 998h4M262 998h4M280 998h4M309 998h4M330 998h4M406 998h4M473 998h4M240 999h4M280 999h4M356 999h4M541 999h4M221 1000h4M225 1000h4M238 1000h4M252 1000h4M254 1000h4M263 1000h4M265 1000h4M277 1000h4M280 1000h4M297 1000h4M338 1000h4M405 1000h4M223 1001h4M225 1001h4M232 1001h4M240 1001h4M241 1001h4M244 1001h4M266 1001h4M327 1001h4M223 1002h4M224 1002h4M227 1002h4M241 1002h4M242 1002h4M278 1002h4M279 1002h4M233 1003h4M255 1003h4M267 1003h4M267 1003h4M269 1003h4M272 1003h4M275 1003h4M303 1003h4M337 1003h4M237 1004h4M243 1004h4M247 1004h4M248 1004h4M344 1004h4M430 1004h4M222 1005h4M229 1005h4M235 1005h4M236 1005h4M242 1005h4M245 1005h4M247 1005h4M259 1005h4M260 1005h4M273 1005h4M293 1005h4M328 1005h4M407 1005h4M467 1005h4M591 1005h4M226 1006h4M227 1006h4M240 1006h4M245 1006h4M263 1006h4M270 1006h4M298 1006h4M224 1007h4M226 1007h4M254 1007h4M254 1007h4M258 1007h4M270 1007h4M277 1007h4M295 1007h4M325 1007h4M327 1007h4M330 1007h4M392 1007h4M437 1007h4M248 1008h4M260 1008h4M269 1008h4M273 1008h4M277 1008h4M286 1008h4M288 1008h4M299 1008h4M340 1008h4M406 1008h4M480 1008h4M230 1009h4M232 1009h4M249 1009h4M249 1009h4M253 1009h4M254 1009h4M283 1009h4M287 1009h4M307 1009h4M348 1009h4M236 1010h4M245 1010h4M272 1010h4M280 1010h4M295 1010h4M300 1010h4M308 1010h4M309 1010h4M325 1010h4M445 1010h4M228 1011h4M234 1011h4M235 1011h4M236 1011h4M253 1011h4M268 1011h4M282 1011h4M285 1011h4M315 1011h4M317 1011h4M466 1011h4M477 1011h4M234 1012h4M237 1012h4M257 1012h4M261 1012h4M265 1012h4M298 1012h4M311 1012h4M378 1012h4M224 1013h4M246 1013h4M256 1013h4M270 1013h4M325 1013h4M355 1013h4M225 1014h4M232 1014h4M235 1014h4M240 1014h4M244 1014h4M282 1014h4M294 1014h4M333 1014h4M381 1014h4M230 1015h4M231 1015h4M232 1015h4M255 1015h4M256 1015h4M263 1015h4M299 1015h4M319 1015h4M320 1015h4M409 1015h4M229 1016h4M234 1016h4M247 1016h4M265 1016h4M278 1016h4M278 1016h4M355 1016h4M366 1016h4M228 1017h4M230 1017h4M233 1017h4M250 1017h4M250 1017h4M266 1017h4M286 1017h4M298 1017h4M308 1017h4M316 1017h4M224 1018h4M227 1018h4M232 1018h4M234 1018h4M264 1018h4M280 1018h4M289 1018h4M291 1018h4M293 1018h4M307 1018h4M319 1018h4M328 1018h4M559 1018h4M226 1019h4M253 1019h4M258 1019h4M260 1019h4M270 1019h4M280 1019h4M289 1019h4M301 1019h4M308 1019h4M314 1019h4M351 1019h4M240 1020h4M246 1020h4M258 1020h4M277 1020h4M291 1020h4M327 1020h4M336 1020h4M404 1020h4M229 1021h4M235 1021h4M249 1021h4M281 1021h4M285 1021h4M293 1021h4M293 1021h4M300 1021h4M305 1021h4M307 1021h4M319 1021h4M406 1021h4M537 1021h4M227 1022h4M235 1022h4M236 1022h4M239 1022h4M239 1022h4M244 1022h4M247 1022h4M255 1022h4M284 1022h4M289 1022h4M320 1022h4M327 1022h4M395 1022h4M410 1022h4M231 1023h4M231 1023h4M262 1023h4M262 1023h4M275 1023h4M276 1023h4M280 1023h4M291 1023h4M296 1023h4M302 1023h4M305 1023h4M310 1023h4M323 1023h4M329 1023h4M349 1023h4M351 1023h4M365 1023h4M372 1023h4M604 1023h4M225 1024h4M255 1024h4M255 1024h4M301 1024h4M312 1024h4M330 1024h4M522 1024h4M224 1025h4M246 1025h4M251 1025h4M260 1025h4M263 1025h4M280 1025h4M308 1025h4M336 1025h4M350 1025h4M356 1025h4M229 1026h4M235 1026h4M245 1026h4M246 1026h4M251 1026h4M254 1026h4M265 1026h4M266 1026h4M284 1026h4M285 1026h4M309 1026h4M346 1026h4M230 1027h4M266 1027h4M288 1027h4M319 1027h4M395 1027h4M503 1027h4M229 1028h4M232 1028h4M244 1028h4M283 1028h4M362 1028h4M237 1029h4M239 1029h4M245 1029h4M256 1029h4M262 1029h4M265 1029h4M278 1029h4M281 1029h4M281 1029h4M285 1029h4M288 1029h4M295 1029h4M321 1029h4M341 1029h4M412 1029h4M585 1029h4M597 1029h4M232 1030h4M244 1030h4M271 1030h4M278 1030h4M326 1030h4M390 1030h4M237 1031h4M239 1031h4M240 1031h4M243 1031h4M254 1031h4M267 1031h4M268 1031h4M270 1031h4M272 1031h4M277 1031h4M277 1031h4M323 1031h4M495 1031h4M244 1032h4M257 1032h4M290 1032h4M303 1032h4M347 1032h4M365 1032h4M393 1032h4M404 1032h4M524 1032h4M230 1033h4M243 1033h4M246 1033h4M250 1033h4M254 1033h4M271 1033h4M282 1033h4M311 1033h4M370 1033h4M416 1033h4M470 1033h4M235 1034h4M236 1034h4M245 1034h4M252 1034h4M267 1034h4M268 1034h4M293 1034h4M304 1034h4M342 1034h4M402 1034h4M232 1035h4M256 1035h4M260 1035h4M305 1035h4M317 1035h4M326 1035h4M381 1035h4M396 1035h4M232 1036h4M235 1036h4M250 1036h4M291 1036h4M292 1036h4M304 1036h4M316 1036h4M380 1036h4M240 1037h4M246 1037h4M252 1037h4M253 1037h4M275 1037h4M287 1037h4M301 1037h4M321 1037h4M359 1037h4M238 1038h4M242 1038h4M281 1038h4M283 1038h4M296 1038h4M296 1038h4M322 1038h4M340 1038h4M233 1039h4M239 1039h4M256 1039h4M260 1039h4M267 1039h4M282 1039h4M290 1039h4M301 1039h4M308 1039h4M355 1039h4M368 1039h4M382 1039h4M239 1040h4M252 1040h4M256 1040h4M299 1040h4M306 1040h4M315 1040h4M321 1040h4M245 1041h4M275 1041h4M280 1041h4M298 1041h4M321 1041h4M373 1041h4M232 1042h4M236 1042h4M249 1042h4M256 1042h4M260 1042h4M265 1042h4M298 1042h4M386 1042h4M433 1042h4M438 1042h4M244 1043h4M265 1043h4M265 1043h4M271 1043h4M318 1043h4M351 1043h4M356 1043h4M380 1043h4M243 1044h4M255 1044h4M260 1044h4M261 1044h4M268 1044h4M275 1044h4M277 1044h4M285 1044h4M308 1044h4M344 1044h4M357 1044h4M438 1044h4M233 1045h4M234 1045h4M237 1045h4M254 1045h4M255 1045h4M262 1045h4M297 1045h4M302 1045h4M311 1045h4M368 1045h4M259 1046h4M260 1046h4M270 1046h4M275 1046h4M316 1046h4M241 1047h4M243 1047h4M264 1047h4M264 1047h4M276 1047h4M282 1047h4M297 1047h4M305 1047h4M320 1047h4M325 1047h4M347 1047h4M365 1047h4M258 1048h4M315 1048h4M621 1048h4M238 1049h4M246 1049h4M259 1049h4M315 1049h4M330 1049h4M253 1050h4M255 1050h4M256 1050h4M262 1050h4M282 1050h4M327 1050h4M238 1051h4M240 1051h4M248 1051h4M258 1051h4M274 1051h4M274 1051h4M275 1051h4M286 1051h4M288 1051h4M354 1051h4M381 1051h4M441 1051h4M255 1052h4M275 1052h4M276 1052h4M277 1052h4M279 1052h4M293 1052h4M309 1052h4M339 1052h4M236 1053h4M257 1053h4M265 1053h4M277 1053h4M277 1053h4M287 1053h4M311 1053h4M347 1053h4M394 1053h4M474 1053h4M243 1054h4M248 1054h4M258 1054h4M264 1054h4M266 1054h4M268 1054h4M302 1054h4M313 1054h4M326 1054h4M393 1054h4M245 1055h4M249 1055h4M286 1055h4M292 1055h4M354 1055h4M359 1055h4M383 1055h4M422 1055h4M246 1056h4M263 1056h4M285 1056h4M297 1056h4M302 1056h4M305 1056h4M379 1056h4M384 1056h4M242 1057h4M243 1057h4M245 1057h4M258 1057h4M261 1057h4M265 1057h4M274 1057h4M291 1057h4M312 1057h4M332 1057h4M442 1057h4M251 1058h4M253 1058h4M259 1058h4M266 1058h4M276 1058h4M283 1058h4M287 1058h4M289 1058h4M291 1058h4M333 1058h4M344 1058h4M349 1058h4M236 1059h4M251 1059h4M299 1059h4M332 1059h4M358 1059h4M487 1059h4M239 1060h4M247 1060h4M268 1060h4M278 1060h4M281 1060h4M307 1060h4M345 1060h4M446 1060h4M265 1061h4M277 1061h4M285 1061h4M315 1061h4M315 1061h4M323 1061h4M397 1061h4M462 1061h4M602 1061h4M254 1062h4M263 1062h4M263 1062h4M264 1062h4M267 1062h4M274 1062h4M284 1062h4M392 1062h4M257 1063h4M268 1063h4M271 1063h4M276 1063h4M279 1063h4M289 1063h4M345 1063h4M349 1063h4M393 1063h4M245 1064h4M252 1064h4M259 1064h4M282 1064h4M283 1064h4M289 1064h4M317 1064h4M321 1064h4M240 1065h4M255 1065h4M256 1065h4M287 1065h4M293 1065h4M373 1065h4M426 1065h4M241 1066h4M261 1066h4M293 1066h4M323 1066h4M599 1066h4M257 1067h4M263 1067h4M263 1067h4M271 1067h4M274 1067h4M277 1067h4M282 1067h4M308 1067h4M315 1067h4M327 1067h4M344 1067h4M348 1067h4M358 1067h4M254 1068h4M268 1068h4M324 1068h4M327 1068h4M329 1068h4M400 1068h4M517 1068h4M264 1069h4M280 1069h4M284 1069h4M294 1069h4M296 1069h4M309 1069h4M343 1069h4M351 1069h4M359 1069h4M427 1069h4M240 1070h4M240 1070h4M243 1070h4M326 1070h4M445 1070h4M479 1070h4M534 1070h4M244 1071h4M246 1071h4M247 1071h4M251 1071h4M269 1071h4M306 1071h4M320 1071h4M339 1071h4M348 1071h4M511 1071h4M246 1072h4M251 1072h4M255 1072h4M257 1072h4M262 1072h4M263 1072h4M267 1072h4M271 1072h4M286 1072h4M289 1072h4M293 1072h4M306 1072h4M309 1072h4M330 1072h4M380 1072h4M393 1072h4M398 1072h4M471 1072h4M336 1073h4M376 1073h4M387 1073h4M259 1074h4M268 1074h4M293 1074h4M372 1074h4M480 1074h4M245 1075h4M249 1075h4M251 1075h4M254 1075h4M265 1075h4M272 1075h4M273 1075h4M277 1075h4M278 1075h4M299 1075h4M320 1075h4M329 1075h4M350 1075h4M244 1076h4M255 1076h4M263 1076h4M283 1076h4M284 1076h4M287 1076h4M299 1076h4M252 1077h4M253 1077h4M257 1077h4M257 1077h4M265 1077h4M270 1077h4M300 1077h4M332 1077h4M372 1077h4M382 1077h4M386 1077h4M245 1078h4M249 1078h4M250 1078h4M270 1078h4M275 1078h4M277 1078h4M311 1078h4M330 1078h4M347 1078h4M585 1078h4M251 1079h4M258 1079h4M261 1079h4M276 1079h4M289 1079h4M298 1079h4M396 1079h4M495 1079h4M495 1079h4M581 1079h4M246 1080h4M282 1080h4M284 1080h4M317 1080h4M357 1080h4M361 1080h4M390 1080h4M435 1080h4M451 1080h4M259 1081h4M268 1081h4M273 1081h4M293 1081h4M409 1081h4M445 1081h4M249 1082h4M269 1082h4M272 1082h4M284 1082h4M292 1082h4M342 1082h4M369 1082h4M249 1083h4M251 1083h4M255 1083h4M268 1083h4M274 1083h4M275 1083h4M276 1083h4M292 1083h4M296 1083h4M307 1083h4M312 1083h4M322 1083h4M431 1083h4M244 1084h4M286 1084h4M288 1084h4M323 1084h4M390 1084h4M244 1085h4M245 1085h4M252 1085h4M256 1085h4M261 1085h4M262 1085h4M285 1085h4M313 1085h4M386 1085h4M254 1086h4M259 1086h4M266 1086h4M268 1086h4M290 1086h4M318 1086h4M422 1086h4M502 1086h4M250 1087h4M251 1087h4M255 1087h4M255 1087h4M258 1087h4M263 1087h4M264 1087h4M297 1087h4M311 1087h4M327 1087h4M446 1087h4M569 1087h4M250 1088h4M270 1089h4M275 1089h4M280 1089h4M282 1089h4M290 1089h4M293 1089h4M312 1089h4M312 1089h4M333 1089h4M362 1089h4M362 1089h4M395 1089h4M467 1089h4M506 1089h4M573 1089h4M252 1090h4M255 1090h4M255 1090h4M261 1090h4M278 1090h4M303 1090h4M307 1090h4M318 1090h4M322 1090h4M359 1090h4M260 1091h4M267 1091h4M269 1091h4M272 1091h4M287 1091h4M288 1091h4M295 1091h4M295 1091h4M320 1091h4M423 1091h4M260 1092h4M265 1092h4M273 1092h4M283 1092h4M316 1092h4M411 1092h4M439 1092h4M265 1093h4M273 1093h4M319 1093h4M335 1093h4M349 1093h4M427 1093h4M249 1094h4M250 1094h4M258 1094h4M260 1094h4M267 1094h4M304 1094h4M324 1094h4M329 1094h4M250 1095h4M261 1095h4M272 1095h4M280 1095h4M310 1095h4M324 1095h4M355 1095h4M379 1095h4M380 1095h4M249 1096h4M251 1096h4M262 1096h4M283 1096h4M286 1096h4M287 1096h4M470 1096h4M255 1097h4M256 1097h4M261 1097h4M302 1097h4M336 1097h4M359 1097h4M364 1097h4M370 1097h4M380 1097h4M419 1097h4M432 1097h4M260 1098h4M271 1098h4M280 1098h4M375 1098h4M257 1099h4M269 1099h4M270 1099h4M280 1099h4M281 1099h4M286 1099h4M288 1099h4M306 1099h4M338 1099h4M388 1099h4M404 1099h4M275 1100h4M278 1100h4M295 1100h4M309 1100h4M310 1100h4M339 1100h4M392 1100h4M426 1100h4M253 1101h4M259 1101h4M263 1101h4M263 1101h4M264 1101h4M269 1101h4M272 1101h4M274 1101h4M280 1101h4M294 1101h4M299 1101h4M308 1101h4M310 1101h4M329 1101h4M485 1101h4M495 1101h4M530 1101h4M256 1102h4M258 1102h4M260 1102h4M271 1102h4M277 1102h4M277 1102h4M282 1102h4M305 1102h4M386 1102h4M387 1102h4M483 1102h4M264 1103h4M269 1103h4M270 1103h4M290 1103h4M300 1103h4M304 1103h4M345 1103h4M353 1103h4M430 1103h4M262 1104h4M266 1104h4M270 1104h4M291 1104h4M310 1104h4M353 1104h4M355 1104h4M414 1104h4M417 1104h4M274 1105h4M277 1105h4M291 1105h4M297 1105h4M317 1105h4M332 1105h4M343 1105h4M353 1105h4M267 1106h4M268 1106h4M273 1106h4M277 1106h4M278 1106h4M283 1106h4M287 1106h4M321 1106h4M325 1106h4M342 1106h4M346 1106h4M348 1106h4M266 1107h4M304 1107h4M309 1107h4M314 1107h4M330 1107h4M394 1107h4M400 1107h4M408 1107h4M423 1107h4M443 1107h4M257 1108h4M261 1108h4M272 1108h4M275 1108h4M279 1108h4M302 1108h4M318 1108h4M329 1108h4M346 1108h4M364 1108h4M403 1108h4M428 1108h4M468 1108h4M266 1109h4M280 1109h4M297 1109h4M304 1109h4M323 1109h4M360 1109h4M394 1109h4M440 1109h4M262 1110h4M274 1110h4M276 1110h4M277 1110h4M277 1110h4M333 1110h4M407 1110h4M263 1111h4M268 1111h4M272 1111h4M314 1111h4M316 1111h4M333 1111h4M407 1111h4M456 1111h4M589 1111h4M274 1112h4M278 1112h4M280 1112h4M289 1112h4M303 1112h4M318 1112h4M335 1112h4M362 1112h4M369 1112h4M371 1112h4M405 1112h4M514 1112h4M260 1113h4M265 1113h4M268 1113h4M275 1113h4M276 1113h4M277 1113h4M294 1113h4M300 1113h4M302 1113h4M336 1113h4M353 1113h4M401 1113h4M407 1113h4M269 1114h4M295 1114h4M304 1114h4M320 1114h4M346 1114h4M385 1114h4M408 1114h4M274 1115h4M292 1115h4M296 1115h4M303 1115h4M308 1115h4M314 1115h4M317 1115h4M327 1115h4M336 1115h4M352 1115h4M367 1115h4M436 1115h4M260 1116h4M263 1116h4M273 1116h4M278 1116h4M288 1116h4M295 1116h4M326 1116h4M336 1116h4M355 1116h4M400 1116h4M264 1117h4M267 1117h4M268 1117h4M282 1117h4M285 1117h4M313 1117h4M370 1117h4M279 1118h4M286 1118h4M289 1118h4M294 1118h4M298 1118h4M298 1118h4M303 1118h4M305 1118h4M314 1118h4M357 1118h4M397 1118h4M455 1118h4M266 1119h4M269 1119h4M287 1119h4M302 1119h4M306 1119h4M326 1119h4M372 1119h4M396 1119h4M271 1120h4M289 1120h4M352 1120h4M356 1120h4M369 1120h4M410 1120h4M431 1120h4M449 1120h4M459 1120h4M534 1120h4M276 1121h4M279 1121h4M293 1121h4M298 1121h4M299 1121h4M334 1121h4M354 1121h4M407 1121h4M433 1121h4M270 1122h4M271 1122h4M284 1122h4M293 1122h4M307 1122h4M320 1122h4M321 1122h4M342 1122h4M381 1122h4M383 1122h4M415 1122h4M435 1122h4M264 1123h4M266 1123h4M288 1123h4M289 1123h4M295 1123h4M304 1123h4M307 1123h4M327 1123h4M338 1123h4M355 1123h4M360 1123h4M419 1123h4M271 1124h4M273 1124h4M307 1124h4M307 1124h4M318 1124h4M322 1124h4M325 1124h4M346 1124h4M406 1124h4M434 1124h4M266 1125h4M268 1125h4M268 1125h4M270 1125h4M279 1125h4M306 1125h4M316 1125h4M332 1125h4M340 1125h4M387 1125h4M406 1125h4M434 1125h4M276 1126h4M301 1126h4M317 1126h4M334 1126h4M337 1126h4M368 1126h4M429 1126h4M436 1126h4M472 1126h4M272 1127h4M278 1127h4M281 1127h4M297 1127h4M303 1127h4M303 1127h4M306 1127h4M306 1127h4M307 1127h4M338 1127h4M339 1127h4M350 1127h4M364 1127h4M375 1127h4M275 1128h4M284 1128h4M295 1128h4M322 1128h4M324 1128h4M406 1128h4M443 1128h4M454 1128h4M534 1128h4M269 1129h4M301 1129h4M330 1129h4M345 1129h4M347 1129h4M354 1129h4M373 1129h4M388 1129h4M399 1129h4M436 1129h4M446 1129h4M507 1129h4M530 1129h4M276 1130h4M279 1130h4M293 1130h4M294 1130h4M299 1130h4M315 1130h4M349 1130h4M380 1130h4M387 1130h4M437 1130h4M494 1130h4M552 1130h4M272 1131h4M273 1131h4M275 1131h4M295 1131h4M317 1131h4M318 1131h4M372 1131h4M440 1131h4M442 1131h4M275 1132h4M283 1132h4M288 1132h4M300 1132h4M302 1132h4M302 1132h4M302 1132h4M323 1132h4M343 1132h4M387 1132h4M456 1132h4M507 1132h4M592 1132h4M277 1133h4M278 1133h4M283 1133h4M315 1133h4M323 1133h4M348 1133h4M373 1133h4M433 1133h4M484 1133h4M286 1134h4M301 1134h4M320 1134h4M322 1134h4M377 1134h4M385 1134h4M497 1134h4M282 1135h4M289 1135h4M327 1135h4M340 1135h4M343 1135h4M355 1135h4M360 1135h4M440 1135h4M448 1135h4M276 1136h4M278 1136h4M295 1136h4M307 1136h4M315 1136h4M318 1136h4M322 1136h4M354 1136h4M368 1136h4M369 1136h4M379 1136h4M389 1136h4M414 1136h4M440 1136h4M444 1136h4M445 1136h4M273 1137h4M274 1137h4M278 1137h4M285 1137h4M323 1137h4M323 1137h4M333 1137h4M380 1137h4M387 1137h4M283 1138h4M304 1138h4M377 1138h4M378 1138h4M390 1138h4M277 1139h4M277 1139h4M278 1139h4M282 1139h4M285 1139h4M288 1139h4M294 1139h4M378 1139h4M396 1139h4M399 1139h4M423 1139h4M501 1139h4M278 1140h4M279 1140h4M280 1140h4M282 1140h4M295 1140h4M306 1140h4M324 1140h4M342 1140h4M351 1140h4M363 1140h4M364 1140h4M374 1140h4M491 1140h4M515 1140h4M289 1141h4M291 1141h4M304 1141h4M321 1141h4M328 1141h4M331 1141h4M383 1141h4M296 1142h4M313 1142h4M319 1142h4M321 1142h4M333 1142h4M340 1142h4M349 1142h4M355 1142h4M364 1142h4M303 1143h4M305 1143h4M310 1143h4M324 1143h4M329 1143h4M368 1143h4M453 1143h4M284 1144h4M309 1144h4M399 1144h4M448 1144h4M449 1144h4M453 1144h4M479 1144h4M540 1144h4M561 1144h4M288 1145h4M292 1145h4M294 1145h4M297 1145h4M315 1145h4M316 1145h4M319 1145h4M327 1145h4M334 1145h4M358 1145h4M381 1145h4M394 1145h4M420 1145h4M450 1145h4M289 1146h4M292 1146h4M375 1146h4M418 1146h4M449 1146h4M301 1147h4M318 1147h4M332 1147h4M372 1147h4M375 1147h4M289 1148h4M295 1148h4M298 1148h4M301 1148h4M302 1148h4M302 1148h4M303 1148h4M312 1148h4M318 1148h4M328 1148h4M345 1148h4M361 1148h4M381 1148h4M562 1148h4M288 1149h4M308 1149h4M323 1149h4M328 1149h4M352 1149h4M394 1149h4M477 1149h4M297 1150h4M302 1150h4M302 1150h4M314 1150h4M325 1150h4M338 1150h4M344 1150h4M360 1150h4M363 1150h4M364 1150h4M365 1150h4M517 1150h4M557 1150h4M309 1151h4M311 1151h4M316 1151h4M334 1151h4M335 1151h4M365 1151h4M370 1151h4M372 1151h4M412 1151h4M452 1151h4M454 1151h4M514 1151h4M554 1151h4M297 1152h4M297 1152h4M314 1152h4M315 1152h4M362 1152h4M410 1152h4M421 1152h4M512 1152h4M298 1153h4M306 1153h4M307 1153h4M314 1153h4M321 1153h4M339 1153h4M362 1153h4M369 1153h4M381 1153h4M387 1153h4M432 1153h4M526 1153h4M302 1154h4M302 1154h4M307 1154h4M307 1154h4M314 1154h4M323 1154h4M338 1154h4M353 1154h4M364 1154h4M376 1154h4M380 1154h4M397 1154h4M418 1154h4M565 1154h4M303 1155h4M308 1155h4M316 1155h4M318 1155h4M350 1155h4M436 1155h4M440 1155h4M302 1156h4M305 1156h4M306 1156h4M313 1156h4M314 1156h4M317 1156h4M318 1156h4M325 1156h4M328 1156h4M337 1156h4M351 1156h4M359 1156h4M361 1156h4M370 1156h4M376 1156h4M391 1156h4M408 1156h4M426 1156h4M308 1157h4M330 1157h4M336 1157h4M346 1157h4M351 1157h4M363 1157h4M372 1157h4M398 1157h4M311 1158h4M323 1158h4M326 1158h4M331 1158h4M348 1158h4M361 1158h4M373 1158h4M426 1158h4M428 1158h4M528 1158h4M322 1159h4M324 1159h4M328 1159h4M330 1159h4M338 1159h4M338 1159h4M345 1159h4M362 1159h4M372 1159h4M374 1159h4M377 1159h4M410 1159h4M308 1160h4M308 1160h4M314 1160h4M318 1160h4M330 1160h4M349 1160h4M350 1160h4M355 1160h4M387 1160h4M397 1160h4M421 1160h4M433 1160h4M439 1160h4M507 1160h4M309 1161h4M319 1161h4M322 1161h4M324 1161h4M328 1161h4M329 1161h4M334 1161h4M359 1161h4M364 1161h4M377 1161h4M449 1161h4M532 1161h4M327 1162h4M329 1162h4M347 1162h4M352 1162h4M354 1162h4M393 1162h4M403 1162h4M426 1162h4M458 1162h4M503 1162h4M537 1162h4M316 1163h4M324 1163h4M337 1163h4M372 1163h4M374 1163h4M374 1163h4M385 1163h4M397 1163h4M432 1163h4M474 1163h4M521 1163h4M535 1163h4M316 1164h4M319 1164h4M328 1164h4M333 1164h4M338 1164h4M369 1164h4M459 1164h4M509 1164h4M555 1164h4M324 1165h4M336 1165h4M344 1165h4M357 1165h4M376 1165h4M378 1165h4M394 1165h4M396 1165h4M412 1165h4M417 1165h4M441 1165h4M473 1165h4M567 1165h4M321 1166h4M343 1166h4M343 1166h4M353 1166h4M373 1166h4M381 1166h4M421 1166h4M468 1166h4M599 1166h4M322 1167h4M335 1167h4M339 1167h4M348 1167h4M374 1167h4M413 1167h4M414 1167h4M446 1167h4M536 1167h4M328 1168h4M332 1168h4M346 1168h4M348 1168h4M360 1168h4M375 1168h4M412 1168h4M413 1168h4M469 1168h4M326 1169h4M332 1169h4M335 1169h4M338 1169h4M341 1169h4M346 1169h4M372 1169h4M439 1169h4M451 1169h4M481 1169h4M513 1169h4M337 1170h4M355 1170h4M360 1170h4M363 1170h4M367 1170h4M371 1170h4M394 1170h4M395 1170h4M438 1170h4M497 1170h4M500 1170h4M531 1170h4M335 1171h4M349 1171h4M362 1171h4M371 1171h4M399 1171h4M407 1171h4M439 1171h4M452 1171h4M461 1171h4M514 1171h4M544 1171h4M546 1171h4M341 1172h4M346 1172h4M371 1172h4M382 1172h4M429 1172h4M460 1172h4M482 1172h4M335 1173h4M346 1173h4M355 1173h4M363 1173h4M367 1173h4M370 1173h4M391 1173h4M410 1173h4M447 1173h4M450 1173h4M458 1173h4M541 1173h4M557 1173h4M561 1173h4M336 1174h4M339 1174h4M340 1174h4M352 1174h4M413 1174h4M433 1174h4M532 1174h4M345 1175h4M348 1175h4M353 1175h4M356 1175h4M358 1175h4M363 1175h4M390 1175h4M400 1175h4M403 1175h4M404 1175h4M408 1175h4M419 1175h4M446 1175h4M478 1175h4M499 1175h4M501 1175h4M558 1175h4M337 1176h4M345 1176h4M351 1176h4M357 1176h4M364 1176h4M374 1176h4M386 1176h4M443 1176h4M466 1176h4M497 1176h4M336 1177h4M336 1177h4M339 1177h4M348 1177h4M354 1177h4M358 1177h4M364 1177h4M365 1177h4M395 1177h4M424 1177h4M490 1177h4M563 1177h4M589 1177h4M345 1178h4M352 1178h4M357 1178h4M409 1178h4M414 1178h4M419 1178h4M437 1178h4M471 1178h4M516 1178h4M531 1178h4M559 1178h4M341 1179h4M382 1179h4M385 1179h4M388 1179h4M400 1179h4M428 1179h4M453 1179h4M497 1179h4M610 1179h4M346 1180h4M354 1180h4M356 1180h4M359 1180h4M362 1180h4M365 1180h4M416 1180h4M418 1180h4M484 1180h4M491 1180h4M557 1180h4M558 1180h4M565 1180h4M577 1180h4M622 1180h4M624 1180h4M346 1181h4M349 1181h4M357 1181h4M358 1181h4M368 1181h4M371 1181h4M384 1181h4M401 1181h4M401 1181h4M404 1181h4M434 1181h4M458 1181h4M462 1181h4M466 1181h4M486 1181h4M568 1181h4M575 1181h4M348 1182h4M357 1182h4M359 1182h4M367 1182h4M374 1182h4M374 1182h4M380 1182h4M383 1182h4M383 1182h4M409 1182h4M440 1182h4M454 1182h4M482 1182h4M497 1182h4M498 1182h4M545 1182h4M353 1183h4M355 1183h4M361 1183h4M400 1183h4M436 1183h4M439 1183h4M445 1183h4M465 1183h4M471 1183h4M501 1183h4M557 1183h4M344 1184h4M345 1184h4M348 1184h4M352 1184h4M356 1184h4M356 1184h4M372 1184h4M372 1184h4M373 1184h4M379 1184h4M388 1184h4M390 1184h4M390 1184h4M404 1184h4M448 1184h4M456 1184h4M459 1184h4M486 1184h4M518 1184h4M571 1184h4M586 1184h4M353 1185h4M354 1185h4M361 1185h4M369 1185h4M371 1185h4M372 1185h4M407 1185h4M413 1185h4M424 1185h4M429 1185h4M439 1185h4M562 1185h4M354 1186h4M363 1186h4M363 1186h4M367 1186h4M372 1186h4M377 1186h4M379 1186h4M381 1186h4M387 1186h4M388 1186h4M390 1186h4M407 1186h4M415 1186h4M466 1186h4M498 1186h4M501 1186h4M505 1186h4M635 1186h4M356 1187h4M357 1187h4M361 1187h4M361 1187h4M400 1187h4M402 1187h4M443 1187h4M484 1187h4M515 1187h4M532 1187h4M573 1187h4M353 1188h4M358 1188h4M383 1188h4M383 1188h4M383 1188h4M407 1188h4M440 1188h4M459 1188h4M510 1188h4M590 1188h4M603 1188h4M608 1188h4M357 1189h4M362 1189h4M366 1189h4M368 1189h4M378 1189h4M387 1189h4M398 1189h4M411 1189h4M431 1189h4M432 1189h4M441 1189h4M442 1189h4M482 1189h4M498 1189h4M574 1189h4M389 1190h4M392 1190h4M400 1190h4M413 1190h4M450 1190h4M456 1190h4M464 1190h4M465 1190h4M499 1190h4M520 1190h4M570 1190h4M364 1191h4M365 1191h4M366 1191h4M386 1191h4M398 1191h4M440 1191h4M458 1191h4M463 1191h4M491 1191h4M495 1191h4M498 1191h4M509 1191h4M512 1191h4M528 1191h4M548 1191h4M382 1192h4M431 1192h4M448 1192h4M458 1192h4M459 1192h4M465 1192h4M467 1192h4M492 1192h4M508 1192h4M512 1192h4M528 1192h4M540 1192h4M594 1192h4M376 1193h4M382 1193h4M391 1193h4M400 1193h4M404 1193h4M408 1193h4M411 1193h4M449 1193h4M455 1193h4M465 1193h4M533 1193h4M537 1193h4M617 1193h4M375 1194h4M378 1194h4M382 1194h4M393 1194h4M399 1194h4M405 1194h4M417 1194h4M435 1194h4M437 1194h4M451 1194h4M463 1194h4M472 1194h4M503 1194h4M505 1194h4M515 1194h4M522 1194h4M526 1194h4M380 1195h4M388 1195h4M392 1195h4M408 1195h4M429 1195h4M433 1195h4M445 1195h4M471 1195h4M488 1195h4M499 1195h4M512 1195h4M555 1195h4M570 1195h4M374 1196h4M379 1196h4M443 1196h4M446 1196h4M462 1196h4M470 1196h4M473 1196h4M475 1196h4M479 1196h4M481 1196h4M492 1196h4M518 1196h4M539 1196h4M557 1196h4M569 1196h4M574 1196h4M578 1196h4M435 1197h4M497 1197h4M499 1197h4M504 1197h4M508 1197h4M572 1197h4M604 1197h4M612 1197h4M630 1197h4M391 1198h4M393 1198h4M399 1198h4M419 1198h4M432 1198h4M434 1198h4M479 1198h4M490 1198h4M526 1198h4M530 1198h4M533 1198h4M574 1198h4M585 1198h4M628 1198h4M391 1199h4M394 1199h4M407 1199h4M426 1199h4M509 1199h4M523 1199h4M523 1199h4M541 1199h4M554 1199h4M397 1200h4M398 1200h4M430 1200h4M432 1200h4M433 1200h4M440 1200h4M445 1200h4M446 1200h4M448 1200h4M456 1200h4M476 1200h4M483 1200h4M486 1200h4M541 1200h4M543 1200h4M573 1200h4M592 1200h4M604 1200h4M397 1201h4M402 1201h4M425 1201h4M431 1201h4M437 1201h4M492 1201h4M538 1201h4M541 1201h4M548 1201h4M558 1201h4M572 1201h4M601 1201h4M424 1202h4M433 1202h4M435 1202h4M438 1202h4M442 1202h4M444 1202h4M484 1202h4M514 1202h4M567 1202h4M409 1203h4M409 1203h4M410 1203h4M475 1203h4M507 1203h4M519 1203h4M522 1203h4M549 1203h4M551 1203h4M577 1203h4M627 1203h4M406 1204h4M411 1204h4M416 1204h4M449 1204h4M473 1204h4M493 1204h4M497 1204h4M521 1204h4M547 1204h4M553 1204h4M555 1204h4M589 1204h4M440 1205h4M468 1205h4M472 1205h4M476 1205h4M488 1205h4M497 1205h4M552 1205h4M556 1205h4M557 1205h4M559 1205h4M569 1205h4M427 1206h4M465 1206h4M487 1206h4M487 1206h4M497 1206h4M498 1206h4M510 1206h4M526 1206h4M562 1206h4M612 1206h4M421 1207h4M449 1207h4M467 1207h4M469 1207h4M476 1207h4M478 1207h4M480 1207h4M483 1207h4M493 1207h4M496 1207h4M499 1207h4M518 1207h4M549 1207h4M561 1207h4M601 1207h4M438 1208h4M439 1208h4M442 1208h4M448 1208h4M455 1208h4M465 1208h4M469 1208h4M474 1208h4M478 1208h4M481 1208h4M495 1208h4M501 1208h4M502 1208h4M503 1208h4M505 1208h4M514 1208h4M577 1208h4M580 1208h4M583 1208h4M601 1208h4M606 1208h4M631 1208h4M423 1209h4M428 1209h4M462 1209h4M471 1209h4M474 1209h4M486 1209h4M490 1209h4M494 1209h4M498 1209h4M500 1209h4M535 1209h4M536 1209h4M574 1209h4M584 1209h4M629 1209h4M459 1210h4M477 1210h4M495 1210h4M498 1210h4M525 1210h4M546 1210h4M551 1210h4M562 1210h4M582 1210h4M604 1210h4M456 1211h4M473 1211h4M484 1211h4M488 1211h4M488 1211h4M509 1211h4M532 1211h4M548 1211h4M558 1211h4M593 1211h4M615 1211h4M622 1211h4M447 1212h4M448 1212h4M453 1212h4M454 1212h4M481 1212h4M491 1212h4M509 1212h4M519 1212h4M554 1212h4M560 1212h4M599 1212h4M448 1213h4M464 1213h4M491 1213h4M504 1213h4M504 1213h4M511 1213h4M528 1213h4M546 1213h4M464 1214h4M486 1214h4M487 1214h4M488 1214h4M500 1214h4M505 1214h4M532 1214h4M556 1214h4M560 1214h4M571 1214h4M571 1214h4M593 1214h4M615 1214h4M478 1215h4M486 1215h4M518 1215h4M538 1215h4M567 1215h4M580 1215h4M588 1215h4M592 1215h4M597 1215h4M623 1215h4M478 1216h4M484 1216h4M492 1216h4M495 1216h4M517 1216h4M521 1216h4M533 1216h4M537 1216h4M468 1217h4M482 1217h4M493 1217h4M496 1217h4M499 1217h4M503 1217h4M522 1217h4M527 1217h4M554 1217h4M556 1217h4M569 1217h4M611 1217h4M613 1217h4M510 1218h4M514 1218h4M523 1218h4M541 1218h4M546 1218h4M563 1218h4M583 1218h4M583 1218h4M585 1218h4M599 1218h4M494 1219h4M497 1219h4M513 1219h4M515 1219h4M522 1219h4M525 1219h4M561 1219h4M563 1219h4M572 1219h4M573 1219h4M573 1219h4M590 1219h4M598 1219h4M617 1219h4M635 1219h4M503 1220h4M512 1220h4M519 1220h4M529 1220h4M535 1220h4M575 1220h4M582 1220h4M604 1220h4M617 1220h4M495 1221h4M496 1221h4M497 1221h4M500 1221h4M503 1221h4M522 1221h4M531 1221h4M534 1221h4M537 1221h4M537 1221h4M562 1221h4M571 1221h4M572 1221h4M574 1221h4M578 1221h4M581 1221h4M621 1221h4M635 1221h4M563 1222h4M584 1222h4M587 1222h4M603 1222h4M629 1222h4M562 1223h4M566 1223h4M571 1223h4M578 1223h4M579 1223h4M591 1223h4M595 1223h4M605 1223h4M609 1223h4M613 1223h4M571 1224h4M585 1224h4M587 1224h4M609 1224h4M642 1224h4M560 1225h4M567 1225h4M575 1225h4M579 1225h4M580 1225h4M582 1225h4M587 1225h4M606 1225h4M624 1225h4M607 1226h4M608 1226h4M611 1226h4M620 1226h4M623 1226h4M642 1226h4M600 1227h4M622 1227h4M627 1227h4M637 1227h4M641 1227h4M601 1228h4M620 1228h4M602 1229h4M604 1229h4M613 1229h4M625 1229h4M633 1229h4M635 1229h4M616 1230h4M621 1230h4M622 1230h4M625 1230h4M626 1230h4M627 1230h4M628 1230h4M632 1230h4M640 1230h4"/>
<path stroke="#fff" stroke-width="2" fill="none" d="M605 1229h2M608 1230h2M576 1227h2M590 1226h2M430 1222h2M458 1222h2M466 1223h2M480 1223h2M488 1222h2M492 1221h2M496 1223h2M504 1222h2M509 1222h2M514 1222h2M525 1221h2M530 1223h2M538 1223h2M544 1222h2M549 1222h2M554 1222h2M556 1222h2M453 1217h2M457 1218h2M461 1219h2M466 1218h2M468 1217h2M474 1218h2M477 1219h2M480 1217h2M484 1218h2M392 1215h2M424 1215h2M444 1215h2M452 1213h2M462 1214h2M361 1210h2M398 1210h2M404 1211h2M409 1211h2M412 1210h2M428 1210h2M437 1210h2M442 1209h2M377 1207h2M385 1206h2M390 1206h2M393 1206h2M397 1206h2M410 1205h2M361 1202h2M370 1202h2M392 1202h2M396 1201h2M344 1198h2M348 1199h2M354 1197h2M357 1199h2M361 1199h2M370 1197h2M373 1197h2M377 1198h2M386 1197h2M340 1195h2M344 1194h2M349 1193h2M357 1193h2M368 1194h2M316 1191h2M320 1189h2M324 1189h2M328 1191h2M345 1189h2M353 1191h2M358 1189h2M324 1185h2M328 1187h2M338 1185h2M342 1186h2M349 1185h2M342 1182h2M300 1177h2M305 1179h2M322 1177h2M324 1179h2M330 1179h2M333 1179h2M336 1178h2M312 1174h2M316 1174h2M321 1175h2M330 1173h2M302 1171h2M305 1169h2M310 1171h2M312 1170h2M320 1171h2M324 1171h2M298 1166h2M301 1167h2M304 1165h2M310 1165h2M314 1166h2M316 1167h2M272 1162h2M296 1162h2M308 1161h2M313 1162h2M276 1158h2M284 1158h2M306 1158h2M273 1153h2M282 1154h2M284 1154h2M289 1154h2M294 1153h2M296 1154h2M274 1150h2M276 1149h2M281 1150h2M286 1151h2M289 1149h2M293 1149h2M261 1145h2M264 1147h2M272 1145h2M281 1145h2M253 1143h2M256 1143h2M262 1142h2M253 1137h2M261 1137h2M264 1137h2M270 1139h2M272 1138h2M264 1135h2M264 1130h2M244 1125h2M252 1127h2M257 1127h2M262 1126h2M266 1127h2M237 1122h2M250 1123h2M260 1123h2M232 1118h2M241 1117h2M252 1118h2M258 1113h2M249 1111h2M252 1111h2M258 1109h2M236 1107h2M242 1107h2M245 1107h2M248 1107h2M253 1106h2M234 1103h2M229 1098h2M220 1095h2M224 1093h2M233 1093h2M237 1093h2M242 1093h2M246 1095h2M236 1091h2M222 1086h2M226 1086h2M230 1085h2M232 1087h2M236 1085h2M228 1081h2M236 1081h2M242 1081h2M229 1078h2M234 1078h2M236 1077h2M241 1079h2M233 1074h2M241 1074h2M222 1069h2M232 1069h2M236 1070h2M229 1067h2M232 1067h2M238 1065h2M212 1063h2M225 1063h2M230 1062h2M237 1061h2M218 1059h2M221 1058h2M225 1058h2M229 1053h2M232 1054h2M212 1049h2M225 1051h2M229 1050h2M222 1046h2M230 1045h2M233 1047h2M217 1043h2M230 1041h2M210 1039h2M218 1039h2M224 1038h2M229 1037h2M209 1035h2M212 1033h2M217 1035h2M221 1035h2M225 1034h2M229 1035h2M209 1029h2M217 1029h2M206 1026h2M210 1025h2M214 1025h2M217 1026h2M220 1027h2M225 1026h2M206 1023h2M218 1022h2M205 1019h2M212 1018h2M206 1013h2M210 1013h2M213 1013h2M221 1013h2M222 1009h2M201 1005h2M209 1006h2M214 1006h2M217 1006h2M201 1002h2M212 1002h2M210 999h2M214 999h2M202 994h2M209 993h2M212 995h2M217 994h2M200 990h2M205 991h2M212 989h2M216 989h2M194 985h2M200 985h2M212 986h2M208 981h2M212 979h2M202 975h2M205 975h2M188 969h2M194 971h2M201 971h2M204 971h2M204 967h2M190 961h2M201 961h2M206 963h2M209 963h2M190 957h2M202 959h2M205 957h2M208 958h2M197 955h2M206 955h2M208 954h2M196 951h2M205 951h2M210 951h2M196 945h2M200 945h2M194 942h2M196 942h2M204 941h2M196 938h2M202 937h2M186 935h2M196 933h2M200 935h2M204 934h2M194 929h2M201 930h2M189 926h2M194 925h2M182 919h2M194 913h2M196 914h2M200 915h2M193 909h2M194 905h2M197 906h2M189 901h2M192 901h2M202 902h2M204 903h2M192 899h2M209 895h2M198 889h2M204 891h2M212 889h2M197 882h2M201 881h2M205 882h2M197 878h2M202 878h2M205 877h2M209 878h2M214 878h2M204 871h2M208 871h2M204 866h2M210 866h2M212 861h2M193 858h2M210 859h2M213 858h2M218 858h2M192 855h2M213 855h2M216 855h2M208 849h2M217 849h2M221 849h2M221 845h2M220 842h2M208 839h2M220 837h2M218 833h2M225 830h2M220 825h2M224 821h2M208 817h2M221 817h2M226 818h2M217 815h2M221 814h2M217 810h2M222 810h2M210 807h2M218 806h2M220 807h2M202 801h2M208 803h2M216 802h2M196 799h2M206 798h2M218 797h2M222 797h2M204 795h2M218 793h2M221 794h2M205 789h2M216 790h2M220 791h2M205 786h2M213 787h2M221 787h2M205 782h2M212 783h2M222 782h2M208 778h2M213 778h2M221 777h2M213 774h2M210 769h2M216 770h2M222 771h2M200 766h2M208 761h2M220 763h2M210 759h2M214 757h2M224 757h2M206 754h2M224 755h2M205 751h2M213 751h2M222 751h2M206 747h2M221 745h2M226 745h2M221 741h2M230 742h2M222 737h2M229 737h2M233 737h2"/>
<polyline points="173.9,1001.9 174.4,1010.7 174.9,1018.9 175.4,1026.5 175.9,1033.5 176.4,1040.1 176.9,1046.2 177.4,1052.0 177.9,1057.3 178.4,1062.4 178.9,1067.2 179.4,1071.7 179.9,1075.9 180.4,1079.9 180.9,1083.8 181.4,1087.4 181.9,1090.8 182.4,1094.1 182.9,1097.2 183.4,1100.2 183.9,1103.0 184.4,1105.8 184.9,1108.4 185.4,1110.9 185.9,1113.3 186.4,1115.5 186.9,1117.8 187.4,1119.9 187.9,1121.9 188.4,1123.9 188.9,1125.8 189.4,1127.6 189.9,1129.3 190.4,1131.0 190.9,1132.7 191.4,1134.3 191.9,1135.8 192.4,1137.3 192.9,1138.7 193.4,1140.1 193.9,1141.5 196.9,1148.7 199.9,1154.9 202.9,1160.2 205.9,1164.7 208.9,1168.7 211.9,1172.2 214.9,1175.3 217.9,1178.1 220.9,1180.7 223.9,1182.9 226.9,1185.0 229.9,1186.9 232.9,1188.6 235.9,1190.2 238.9,1191.7 241.9,1193.0 244.9,1194.3 247.9,1195.5 250.9,1196.6 253.9,1197.6 256.9,1198.6 259.9,1199.5 262.9,1200.4 265.9,1201.2 268.9,1201.9 271.9,1202.6 274.9,1203.3 277.9,1204.0 280.9,1204.6 283.9,1205.2 286.9,1205.7 289.9,1206.3 292.9,1206.8 295.9,1207.3 298.9,1207.7 301.9,1208.2 304.9,1208.6 307.9,1209.0 310.9,1209.4 313.9,1209.8 316.9,1210.2 319.9,1210.5 322.9,1210.9 325.9,1211.2 328.9,1211.5 331.9,1211.8 334.9,1212.1 337.9,1212.4 340.9,1212.7 343.9,1212.9 346.9,1213.2 349.9,1213.4 352.9,1213.7 355.9,1213.9 358.9,1214.1 361.9,1214.3 364.9,1214.6 367.9,1214.8 370.9,1215.0 373.9,1215.2 376.9,1215.4 379.9,1215.5 382.9,1215.7 385.9,1215.9 388.9,1216.1 391.9,1216.2 394.9,1216.4 397.9,1216.6 400.9,1216.7 403.9,1216.9 406.9,1217.0 409.9,1217.2 412.9,1217.3 415.9,1217.4 418.9,1217.6 421.9,1217.7 424.9,1217.8 427.9,1218.0 430.9,1218.1 433.9,1218.2 436.9,1218.3 439.9,1218.4 442.9,1218.5 445.9,1218.6 448.9,1218.8 451.9,1218.9 454.9,1219.0 457.9,1219.1 460.9,1219.2 463.9,1219.3 466.9,1219.4 469.9,1219.4 472.9,1219.5 475.9,1219.6 478.9,1219.7 481.9,1219.8 484.9,1219.9 487.9,1220.0 490.9,1220.1 493.9,1220.1 496.9,1220.2 499.9,1220.3 502.9,1220.4 505.9,1220.4 508.9,1220.5 511.9,1220.6 514.9,1220.7 517.9,1220.7 520.9,1220.8 523.9,1220.9 526.9,1220.9 529.9,1221.0 532.9,1221.1 535.9,1221.1 538.9,1221.2 541.9,1221.3 544.9,1221.3 547.9,1221.4 550.9,1221.4 553.9,1221.5 556.9,1221.5 559.9,1221.6 562.9,1221.7 565.9,1221.7 568.9,1221.8 571.9,1221.8 574.9,1221.9 577.9,1221.9 580.9,1222.0 583.9,1222.0 586.9,1222.1 589.9,1222.1 592.9,1222.2 595.9,1222.2 598.9,1222.3 601.9,1222.3 604.9,1222.4 607.9,1222.4 610.9,1222.4 613.9,1222.5 616.9,1222.5 619.9,1222.6 622.9,1222.6 625.9,1222.7 628.9,1222.7 631.9,1222.7 634.9,1222.8 637.9,1222.8 640.9,1222.9 643.4,1222.9" fill="none" stroke="#f00" stroke-width="5" stroke-linecap="round" stroke-linejoin="round"/>
<line x1="154.9" x2="661.0" y1="1180.3" y2="1180.3" stroke="#1010e0" stroke-width="2"/>
<line x1="186.0" x2="186.0" y1="710.1" y2="1250.0" stroke="#1ef01e" stroke-width="2"/>
<rect x="154.9" y="710.1" width="506.1" height="539.9" fill="none" stroke="#000" stroke-width="2"/>
<line x1="137.9" x2="154.9" y1="1230.40" y2="1230.40" stroke="#000" stroke-width="2"/>
<text transform="translate(114.5,1230.40) rotate(-90) scale(0.955,1.07)" text-anchor="middle" font-size="29">0.0</text>
<line x1="137.9" x2="154.9" y1="1130.28" y2="1130.28" stroke="#000" stroke-width="2"/>
<text transform="translate(114.5,1130.28) rotate(-90) scale(0.955,1.07)" text-anchor="middle" font-size="29">0.2</text>
<line x1="137.9" x2="154.9" y1="1030.16" y2="1030.16" stroke="#000" stroke-width="2"/>
<text transform="translate(114.5,1030.16) rotate(-90) scale(0.955,1.07)" text-anchor="middle" font-size="29">0.4</text>
<line x1="137.9" x2="154.9" y1="930.04" y2="930.04" stroke="#000" stroke-width="2"/>
<text transform="translate(114.5,930.04) rotate(-90) scale(0.955,1.07)" text-anchor="middle" font-size="29">0.6</text>
<line x1="137.9" x2="154.9" y1="829.92" y2="829.92" stroke="#000" stroke-width="2"/>
<text transform="translate(114.5,829.92) rotate(-90) scale(0.955,1.07)" text-anchor="middle" font-size="29">0.8</text>
<line x1="137.9" x2="154.9" y1="729.80" y2="729.80" stroke="#000" stroke-width="2"/>
<text transform="translate(114.5,729.80) rotate(-90) scale(0.955,1.07)" text-anchor="middle" font-size="29">1.0</text>
<line x1="173.90" x2="173.90" y1="1250.0" y2="1267.0" stroke="#000" stroke-width="2"/>
<line x1="292.55" x2="292.55" y1="1250.0" y2="1267.0" stroke="#000" stroke-width="2"/>
<line x1="411.20" x2="411.20" y1="1250.0" y2="1267.0" stroke="#000" stroke-width="2"/>
<line x1="529.85" x2="529.85" y1="1250.0" y2="1267.0" stroke="#000" stroke-width="2"/>
<line x1="648.50" x2="648.50" y1="1250.0" y2="1267.0" stroke="#000" stroke-width="2"/>
<text x="173.90" y="1312.0" text-anchor="middle" font-size="29">0.0e+00</text>
<text x="411.20" y="1312.0" text-anchor="middle" font-size="29">1.0e+08</text>
<text x="648.50" y="1312.0" text-anchor="middle" font-size="29">2.0e+08</text>
<text x="186.0" y="1279.2" text-anchor="middle" font-size="21.5" fill="#1ef01e">5287609</text>
<text x="407.9" y="1380.0" text-anchor="middle" font-size="28.6">Distance (bp)</text>
<text transform="translate(39.6,979.9) rotate(-90) scale(1.05,1)" text-anchor="middle" font-size="28.6">LD (r<tspan font-size="19.5" dy="-14">2</tspan><tspan dy="14">)</tspan></text>
<text x="346.0" y="974.1" font-size="45" font-weight="bold" textLength="287.4" lengthAdjust="spacingAndGlyphs">D Subgenome</text>
<rect x="923" y="727" width="255" height="3" fill="#a1a1a1"/>
<path stroke="#a1a1a1" stroke-width="4" fill="none" d="M1183 728h4M1203 728h4M1210 728h4M1218 728h4M1230 728h4M1238 728h4M1258 728h4M1273 728h4M1278 728h4M1304 728h4M1384 728h4M923 1226h468M923 1222h444M923 1218h416M923 1214h380M923 1210h348M923 1206h324M923 1202h300M923 1198h280M923 1194h264M923 1190h252M923 1186h244M923 1182h232M923 1178h216M923 1174h200M923 1170h188M923 1166h180M923 1162h172M923 1158h164M923 1154h164M923 1150h160M923 1146h156M923 1142h156M923 1138h152M923 1134h148M923 1130h148M923 1126h148M923 1122h144M923 1118h144M923 1114h144M923 1110h140M923 1106h140M923 1102h140M923 1098h140M923 1094h140M923 1090h140M923 1086h140M923 1082h140M923 1078h136M923 1074h136M923 1070h136M923 1066h136M923 1062h132M923 1058h132M923 1054h128M923 1050h128M923 1046h128M923 1042h124M923 1038h124M923 1034h120M923 1030h120M923 1026h116M923 1022h116M923 1018h112M923 1014h112M923 1010h108M923 1006h108M923 1002h108M923 998h108M923 994h104M923 990h104M923 986h104M923 982h104M923 978h100M923 974h100M923 970h100M923 966h100M923 962h100M923 958h100M923 954h100M923 950h100M923 946h100M923 942h100M923 938h100M923 934h100M923 930h100M923 926h100M923 922h100M923 918h100M923 914h104M923 910h108M923 906h112M923 902h116M923 898h120M923 894h120M923 890h120M923 886h120M923 882h120M923 878h120M923 874h120M923 870h116M923 866h108M923 862h104M923 858h100M923 854h96M923 850h92M923 846h92M923 842h92M923 838h92M923 834h88M923 830h88M923 826h88M923 822h88M923 818h84M923 814h84M923 810h80M923 806h80M923 802h80M923 798h80M923 794h76M923 790h76M923 786h76M923 782h76M923 778h72M923 774h72M923 770h72M923 766h72M923 762h76M923 758h80M923 754h88M923 750h100M923 746h116M923 742h128M923 738h144M923 736h156M1079 736h4M1102 736h4M1113 736h4M1114 736h4M1122 736h4M1122 736h4M1125 736h4M1133 736h4M1135 736h4M1185 736h4M1193 736h4M1087 737h4M1094 737h4M1098 737h4M1099 737h4M1101 737h4M1107 737h4M1117 737h4M1121 737h4M1134 737h4M1136 737h4M1141 737h4M1148 737h4M1158 737h4M1186 737h4M1189 737h4M1201 737h4M1067 738h4M1069 738h4M1070 738h4M1076 738h4M1078 738h4M1082 738h4M1083 738h4M1090 738h4M1092 738h4M1094 738h4M1096 738h4M1101 738h4M1104 738h4M1110 738h4M1116 738h4M1122 738h4M1122 738h4M1135 738h4M1135 738h4M1137 738h4M1138 738h4M1142 738h4M1148 738h4M1148 738h4M1150 738h4M1151 738h4M1151 738h4M1165 738h4M1170 738h4M1177 738h4M1184 738h4M1193 738h4M1194 738h4M1199 738h4M1204 738h4M1204 738h4M1206 738h4M1223 738h4M1067 739h4M1069 739h4M1070 739h4M1082 739h4M1083 739h4M1086 739h4M1088 739h4M1090 739h4M1096 739h4M1098 739h4M1103 739h4M1107 739h4M1110 739h4M1115 739h4M1117 739h4M1120 739h4M1121 739h4M1124 739h4M1125 739h4M1131 739h4M1134 739h4M1135 739h4M1137 739h4M1142 739h4M1148 739h4M1151 739h4M1158 739h4M1162 739h4M1175 739h4M1179 739h4M1188 739h4M1217 739h4M1075 740h4M1077 740h4M1089 740h4M1096 740h4M1105 740h4M1116 740h4M1148 740h4M1163 740h4M1170 740h4M1179 740h4M1204 740h4M1212 740h4M1219 740h4M1074 741h4M1074 741h4M1083 741h4M1098 741h4M1107 741h4M1107 741h4M1117 741h4M1121 741h4M1126 741h4M1135 741h4M1137 741h4M1146 741h4M1152 741h4M1156 741h4M1195 741h4M1196 741h4M1216 741h4M1226 741h4M1052 742h4M1055 742h4M1070 742h4M1076 742h4M1078 742h4M1079 742h4M1081 742h4M1090 742h4M1103 742h4M1106 742h4M1109 742h4M1113 742h4M1133 742h4M1146 742h4M1146 742h4M1151 742h4M1157 742h4M1157 742h4M1177 742h4M1195 742h4M1207 742h4M1059 743h4M1066 743h4M1073 743h4M1079 743h4M1086 743h4M1092 743h4M1094 743h4M1098 743h4M1102 743h4M1102 743h4M1102 743h4M1103 743h4M1104 743h4M1108 743h4M1130 743h4M1140 743h4M1163 743h4M1171 743h4M1174 743h4M1178 743h4M1182 743h4M1186 743h4M1189 743h4M1202 743h4M1218 743h4M1226 743h4M1061 744h4M1062 744h4M1062 744h4M1081 744h4M1086 744h4M1095 744h4M1098 744h4M1101 744h4M1114 744h4M1118 744h4M1121 744h4M1122 744h4M1125 744h4M1125 744h4M1134 744h4M1143 744h4M1148 744h4M1153 744h4M1159 744h4M1167 744h4M1174 744h4M1187 744h4M1193 744h4M1210 744h4M1213 744h4M1061 745h4M1069 745h4M1071 745h4M1089 745h4M1110 745h4M1115 745h4M1129 745h4M1129 745h4M1156 745h4M1160 745h4M1165 745h4M1187 745h4M1193 745h4M1195 745h4M1044 746h4M1050 746h4M1056 746h4M1061 746h4M1068 746h4M1077 746h4M1082 746h4M1083 746h4M1105 746h4M1122 746h4M1152 746h4M1186 746h4M1188 746h4M1210 746h4M1219 746h4M1271 746h4M1040 747h4M1043 747h4M1053 747h4M1079 747h4M1079 747h4M1082 747h4M1093 747h4M1109 747h4M1112 747h4M1115 747h4M1115 747h4M1142 747h4M1148 747h4M1048 748h4M1069 748h4M1081 748h4M1085 748h4M1086 748h4M1124 748h4M1145 748h4M1148 748h4M1197 748h4M1039 749h4M1041 749h4M1047 749h4M1063 749h4M1075 749h4M1077 749h4M1082 749h4M1093 749h4M1099 749h4M1106 749h4M1125 749h4M1144 749h4M1153 749h4M1172 749h4M1192 749h4M1024 750h4M1057 750h4M1087 750h4M1148 750h4M1151 750h4M1153 750h4M1028 751h4M1051 751h4M1060 751h4M1067 751h4M1069 751h4M1094 751h4M1107 751h4M1112 751h4M1120 751h4M1125 751h4M1127 751h4M1136 751h4M1143 751h4M1153 751h4M1158 751h4M1175 751h4M1203 751h4M1026 752h4M1026 752h4M1054 752h4M1086 752h4M1092 752h4M1093 752h4M1097 752h4M1100 752h4M1101 752h4M1118 752h4M1139 752h4M1150 752h4M1151 752h4M1167 752h4M1183 752h4M1035 753h4M1047 753h4M1059 753h4M1060 753h4M1068 753h4M1081 753h4M1096 753h4M1100 753h4M1110 753h4M1122 753h4M1152 753h4M1011 754h4M1012 754h4M1015 754h4M1021 754h4M1027 754h4M1033 754h4M1036 754h4M1037 754h4M1048 754h4M1052 754h4M1053 754h4M1055 754h4M1059 754h4M1078 754h4M1085 754h4M1100 754h4M1109 754h4M1112 754h4M1113 754h4M1122 754h4M1128 754h4M1134 754h4M1140 754h4M1148 754h4M1159 754h4M1175 754h4M1218 754h4M1013 755h4M1051 755h4M1059 755h4M1074 755h4M1074 755h4M1078 755h4M1080 755h4M1088 755h4M1093 755h4M1108 755h4M1110 755h4M1111 755h4M1129 755h4M1129 755h4M1130 755h4M1174 755h4M1198 755h4M1201 755h4M1208 755h4M1035 756h4M1035 756h4M1060 756h4M1061 756h4M1063 756h4M1066 756h4M1067 756h4M1097 756h4M1104 756h4M1114 756h4M1118 756h4M1119 756h4M1142 756h4M1162 756h4M1197 756h4M1205 756h4M1037 757h4M1070 757h4M1106 757h4M1108 757h4M1113 757h4M1133 757h4M1139 757h4M1144 757h4M1187 757h4M1005 758h4M1014 758h4M1015 758h4M1034 758h4M1055 758h4M1068 758h4M1075 758h4M1092 758h4M1109 758h4M1126 758h4M1128 758h4M1143 758h4M1158 758h4M1180 758h4M1009 759h4M1030 759h4M1036 759h4M1072 759h4M1103 759h4M1107 759h4M1146 759h4M1016 760h4M1020 760h4M1038 760h4M1055 760h4M1061 760h4M1062 760h4M1071 760h4M1079 760h4M1080 760h4M1080 760h4M1103 760h4M1106 760h4M1118 760h4M1164 760h4M1173 760h4M1180 760h4M1210 760h4M1298 760h4M1010 761h4M1012 761h4M1040 761h4M1053 761h4M1080 761h4M1109 761h4M1127 761h4M1178 761h4M1178 761h4M1233 761h4M1004 762h4M1019 762h4M1021 762h4M1024 762h4M1031 762h4M1050 762h4M1056 762h4M1060 762h4M1062 762h4M1077 762h4M1130 762h4M1132 762h4M1163 762h4M1173 762h4M1047 763h4M1051 763h4M1057 763h4M1061 763h4M1069 763h4M1072 763h4M1081 763h4M1115 763h4M1131 763h4M1135 763h4M1138 763h4M1153 763h4M1155 763h4M1159 763h4M1161 763h4M1168 763h4M1184 763h4M1204 763h4M1239 763h4M999 764h4M1000 764h4M1003 764h4M1009 764h4M1016 764h4M1023 764h4M1035 764h4M1066 764h4M1085 764h4M1115 764h4M1138 764h4M1146 764h4M1164 764h4M1167 764h4M1188 764h4M1303 764h4M1002 765h4M1002 765h4M1002 765h4M1016 765h4M1028 765h4M1048 765h4M1066 765h4M1098 765h4M1122 765h4M1132 765h4M1135 765h4M1145 765h4M1168 765h4M1212 765h4M997 766h4M999 766h4M1004 766h4M1004 766h4M1019 766h4M1021 766h4M1080 766h4M1101 766h4M1153 766h4M1217 766h4M998 767h4M1002 767h4M1004 767h4M1012 767h4M1017 767h4M1045 767h4M1068 767h4M1074 767h4M1102 767h4M1107 767h4M1111 767h4M1121 767h4M1122 767h4M1138 767h4M1014 768h4M1050 768h4M1052 768h4M1055 768h4M1058 768h4M1067 768h4M1080 768h4M1081 768h4M1090 768h4M1092 768h4M1108 768h4M1133 768h4M1135 768h4M1138 768h4M1149 768h4M1151 768h4M1269 768h4M997 769h4M1014 769h4M1015 769h4M1015 769h4M1019 769h4M1019 769h4M1025 769h4M1026 769h4M1031 769h4M1034 769h4M1050 769h4M1056 769h4M1067 769h4M1068 769h4M1088 769h4M1088 769h4M1106 769h4M1172 769h4M1203 769h4M1216 769h4M1289 769h4M1000 770h4M1002 770h4M1029 770h4M1052 770h4M1055 770h4M1056 770h4M1069 770h4M1095 770h4M1100 770h4M1101 770h4M1123 770h4M1221 770h4M1021 771h4M1022 771h4M1045 771h4M1063 771h4M1067 771h4M1077 771h4M1123 771h4M1136 771h4M1150 771h4M1173 771h4M1200 771h4M1001 772h4M1004 772h4M1008 772h4M1009 772h4M1010 772h4M1013 772h4M1014 772h4M1015 772h4M1038 772h4M1041 772h4M1075 772h4M1093 772h4M1093 772h4M1094 772h4M1104 772h4M1128 772h4M1190 772h4M995 773h4M997 773h4M1003 773h4M1004 773h4M1014 773h4M1024 773h4M1059 773h4M1162 773h4M1164 773h4M995 774h4M997 774h4M999 774h4M1003 774h4M1009 774h4M1033 774h4M1043 774h4M1071 774h4M1076 774h4M1077 774h4M1078 774h4M1241 774h4M1013 775h4M1026 775h4M1030 775h4M1033 775h4M1039 775h4M1056 775h4M1106 775h4M1173 775h4M1241 775h4M999 776h4M1004 776h4M1004 776h4M1020 776h4M1023 776h4M1027 776h4M1033 776h4M1035 776h4M1045 776h4M1045 776h4M1054 776h4M1061 776h4M1085 776h4M1139 776h4M1145 776h4M1196 776h4M1006 777h4M1012 777h4M1021 777h4M1025 777h4M1054 777h4M1056 777h4M1065 777h4M1070 777h4M1089 777h4M1095 777h4M1106 777h4M995 778h4M1006 778h4M1007 778h4M1008 778h4M1010 778h4M1017 778h4M1025 778h4M1047 778h4M1075 778h4M1081 778h4M1097 778h4M1150 778h4M1196 778h4M1243 778h4M1003 779h4M1006 779h4M1040 779h4M1050 779h4M1056 779h4M1092 779h4M1171 779h4M1197 779h4M1293 779h4M996 780h4M1004 780h4M1004 780h4M1005 780h4M1123 780h4M998 781h4M1018 781h4M1025 781h4M1056 781h4M1079 781h4M1088 781h4M1119 781h4M1123 781h4M1146 781h4M1153 781h4M1164 781h4M1015 782h4M1019 782h4M1025 782h4M1062 782h4M1090 782h4M1100 782h4M1102 782h4M1007 783h4M1010 783h4M1020 783h4M1041 783h4M1059 783h4M1065 783h4M1069 783h4M1073 783h4M1081 783h4M1124 783h4M1175 783h4M1177 783h4M1178 783h4M1001 784h4M1005 784h4M1023 784h4M1032 784h4M1037 784h4M1037 784h4M1105 784h4M1120 784h4M1149 784h4M1217 784h4M1218 784h4M1255 784h4M1011 785h4M1051 785h4M1056 785h4M1064 785h4M1067 785h4M1078 785h4M1079 785h4M1093 785h4M1095 785h4M1129 785h4M1140 785h4M1152 785h4M1243 785h4M999 786h4M1000 786h4M1011 786h4M1012 786h4M1014 786h4M1014 786h4M1045 786h4M1075 786h4M1105 786h4M1132 786h4M1142 786h4M1164 786h4M1175 786h4M1026 787h4M1041 787h4M1054 787h4M1123 787h4M1126 787h4M1188 787h4M1194 787h4M1025 788h4M1028 788h4M1053 788h4M1057 788h4M1074 788h4M1082 788h4M1093 788h4M1096 788h4M1123 788h4M1197 788h4M1002 789h4M1016 789h4M1025 789h4M1047 789h4M1048 789h4M1061 789h4M1085 789h4M1088 789h4M1092 789h4M1108 789h4M1110 789h4M1114 789h4M1137 789h4M1177 789h4M1193 789h4M1246 789h4M1012 790h4M1016 790h4M1024 790h4M1037 790h4M1039 790h4M1040 790h4M1049 790h4M1050 790h4M1059 790h4M1089 790h4M1096 790h4M1113 790h4M1161 790h4M1189 790h4M1209 790h4M1222 790h4M1252 790h4M1005 791h4M1037 791h4M1041 791h4M1047 791h4M1068 791h4M1104 791h4M1124 791h4M1125 791h4M1133 791h4M1149 791h4M1159 791h4M1168 791h4M1200 791h4M999 792h4M1006 792h4M1019 792h4M1043 792h4M1050 792h4M1060 792h4M1066 792h4M1074 792h4M1076 792h4M1136 792h4M1139 792h4M1142 792h4M1147 792h4M1164 792h4M1181 792h4M1183 792h4M1198 792h4M1248 792h4M1045 793h4M1052 793h4M1055 793h4M1065 793h4M1066 793h4M1096 793h4M1114 793h4M1138 793h4M1000 794h4M1004 794h4M1008 794h4M1020 794h4M1024 794h4M1026 794h4M1027 794h4M1045 794h4M1067 794h4M1067 794h4M1087 794h4M1154 794h4M999 795h4M1001 795h4M1002 795h4M1026 795h4M1030 795h4M1047 795h4M1062 795h4M1087 795h4M1089 795h4M1126 795h4M1202 795h4M1219 795h4M1000 796h4M1002 796h4M1009 796h4M1011 796h4M1027 796h4M1027 796h4M1037 796h4M1050 796h4M1062 796h4M1065 796h4M1075 796h4M1080 796h4M1084 796h4M1085 796h4M1105 796h4M1109 796h4M1125 796h4M1140 796h4M1193 796h4M1007 797h4M1008 797h4M1016 797h4M1017 797h4M1033 797h4M1038 797h4M1039 797h4M1045 797h4M1051 797h4M1064 797h4M1094 797h4M1110 797h4M1126 797h4M1138 797h4M1140 797h4M1143 797h4M1197 797h4M1007 798h4M1009 798h4M1011 798h4M1016 798h4M1032 798h4M1053 798h4M1076 798h4M1081 798h4M1093 798h4M1143 798h4M1177 798h4M1212 798h4M1031 799h4M1037 799h4M1042 799h4M1098 799h4M1127 799h4M1162 799h4M1314 799h4M1015 800h4M1018 800h4M1027 800h4M1027 800h4M1031 800h4M1057 800h4M1072 800h4M1097 800h4M1110 800h4M1110 800h4M1182 800h4M1007 801h4M1011 801h4M1031 801h4M1045 801h4M1050 801h4M1059 801h4M1060 801h4M1063 801h4M1064 801h4M1065 801h4M1084 801h4M1100 801h4M1116 801h4M1116 801h4M1144 801h4M1155 801h4M1160 801h4M1205 801h4M1212 801h4M1009 802h4M1011 802h4M1014 802h4M1021 802h4M1025 802h4M1031 802h4M1033 802h4M1082 802h4M1093 802h4M1123 802h4M1157 802h4M1172 802h4M1335 802h4M1013 803h4M1025 803h4M1048 803h4M1056 803h4M1061 803h4M1077 803h4M1094 803h4M1094 803h4M1097 803h4M1110 803h4M1135 803h4M1145 803h4M1201 803h4M1005 804h4M1009 804h4M1025 804h4M1045 804h4M1077 804h4M1103 804h4M1137 804h4M1141 804h4M1176 804h4M1023 805h4M1025 805h4M1035 805h4M1048 805h4M1058 805h4M1059 805h4M1061 805h4M1062 805h4M1068 805h4M1074 805h4M1078 805h4M1099 805h4M1107 805h4M1152 805h4M1189 805h4M1190 805h4M1210 805h4M1009 806h4M1019 806h4M1023 806h4M1063 806h4M1072 806h4M1077 806h4M1098 806h4M1132 806h4M1141 806h4M1163 806h4M1187 806h4M1213 806h4M1003 807h4M1010 807h4M1011 807h4M1013 807h4M1021 807h4M1028 807h4M1040 807h4M1051 807h4M1052 807h4M1054 807h4M1122 807h4M1132 807h4M1140 807h4M1149 807h4M1007 808h4M1012 808h4M1013 808h4M1014 808h4M1028 808h4M1032 808h4M1045 808h4M1045 808h4M1047 808h4M1065 808h4M1068 808h4M1072 808h4M1077 808h4M1087 808h4M1095 808h4M1100 808h4M1117 808h4M1183 808h4M1006 809h4M1036 809h4M1039 809h4M1041 809h4M1069 809h4M1070 809h4M1076 809h4M1084 809h4M1093 809h4M1144 809h4M1186 809h4M1006 810h4M1014 810h4M1016 810h4M1019 810h4M1033 810h4M1049 810h4M1082 810h4M1104 810h4M1115 810h4M1148 810h4M1181 810h4M1202 810h4M1253 810h4M1280 810h4M1017 811h4M1028 811h4M1030 811h4M1037 811h4M1050 811h4M1077 811h4M1078 811h4M1092 811h4M1116 811h4M1118 811h4M1170 811h4M1193 811h4M1232 811h4M1240 811h4M1005 812h4M1008 812h4M1011 812h4M1014 812h4M1015 812h4M1017 812h4M1032 812h4M1057 812h4M1060 812h4M1067 812h4M1069 812h4M1120 812h4M1192 812h4M1201 812h4M1003 813h4M1009 813h4M1010 813h4M1034 813h4M1036 813h4M1061 813h4M1070 813h4M1071 813h4M1162 813h4M1221 813h4M1014 814h4M1036 814h4M1050 814h4M1056 814h4M1076 814h4M1078 814h4M1078 814h4M1105 814h4M1105 814h4M1148 814h4M1154 814h4M1174 814h4M1196 814h4M1011 815h4M1014 815h4M1017 815h4M1019 815h4M1027 815h4M1055 815h4M1073 815h4M1079 815h4M1102 815h4M1126 815h4M1132 815h4M1158 815h4M1011 816h4M1012 816h4M1021 816h4M1026 816h4M1037 816h4M1038 816h4M1056 816h4M1063 816h4M1091 816h4M1094 816h4M1099 816h4M1108 816h4M1182 816h4M1201 816h4M1211 816h4M1252 816h4M1007 817h4M1018 817h4M1035 817h4M1037 817h4M1046 817h4M1058 817h4M1122 817h4M1127 817h4M1154 817h4M1166 817h4M1184 817h4M1205 817h4M1226 817h4M1007 818h4M1007 818h4M1021 818h4M1027 818h4M1032 818h4M1044 818h4M1044 818h4M1048 818h4M1058 818h4M1065 818h4M1074 818h4M1102 818h4M1114 818h4M1119 818h4M1192 818h4M1012 819h4M1012 819h4M1013 819h4M1020 819h4M1038 819h4M1039 819h4M1045 819h4M1052 819h4M1064 819h4M1073 819h4M1197 819h4M1212 819h4M1284 819h4M1009 820h4M1011 820h4M1012 820h4M1022 820h4M1022 820h4M1026 820h4M1040 820h4M1062 820h4M1090 820h4M1106 820h4M1117 820h4M1153 820h4M1167 820h4M1241 820h4M1008 821h4M1008 821h4M1009 821h4M1018 821h4M1021 821h4M1025 821h4M1034 821h4M1040 821h4M1060 821h4M1069 821h4M1101 821h4M1104 821h4M1113 821h4M1124 821h4M1153 821h4M1180 821h4M1193 821h4M1282 821h4M1030 822h4M1040 822h4M1055 822h4M1071 822h4M1091 822h4M1091 822h4M1108 822h4M1125 822h4M1132 822h4M1143 822h4M1221 822h4M1277 822h4M1305 822h4M1018 823h4M1022 823h4M1022 823h4M1029 823h4M1044 823h4M1049 823h4M1063 823h4M1071 823h4M1074 823h4M1091 823h4M1108 823h4M1019 824h4M1043 824h4M1075 824h4M1217 824h4M1238 824h4M1011 825h4M1013 825h4M1015 825h4M1017 825h4M1021 825h4M1024 825h4M1041 825h4M1048 825h4M1053 825h4M1058 825h4M1062 825h4M1071 825h4M1071 825h4M1108 825h4M1136 825h4M1154 825h4M1011 826h4M1013 826h4M1013 826h4M1019 826h4M1021 826h4M1031 826h4M1046 826h4M1049 826h4M1063 826h4M1090 826h4M1098 826h4M1136 826h4M1151 826h4M1152 826h4M1186 826h4M1268 826h4M1017 827h4M1025 827h4M1028 827h4M1033 827h4M1059 827h4M1063 827h4M1075 827h4M1077 827h4M1088 827h4M1099 827h4M1153 827h4M1190 827h4M1290 827h4M1019 828h4M1022 828h4M1022 828h4M1023 828h4M1026 828h4M1044 828h4M1051 828h4M1060 828h4M1075 828h4M1079 828h4M1090 828h4M1096 828h4M1134 828h4M1146 828h4M1151 828h4M1154 828h4M1185 828h4M1187 828h4M1194 828h4M1027 829h4M1042 829h4M1076 829h4M1082 829h4M1107 829h4M1113 829h4M1122 829h4M1133 829h4M1157 829h4M1157 829h4M1163 829h4M1185 829h4M1206 829h4M1220 829h4M1227 829h4M1017 830h4M1043 830h4M1053 830h4M1054 830h4M1054 830h4M1065 830h4M1072 830h4M1090 830h4M1091 830h4M1092 830h4M1095 830h4M1099 830h4M1117 830h4M1224 830h4M1361 830h4M1042 831h4M1043 831h4M1063 831h4M1084 831h4M1091 831h4M1107 831h4M1256 831h4M1306 831h4M1022 832h4M1030 832h4M1035 832h4M1057 832h4M1086 832h4M1088 832h4M1101 832h4M1107 832h4M1118 832h4M1121 832h4M1285 832h4M1018 833h4M1030 833h4M1046 833h4M1067 833h4M1071 833h4M1109 833h4M1113 833h4M1117 833h4M1148 833h4M1012 834h4M1035 834h4M1072 834h4M1073 834h4M1098 834h4M1117 834h4M1131 834h4M1151 834h4M1162 834h4M1191 834h4M1279 834h4M1015 835h4M1022 835h4M1036 835h4M1043 835h4M1046 835h4M1053 835h4M1058 835h4M1068 835h4M1086 835h4M1125 835h4M1126 835h4M1148 835h4M1219 835h4M1013 836h4M1018 836h4M1021 836h4M1036 836h4M1060 836h4M1065 836h4M1088 836h4M1103 836h4M1114 836h4M1157 836h4M1011 837h4M1018 837h4M1042 837h4M1049 837h4M1072 837h4M1082 837h4M1094 837h4M1116 837h4M1120 837h4M1130 837h4M1206 837h4M1244 837h4M1015 838h4M1032 838h4M1040 838h4M1094 838h4M1096 838h4M1110 838h4M1131 838h4M1023 839h4M1044 839h4M1049 839h4M1077 839h4M1082 839h4M1086 839h4M1096 839h4M1098 839h4M1121 839h4M1182 839h4M1183 839h4M1188 839h4M1195 839h4M1214 839h4M1252 839h4M1291 839h4M1016 840h4M1023 840h4M1026 840h4M1064 840h4M1082 840h4M1099 840h4M1130 840h4M1141 840h4M1146 840h4M1175 840h4M1176 840h4M1247 840h4M1260 840h4M1015 841h4M1020 841h4M1026 841h4M1033 841h4M1035 841h4M1040 841h4M1043 841h4M1081 841h4M1090 841h4M1098 841h4M1102 841h4M1108 841h4M1139 841h4M1036 842h4M1045 842h4M1058 842h4M1087 842h4M1089 842h4M1095 842h4M1100 842h4M1105 842h4M1107 842h4M1114 842h4M1124 842h4M1128 842h4M1148 842h4M1182 842h4M1326 842h4M1017 843h4M1051 843h4M1051 843h4M1093 843h4M1093 843h4M1156 843h4M1174 843h4M1210 843h4M1017 844h4M1024 844h4M1032 844h4M1041 844h4M1050 844h4M1054 844h4M1063 844h4M1078 844h4M1081 844h4M1088 844h4M1117 844h4M1162 844h4M1045 845h4M1065 845h4M1087 845h4M1099 845h4M1112 845h4M1207 845h4M1017 846h4M1027 846h4M1028 846h4M1031 846h4M1034 846h4M1059 846h4M1080 846h4M1109 846h4M1118 846h4M1151 846h4M1171 846h4M1015 847h4M1040 847h4M1045 847h4M1052 847h4M1086 847h4M1101 847h4M1107 847h4M1111 847h4M1122 847h4M1157 847h4M1196 847h4M1049 848h4M1078 848h4M1109 848h4M1126 848h4M1168 848h4M1198 848h4M1303 848h4M1039 849h4M1052 849h4M1077 849h4M1167 849h4M1222 849h4M1017 850h4M1041 850h4M1052 850h4M1060 850h4M1063 850h4M1126 850h4M1149 850h4M1153 850h4M1271 850h4M1361 850h4M1017 851h4M1023 851h4M1042 851h4M1042 851h4M1045 851h4M1047 851h4M1053 851h4M1073 851h4M1089 851h4M1117 851h4M1127 851h4M1134 851h4M1215 851h4M1022 852h4M1037 852h4M1045 852h4M1065 852h4M1078 852h4M1085 852h4M1097 852h4M1121 852h4M1176 852h4M1214 852h4M1058 853h4M1060 853h4M1063 853h4M1086 853h4M1143 853h4M1181 853h4M1181 853h4M1025 854h4M1033 854h4M1038 854h4M1051 854h4M1090 854h4M1100 854h4M1113 854h4M1120 854h4M1129 854h4M1130 854h4M1139 854h4M1029 855h4M1043 855h4M1078 855h4M1096 855h4M1142 855h4M1208 855h4M1028 856h4M1028 856h4M1031 856h4M1033 856h4M1033 856h4M1035 856h4M1050 856h4M1059 856h4M1061 856h4M1069 856h4M1069 856h4M1085 856h4M1106 856h4M1110 856h4M1152 856h4M1183 856h4M1252 856h4M1020 857h4M1027 857h4M1033 857h4M1038 857h4M1039 857h4M1059 857h4M1084 857h4M1090 857h4M1096 857h4M1135 857h4M1238 857h4M1330 857h4M1369 857h4M1024 858h4M1025 858h4M1026 858h4M1034 858h4M1038 858h4M1038 858h4M1055 858h4M1063 858h4M1073 858h4M1089 858h4M1089 858h4M1195 858h4M1281 858h4M1060 859h4M1061 859h4M1067 859h4M1071 859h4M1096 859h4M1114 859h4M1025 860h4M1026 860h4M1027 860h4M1027 860h4M1032 860h4M1035 860h4M1054 860h4M1073 860h4M1088 860h4M1103 860h4M1104 860h4M1128 860h4M1137 860h4M1140 860h4M1159 860h4M1170 860h4M1179 860h4M1215 860h4M1026 861h4M1031 861h4M1036 861h4M1040 861h4M1045 861h4M1050 861h4M1073 861h4M1081 861h4M1085 861h4M1099 861h4M1108 861h4M1114 861h4M1115 861h4M1126 861h4M1126 861h4M1141 861h4M1148 861h4M1151 861h4M1159 861h4M1208 861h4M1053 862h4M1064 862h4M1083 862h4M1093 862h4M1097 862h4M1098 862h4M1104 862h4M1222 862h4M1029 863h4M1029 863h4M1034 863h4M1062 863h4M1086 863h4M1086 863h4M1101 863h4M1115 863h4M1141 863h4M1174 863h4M1189 863h4M1229 863h4M1049 864h4M1061 864h4M1061 864h4M1061 864h4M1079 864h4M1128 864h4M1182 864h4M1197 864h4M1034 865h4M1094 865h4M1099 865h4M1171 865h4M1181 865h4M1037 866h4M1038 866h4M1043 866h4M1054 866h4M1060 866h4M1061 866h4M1065 866h4M1091 866h4M1103 866h4M1150 866h4M1217 866h4M1266 866h4M1332 866h4M1032 867h4M1035 867h4M1036 867h4M1044 867h4M1052 867h4M1056 867h4M1058 867h4M1068 867h4M1082 867h4M1096 867h4M1103 867h4M1114 867h4M1115 867h4M1162 867h4M1165 867h4M1237 867h4M1036 868h4M1039 868h4M1070 868h4M1074 868h4M1078 868h4M1083 868h4M1096 868h4M1098 868h4M1139 868h4M1148 868h4M1182 868h4M1211 868h4M1033 869h4M1035 869h4M1038 869h4M1040 869h4M1071 869h4M1083 869h4M1091 869h4M1125 869h4M1128 869h4M1137 869h4M1202 869h4M1204 869h4M1280 869h4M1047 870h4M1050 870h4M1066 870h4M1073 870h4M1080 870h4M1082 870h4M1111 870h4M1133 870h4M1192 870h4M1223 870h4M1302 870h4M1071 871h4M1083 871h4M1084 871h4M1088 871h4M1096 871h4M1146 871h4M1150 871h4M1233 871h4M1281 871h4M1043 872h4M1049 872h4M1061 872h4M1063 872h4M1077 872h4M1105 872h4M1121 872h4M1126 872h4M1149 872h4M1229 872h4M1049 873h4M1054 873h4M1060 873h4M1081 873h4M1105 873h4M1111 873h4M1124 873h4M1147 873h4M1186 873h4M1203 873h4M1237 873h4M1047 874h4M1053 874h4M1059 874h4M1102 874h4M1103 874h4M1103 874h4M1132 874h4M1244 874h4M1050 875h4M1059 875h4M1061 875h4M1071 875h4M1096 875h4M1098 875h4M1101 875h4M1107 875h4M1121 875h4M1122 875h4M1138 875h4M1170 875h4M1181 875h4M1258 875h4M1260 875h4M1043 876h4M1043 876h4M1045 876h4M1062 876h4M1074 876h4M1082 876h4M1082 876h4M1101 876h4M1109 876h4M1110 876h4M1150 876h4M1161 876h4M1219 876h4M1071 877h4M1072 877h4M1108 877h4M1117 877h4M1156 877h4M1197 877h4M1228 877h4M1271 877h4M1051 878h4M1054 878h4M1055 878h4M1062 878h4M1063 878h4M1064 878h4M1066 878h4M1072 878h4M1079 878h4M1079 878h4M1080 878h4M1083 878h4M1092 878h4M1104 878h4M1136 878h4M1189 878h4M1287 878h4M1055 879h4M1063 879h4M1074 879h4M1082 879h4M1087 879h4M1102 879h4M1145 879h4M1145 879h4M1171 879h4M1176 879h4M1045 880h4M1055 880h4M1081 880h4M1101 880h4M1102 880h4M1134 880h4M1147 880h4M1164 880h4M1192 880h4M1307 880h4M1321 880h4M1065 881h4M1076 881h4M1088 881h4M1094 881h4M1115 881h4M1126 881h4M1282 881h4M1061 882h4M1070 882h4M1093 882h4M1096 882h4M1131 882h4M1156 882h4M1169 882h4M1218 882h4M1056 883h4M1060 883h4M1062 883h4M1067 883h4M1073 883h4M1086 883h4M1112 883h4M1116 883h4M1144 883h4M1162 883h4M1046 884h4M1049 884h4M1049 884h4M1052 884h4M1055 884h4M1082 884h4M1084 884h4M1090 884h4M1095 884h4M1146 884h4M1167 884h4M1050 885h4M1083 885h4M1084 885h4M1088 885h4M1097 885h4M1118 885h4M1168 885h4M1043 886h4M1049 886h4M1053 886h4M1053 886h4M1056 886h4M1056 886h4M1060 886h4M1068 886h4M1071 886h4M1072 886h4M1095 886h4M1321 886h4M1390 886h4M1045 887h4M1056 887h4M1060 887h4M1085 887h4M1090 887h4M1090 887h4M1094 887h4M1095 887h4M1104 887h4M1111 887h4M1114 887h4M1135 887h4M1143 887h4M1161 887h4M1221 887h4M1237 887h4M1285 887h4M1121 888h4M1135 888h4M1188 888h4M1215 888h4M1043 889h4M1046 889h4M1048 889h4M1058 889h4M1059 889h4M1062 889h4M1066 889h4M1071 889h4M1080 889h4M1084 889h4M1096 889h4M1121 889h4M1176 889h4M1050 890h4M1081 890h4M1085 890h4M1087 890h4M1090 890h4M1104 890h4M1115 890h4M1117 890h4M1121 890h4M1154 890h4M1156 890h4M1158 890h4M1051 891h4M1053 891h4M1058 891h4M1067 891h4M1129 891h4M1130 891h4M1138 891h4M1271 891h4M1387 891h4M1045 892h4M1049 892h4M1061 892h4M1074 892h4M1076 892h4M1107 892h4M1112 892h4M1117 892h4M1208 892h4M1047 893h4M1051 893h4M1052 893h4M1053 893h4M1081 893h4M1095 893h4M1102 893h4M1105 893h4M1120 893h4M1123 893h4M1285 893h4M1315 893h4M1353 893h4M1047 894h4M1051 894h4M1069 894h4M1090 894h4M1187 894h4M1190 894h4M1230 894h4M1050 895h4M1051 895h4M1063 895h4M1083 895h4M1087 895h4M1116 895h4M1208 895h4M1253 895h4M1267 895h4M1049 896h4M1067 896h4M1070 896h4M1074 896h4M1076 896h4M1078 896h4M1081 896h4M1159 896h4M1181 896h4M1181 896h4M1231 896h4M1239 896h4M1246 896h4M1044 897h4M1048 897h4M1059 897h4M1067 897h4M1147 897h4M1148 897h4M1155 897h4M1161 897h4M1170 897h4M1212 897h4M1217 897h4M1222 897h4M1266 897h4M1268 897h4M1280 897h4M1066 898h4M1086 898h4M1109 898h4M1118 898h4M1147 898h4M1318 898h4M1046 899h4M1050 899h4M1066 899h4M1097 899h4M1139 899h4M1170 899h4M1182 899h4M1259 899h4M1305 899h4M1057 900h4M1074 900h4M1082 900h4M1094 900h4M1113 900h4M1119 900h4M1121 900h4M1127 900h4M1135 900h4M1154 900h4M1181 900h4M1205 900h4M1223 900h4M1225 900h4M1048 901h4M1049 901h4M1050 901h4M1056 901h4M1061 901h4M1078 901h4M1083 901h4M1106 901h4M1115 901h4M1138 901h4M1156 901h4M1320 901h4M1043 902h4M1044 902h4M1051 902h4M1055 902h4M1070 902h4M1082 902h4M1091 902h4M1117 902h4M1121 902h4M1121 902h4M1127 902h4M1180 902h4M1208 902h4M1225 902h4M1265 902h4M1328 902h4M1048 903h4M1066 903h4M1067 903h4M1090 903h4M1124 903h4M1128 903h4M1130 903h4M1160 903h4M1213 903h4M1355 903h4M1039 904h4M1039 904h4M1040 904h4M1042 904h4M1044 904h4M1050 904h4M1053 904h4M1060 904h4M1074 904h4M1080 904h4M1085 904h4M1144 904h4M1149 904h4M1188 904h4M1223 904h4M1289 904h4M1064 905h4M1074 905h4M1079 905h4M1083 905h4M1120 905h4M1166 905h4M1038 906h4M1044 906h4M1049 906h4M1065 906h4M1086 906h4M1321 906h4M1382 906h4M1038 907h4M1045 907h4M1047 907h4M1050 907h4M1052 907h4M1056 907h4M1087 907h4M1092 907h4M1096 907h4M1104 907h4M1037 908h4M1040 908h4M1041 908h4M1043 908h4M1055 908h4M1059 908h4M1070 908h4M1079 908h4M1133 908h4M1170 908h4M1212 908h4M1314 908h4M1318 908h4M1043 909h4M1059 909h4M1069 909h4M1074 909h4M1075 909h4M1124 909h4M1212 909h4M1033 910h4M1033 910h4M1038 910h4M1043 910h4M1058 910h4M1074 910h4M1074 910h4M1075 910h4M1096 910h4M1152 910h4M1315 910h4M1034 911h4M1041 911h4M1046 911h4M1056 911h4M1057 911h4M1057 911h4M1062 911h4M1077 911h4M1119 911h4M1160 911h4M1205 911h4M1251 911h4M1068 912h4M1078 912h4M1079 912h4M1080 912h4M1142 912h4M1143 912h4M1031 913h4M1045 913h4M1056 913h4M1067 913h4M1067 913h4M1067 913h4M1070 913h4M1087 913h4M1096 913h4M1152 913h4M1042 914h4M1064 914h4M1085 914h4M1096 914h4M1195 914h4M1033 915h4M1051 915h4M1088 915h4M1099 915h4M1111 915h4M1146 915h4M1147 915h4M1274 915h4M1030 916h4M1034 916h4M1034 916h4M1063 916h4M1088 916h4M1136 916h4M1181 916h4M1033 917h4M1042 917h4M1042 917h4M1044 917h4M1055 917h4M1067 917h4M1072 917h4M1079 917h4M1118 917h4M1127 917h4M1268 917h4M1307 917h4M1026 918h4M1033 918h4M1035 918h4M1046 918h4M1049 918h4M1072 918h4M1072 918h4M1073 918h4M1081 918h4M1027 919h4M1049 919h4M1086 919h4M1047 920h4M1085 920h4M1091 920h4M1092 920h4M1178 920h4M1214 920h4M1262 920h4M1050 921h4M1085 921h4M1101 921h4M1225 921h4M1258 921h4M1304 921h4M1041 922h4M1042 922h4M1066 922h4M1071 922h4M1094 922h4M1028 923h4M1029 923h4M1038 923h4M1040 923h4M1076 923h4M1144 923h4M1298 923h4M1040 924h4M1062 924h4M1070 924h4M1086 924h4M1185 924h4M1029 925h4M1036 925h4M1053 925h4M1081 925h4M1114 925h4M1026 926h4M1030 926h4M1031 926h4M1033 926h4M1072 926h4M1120 926h4M1029 927h4M1030 927h4M1036 927h4M1060 927h4M1159 927h4M1272 927h4M1350 927h4M1024 928h4M1027 928h4M1029 928h4M1031 928h4M1032 928h4M1034 928h4M1050 928h4M1056 928h4M1070 928h4M1083 928h4M1222 928h4M1027 929h4M1041 929h4M1068 929h4M1106 929h4M1107 929h4M1167 929h4M1375 929h4M1026 930h4M1051 930h4M1071 930h4M1088 930h4M1107 930h4M1324 930h4M1365 930h4M1366 930h4M1026 931h4M1085 931h4M1086 931h4M1089 931h4M1109 931h4M1112 931h4M1263 931h4M1029 932h4M1033 932h4M1037 932h4M1064 932h4M1124 932h4M1029 933h4M1036 933h4M1052 933h4M1055 933h4M1062 933h4M1064 933h4M1080 933h4M1082 933h4M1109 933h4M1198 933h4M1026 934h4M1031 934h4M1034 934h4M1045 934h4M1046 934h4M1094 934h4M1101 934h4M1144 934h4M1038 935h4M1039 935h4M1051 936h4M1060 936h4M1071 936h4M1076 936h4M1097 936h4M1102 936h4M1110 936h4M1122 936h4M1285 936h4M1347 936h4M1043 937h4M1076 937h4M1344 937h4M1025 938h4M1037 938h4M1056 938h4M1064 938h4M1070 938h4M1076 938h4M1081 938h4M1121 938h4M1135 938h4M1262 938h4M1051 939h4M1093 939h4M1131 939h4M1027 940h4M1040 940h4M1051 940h4M1072 940h4M1218 940h4M1051 941h4M1069 941h4M1081 941h4M1093 941h4M1129 941h4M1226 941h4M1024 942h4M1026 942h4M1052 942h4M1053 942h4M1024 943h4M1034 943h4M1041 943h4M1047 943h4M1049 943h4M1100 943h4M1293 943h4M1032 944h4M1041 944h4M1132 944h4M1139 944h4M1039 945h4M1044 945h4M1066 945h4M1069 945h4M1071 945h4M1125 945h4M1279 945h4M1303 945h4M1023 946h4M1025 946h4M1025 946h4M1044 946h4M1115 946h4M1030 947h4M1038 947h4M1046 947h4M1062 947h4M1069 947h4M1100 947h4M1152 947h4M1039 948h4M1098 948h4M1132 948h4M1322 948h4M1024 949h4M1026 949h4M1031 949h4M1048 949h4M1052 949h4M1065 949h4M1086 949h4M1107 949h4M1029 950h4M1030 950h4M1051 950h4M1111 950h4M1030 951h4M1033 951h4M1035 951h4M1044 951h4M1054 951h4M1058 951h4M1068 951h4M1096 951h4M1099 951h4M1026 952h4M1026 952h4M1035 952h4M1042 952h4M1047 952h4M1024 953h4M1030 953h4M1030 953h4M1061 953h4M1069 953h4M1075 953h4M1144 953h4M1246 953h4M1306 953h4M1027 954h4M1028 954h4M1036 954h4M1042 955h4M1043 955h4M1023 956h4M1048 956h4M1074 956h4M1087 956h4M1121 956h4M1023 957h4M1032 957h4M1060 957h4M1065 957h4M1070 957h4M1087 957h4M1100 957h4M1198 957h4M1050 958h4M1053 958h4M1166 958h4M1024 959h4M1026 959h4M1030 959h4M1073 959h4M1143 959h4M1025 960h4M1060 960h4M1063 960h4M1093 960h4M1196 960h4M1263 960h4M1025 961h4M1027 961h4M1042 961h4M1044 961h4M1037 962h4M1061 962h4M1086 962h4M1148 962h4M1024 963h4M1025 963h4M1033 963h4M1050 963h4M1055 963h4M1061 963h4M1073 963h4M1137 963h4M1028 964h4M1028 964h4M1030 964h4M1038 964h4M1039 964h4M1042 964h4M1054 964h4M1148 964h4M1027 965h4M1048 965h4M1078 965h4M1093 965h4M1098 965h4M1105 965h4M1385 965h4M1027 966h4M1029 966h4M1033 966h4M1040 966h4M1043 966h4M1056 966h4M1064 966h4M1179 966h4M1024 967h4M1069 967h4M1075 967h4M1113 967h4M1157 967h4M1038 968h4M1039 968h4M1065 968h4M1074 968h4M1219 968h4M1032 969h4M1034 969h4M1039 969h4M1042 969h4M1062 969h4M1096 969h4M1138 969h4M1203 969h4M1031 970h4M1053 970h4M1110 970h4M1140 970h4M1237 970h4M1026 971h4M1026 971h4M1029 971h4M1048 971h4M1067 971h4M1076 971h4M1094 971h4M1031 972h4M1032 972h4M1033 972h4M1034 972h4M1054 972h4M1060 972h4M1093 972h4M1108 972h4M1025 973h4M1034 973h4M1035 973h4M1046 973h4M1047 973h4M1053 973h4M1079 973h4M1172 973h4M1199 973h4M1025 974h4M1026 974h4M1027 974h4M1029 974h4M1059 974h4M1065 974h4M1085 974h4M1094 974h4M1023 975h4M1023 975h4M1035 975h4M1038 975h4M1080 975h4M1084 975h4M1109 975h4M1258 975h4M1024 976h4M1024 976h4M1035 976h4M1041 976h4M1051 976h4M1115 976h4M1146 976h4M1148 976h4M1062 977h4M1086 977h4M1104 977h4M1194 977h4M1252 977h4M1024 978h4M1028 978h4M1028 978h4M1042 978h4M1047 978h4M1048 978h4M1062 978h4M1062 978h4M1154 978h4M1234 978h4M1265 978h4M1025 979h4M1037 979h4M1047 979h4M1056 979h4M1070 979h4M1071 979h4M1024 980h4M1037 980h4M1069 980h4M1073 980h4M1117 980h4M1124 980h4M1138 980h4M1274 980h4M1026 981h4M1055 981h4M1065 981h4M1084 981h4M1133 981h4M1043 982h4M1045 982h4M1047 982h4M1051 982h4M1146 982h4M1063 983h4M1074 983h4M1040 984h4M1074 984h4M1105 984h4M1202 984h4M1029 985h4M1041 985h4M1044 985h4M1044 985h4M1138 985h4M1268 985h4M1029 986h4M1039 986h4M1043 986h4M1045 986h4M1048 986h4M1063 986h4M1066 986h4M1085 986h4M1123 986h4M1035 987h4M1053 987h4M1055 987h4M1065 987h4M1067 987h4M1104 987h4M1125 987h4M1027 988h4M1034 988h4M1037 988h4M1046 988h4M1059 988h4M1077 988h4M1105 988h4M1122 988h4M1029 989h4M1035 989h4M1063 989h4M1277 989h4M1029 990h4M1032 990h4M1036 990h4M1049 990h4M1057 990h4M1061 990h4M1062 990h4M1063 990h4M1079 990h4M1099 990h4M1103 990h4M1146 990h4M1288 990h4M1045 991h4M1051 991h4M1052 991h4M1055 991h4M1062 991h4M1068 991h4M1069 991h4M1124 991h4M1139 991h4M1031 992h4M1036 992h4M1079 992h4M1096 992h4M1028 993h4M1041 993h4M1053 993h4M1057 993h4M1064 993h4M1066 993h4M1072 993h4M1123 993h4M1226 993h4M1028 994h4M1029 994h4M1031 994h4M1037 994h4M1041 994h4M1043 994h4M1054 994h4M1082 994h4M1097 994h4M1183 994h4M1028 995h4M1031 995h4M1052 995h4M1069 995h4M1131 995h4M1235 995h4M1031 996h4M1033 996h4M1037 996h4M1040 996h4M1043 996h4M1055 996h4M1081 996h4M1031 997h4M1033 997h4M1040 997h4M1042 997h4M1049 997h4M1052 997h4M1076 997h4M1037 998h4M1047 998h4M1076 998h4M1041 999h4M1048 999h4M1049 999h4M1051 999h4M1057 999h4M1061 999h4M1073 999h4M1079 999h4M1092 999h4M1033 1000h4M1040 1000h4M1051 1000h4M1062 1000h4M1064 1000h4M1103 1000h4M1163 1000h4M1261 1000h4M1036 1001h4M1040 1001h4M1042 1001h4M1052 1001h4M1075 1001h4M1102 1001h4M1039 1002h4M1041 1002h4M1054 1002h4M1117 1002h4M1140 1002h4M1049 1003h4M1198 1003h4M1046 1004h4M1050 1004h4M1033 1005h4M1038 1005h4M1050 1005h4M1107 1005h4M1149 1005h4M1211 1005h4M1361 1005h4M1033 1006h4M1064 1006h4M1066 1006h4M1036 1007h4M1046 1007h4M1064 1007h4M1037 1008h4M1036 1009h4M1046 1009h4M1047 1009h4M1062 1009h4M1064 1009h4M1066 1009h4M1074 1009h4M1084 1009h4M1088 1009h4M1168 1009h4M1038 1010h4M1041 1010h4M1055 1010h4M1060 1010h4M1064 1010h4M1086 1010h4M1157 1010h4M1031 1011h4M1035 1011h4M1040 1011h4M1066 1011h4M1094 1011h4M1130 1011h4M1040 1012h4M1072 1012h4M1078 1012h4M1090 1012h4M1180 1012h4M1302 1012h4M1383 1012h4M1053 1013h4M1055 1013h4M1075 1013h4M1078 1013h4M1128 1013h4M1146 1013h4M1036 1014h4M1036 1015h4M1042 1015h4M1045 1015h4M1052 1015h4M1070 1015h4M1134 1015h4M1227 1015h4M1035 1016h4M1036 1016h4M1036 1016h4M1036 1016h4M1072 1016h4M1079 1016h4M1098 1016h4M1037 1017h4M1042 1017h4M1046 1017h4M1053 1017h4M1059 1017h4M1061 1017h4M1082 1017h4M1106 1017h4M1123 1017h4M1036 1018h4M1038 1018h4M1041 1018h4M1060 1018h4M1063 1018h4M1067 1018h4M1119 1018h4M1207 1018h4M1035 1019h4M1056 1019h4M1057 1019h4M1064 1019h4M1077 1019h4M1087 1019h4M1040 1020h4M1051 1020h4M1062 1020h4M1063 1020h4M1086 1020h4M1044 1021h4M1051 1021h4M1055 1021h4M1087 1021h4M1060 1022h4M1066 1022h4M1112 1022h4M1297 1022h4M1046 1023h4M1048 1023h4M1056 1023h4M1076 1023h4M1092 1023h4M1093 1023h4M1096 1023h4M1041 1024h4M1083 1024h4M1087 1024h4M1091 1024h4M1092 1024h4M1075 1025h4M1133 1025h4M1042 1026h4M1064 1026h4M1079 1026h4M1091 1026h4M1131 1026h4M1134 1026h4M1174 1026h4M1041 1027h4M1042 1027h4M1049 1027h4M1059 1027h4M1059 1027h4M1101 1027h4M1106 1027h4M1168 1027h4M1215 1027h4M1042 1028h4M1060 1028h4M1093 1028h4M1147 1028h4M1042 1029h4M1055 1029h4M1058 1029h4M1067 1029h4M1070 1029h4M1071 1029h4M1137 1029h4M1137 1029h4M1146 1029h4M1172 1029h4M1206 1029h4M1043 1030h4M1048 1030h4M1052 1030h4M1061 1030h4M1064 1030h4M1073 1030h4M1102 1030h4M1269 1030h4M1046 1031h4M1088 1031h4M1088 1031h4M1117 1031h4M1156 1031h4M1043 1032h4M1052 1032h4M1057 1032h4M1057 1032h4M1113 1032h4M1116 1032h4M1121 1032h4M1173 1032h4M1186 1032h4M1043 1033h4M1052 1033h4M1057 1033h4M1066 1033h4M1079 1033h4M1080 1033h4M1053 1034h4M1067 1034h4M1049 1035h4M1050 1035h4M1054 1035h4M1054 1035h4M1061 1035h4M1062 1035h4M1137 1035h4M1213 1035h4M1051 1036h4M1062 1036h4M1313 1036h4M1043 1037h4M1044 1037h4M1057 1037h4M1059 1037h4M1060 1037h4M1062 1037h4M1091 1037h4M1115 1037h4M1129 1037h4M1151 1037h4M1051 1038h4M1054 1038h4M1056 1038h4M1057 1038h4M1058 1038h4M1060 1038h4M1062 1038h4M1064 1038h4M1083 1038h4M1094 1038h4M1108 1038h4M1112 1038h4M1114 1038h4M1120 1038h4M1047 1039h4M1048 1039h4M1050 1039h4M1053 1039h4M1064 1039h4M1077 1039h4M1088 1039h4M1120 1039h4M1048 1040h4M1051 1040h4M1052 1040h4M1066 1040h4M1219 1040h4M1060 1041h4M1082 1041h4M1112 1041h4M1059 1042h4M1067 1042h4M1086 1042h4M1114 1042h4M1050 1043h4M1055 1043h4M1063 1043h4M1065 1043h4M1068 1043h4M1100 1043h4M1048 1044h4M1074 1044h4M1076 1044h4M1082 1044h4M1085 1044h4M1087 1044h4M1047 1045h4M1071 1045h4M1098 1045h4M1120 1045h4M1124 1045h4M1193 1045h4M1066 1046h4M1086 1046h4M1061 1047h4M1062 1047h4M1070 1047h4M1077 1047h4M1080 1047h4M1105 1047h4M1061 1048h4M1063 1048h4M1065 1048h4M1107 1048h4M1108 1048h4M1115 1048h4M1119 1048h4M1157 1048h4M1375 1048h4M1066 1049h4M1080 1049h4M1110 1049h4M1057 1050h4M1060 1050h4M1062 1050h4M1067 1050h4M1081 1050h4M1081 1050h4M1081 1050h4M1089 1050h4M1122 1050h4M1143 1050h4M1237 1050h4M1250 1050h4M1059 1051h4M1074 1051h4M1090 1051h4M1136 1051h4M1059 1052h4M1067 1052h4M1101 1052h4M1105 1052h4M1111 1052h4M1120 1052h4M1123 1052h4M1137 1052h4M1236 1052h4M1051 1053h4M1074 1053h4M1109 1053h4M1219 1053h4M1059 1054h4M1062 1054h4M1066 1054h4M1073 1054h4M1088 1054h4M1099 1054h4M1100 1054h4M1142 1054h4M1312 1054h4M1056 1055h4M1058 1055h4M1071 1055h4M1081 1055h4M1092 1055h4M1094 1055h4M1115 1055h4M1054 1056h4M1056 1056h4M1058 1056h4M1071 1056h4M1090 1056h4M1103 1056h4M1051 1057h4M1055 1057h4M1055 1057h4M1059 1057h4M1062 1057h4M1067 1057h4M1079 1057h4M1084 1057h4M1085 1057h4M1217 1057h4M1245 1057h4M1310 1057h4M1061 1058h4M1063 1058h4M1097 1058h4M1104 1058h4M1238 1058h4M1060 1059h4M1075 1059h4M1075 1059h4M1077 1059h4M1106 1059h4M1148 1059h4M1081 1060h4M1096 1060h4M1103 1060h4M1109 1060h4M1110 1060h4M1152 1060h4M1056 1061h4M1057 1061h4M1058 1061h4M1060 1061h4M1070 1061h4M1074 1061h4M1130 1061h4M1170 1061h4M1209 1061h4M1062 1062h4M1072 1062h4M1076 1062h4M1085 1062h4M1105 1062h4M1108 1062h4M1196 1062h4M1057 1063h4M1063 1063h4M1069 1063h4M1094 1063h4M1104 1063h4M1124 1063h4M1155 1063h4M1168 1063h4M1056 1064h4M1057 1064h4M1058 1064h4M1062 1064h4M1068 1064h4M1068 1064h4M1072 1064h4M1104 1064h4M1175 1064h4M1056 1065h4M1061 1065h4M1083 1065h4M1084 1065h4M1088 1065h4M1122 1065h4M1126 1065h4M1128 1065h4M1144 1065h4M1376 1065h4M1059 1066h4M1060 1066h4M1061 1066h4M1061 1066h4M1064 1066h4M1064 1066h4M1092 1066h4M1110 1066h4M1134 1066h4M1289 1066h4M1332 1066h4M1076 1067h4M1090 1067h4M1096 1067h4M1103 1067h4M1111 1067h4M1123 1067h4M1129 1067h4M1251 1067h4M1060 1068h4M1061 1068h4M1068 1068h4M1078 1068h4M1092 1068h4M1098 1068h4M1120 1068h4M1211 1068h4M1062 1069h4M1103 1069h4M1108 1069h4M1060 1070h4M1090 1070h4M1093 1070h4M1141 1070h4M1306 1070h4M1072 1071h4M1087 1071h4M1087 1071h4M1089 1071h4M1062 1072h4M1062 1072h4M1080 1072h4M1095 1072h4M1108 1072h4M1110 1072h4M1129 1072h4M1151 1072h4M1065 1073h4M1066 1073h4M1077 1073h4M1082 1073h4M1102 1073h4M1109 1073h4M1113 1073h4M1129 1073h4M1132 1073h4M1147 1073h4M1249 1073h4M1060 1074h4M1066 1074h4M1074 1074h4M1075 1074h4M1081 1074h4M1086 1074h4M1264 1074h4M1299 1074h4M1059 1075h4M1061 1075h4M1064 1075h4M1065 1075h4M1083 1075h4M1083 1075h4M1098 1075h4M1106 1075h4M1125 1075h4M1272 1075h4M1073 1076h4M1086 1076h4M1090 1076h4M1092 1076h4M1060 1077h4M1063 1077h4M1074 1077h4M1080 1077h4M1080 1077h4M1119 1077h4M1158 1077h4M1060 1078h4M1062 1078h4M1062 1078h4M1080 1078h4M1096 1078h4M1107 1078h4M1136 1078h4M1140 1078h4M1228 1078h4M1069 1079h4M1069 1079h4M1102 1079h4M1166 1079h4M1167 1079h4M1070 1080h4M1093 1080h4M1096 1080h4M1128 1080h4M1156 1080h4M1202 1080h4M1059 1081h4M1063 1081h4M1071 1081h4M1083 1081h4M1086 1081h4M1087 1081h4M1104 1081h4M1105 1081h4M1112 1081h4M1064 1082h4M1076 1082h4M1096 1082h4M1097 1082h4M1131 1082h4M1169 1082h4M1076 1083h4M1078 1083h4M1084 1083h4M1091 1083h4M1100 1083h4M1106 1083h4M1106 1083h4M1139 1083h4M1065 1084h4M1069 1084h4M1090 1084h4M1109 1084h4M1110 1084h4M1121 1084h4M1158 1084h4M1087 1085h4M1094 1085h4M1191 1085h4M1072 1086h4M1103 1086h4M1130 1086h4M1134 1086h4M1141 1086h4M1209 1086h4M1070 1087h4M1080 1087h4M1087 1087h4M1157 1087h4M1255 1087h4M1063 1088h4M1074 1088h4M1091 1088h4M1117 1088h4M1129 1088h4M1140 1088h4M1273 1088h4M1064 1089h4M1065 1089h4M1070 1089h4M1085 1089h4M1086 1089h4M1093 1089h4M1097 1089h4M1110 1089h4M1116 1089h4M1117 1089h4M1069 1090h4M1072 1090h4M1075 1090h4M1077 1090h4M1082 1090h4M1085 1090h4M1086 1090h4M1087 1090h4M1089 1090h4M1090 1090h4M1094 1090h4M1117 1090h4M1127 1090h4M1143 1090h4M1067 1091h4M1073 1091h4M1081 1091h4M1085 1091h4M1086 1091h4M1093 1091h4M1095 1091h4M1102 1091h4M1103 1091h4M1217 1091h4M1066 1092h4M1071 1092h4M1072 1092h4M1084 1092h4M1100 1092h4M1104 1092h4M1127 1092h4M1129 1092h4M1165 1092h4M1167 1092h4M1202 1092h4M1221 1092h4M1067 1093h4M1079 1093h4M1081 1093h4M1098 1093h4M1104 1093h4M1120 1093h4M1140 1093h4M1063 1094h4M1064 1094h4M1067 1094h4M1084 1094h4M1106 1094h4M1119 1094h4M1137 1094h4M1217 1094h4M1063 1095h4M1067 1095h4M1086 1095h4M1100 1095h4M1100 1095h4M1066 1096h4M1071 1096h4M1083 1096h4M1086 1096h4M1086 1096h4M1095 1096h4M1099 1096h4M1129 1096h4M1158 1096h4M1068 1097h4M1068 1097h4M1068 1097h4M1071 1097h4M1087 1097h4M1090 1097h4M1090 1097h4M1100 1097h4M1106 1097h4M1155 1097h4M1191 1097h4M1069 1098h4M1071 1098h4M1107 1098h4M1126 1098h4M1132 1098h4M1133 1098h4M1183 1098h4M1067 1099h4M1070 1099h4M1076 1099h4M1079 1099h4M1086 1099h4M1117 1099h4M1129 1099h4M1154 1099h4M1176 1099h4M1068 1100h4M1078 1100h4M1127 1100h4M1063 1101h4M1068 1101h4M1076 1101h4M1087 1101h4M1116 1101h4M1133 1101h4M1147 1101h4M1154 1101h4M1347 1101h4M1087 1102h4M1092 1102h4M1106 1102h4M1126 1102h4M1147 1102h4M1066 1103h4M1075 1103h4M1098 1103h4M1134 1103h4M1165 1103h4M1225 1103h4M1282 1103h4M1065 1104h4M1065 1104h4M1069 1104h4M1072 1104h4M1084 1104h4M1090 1104h4M1099 1104h4M1103 1104h4M1110 1104h4M1139 1104h4M1148 1104h4M1166 1104h4M1070 1105h4M1072 1105h4M1099 1105h4M1100 1105h4M1128 1105h4M1131 1105h4M1140 1105h4M1146 1105h4M1063 1106h4M1073 1106h4M1077 1106h4M1091 1106h4M1167 1106h4M1194 1106h4M1298 1106h4M1066 1107h4M1094 1107h4M1108 1107h4M1108 1107h4M1145 1107h4M1153 1107h4M1168 1107h4M1083 1108h4M1085 1108h4M1085 1108h4M1087 1108h4M1097 1108h4M1102 1108h4M1109 1108h4M1125 1108h4M1136 1108h4M1147 1108h4M1148 1108h4M1152 1108h4M1065 1109h4M1071 1109h4M1083 1109h4M1087 1109h4M1099 1109h4M1105 1109h4M1115 1109h4M1117 1109h4M1136 1109h4M1145 1109h4M1229 1109h4M1064 1110h4M1073 1110h4M1075 1110h4M1075 1110h4M1094 1110h4M1106 1110h4M1130 1110h4M1241 1110h4M1313 1110h4M1067 1111h4M1078 1111h4M1078 1111h4M1101 1111h4M1181 1111h4M1383 1111h4M1064 1112h4M1069 1112h4M1069 1112h4M1076 1112h4M1079 1112h4M1102 1112h4M1107 1112h4M1118 1112h4M1119 1112h4M1174 1112h4M1066 1113h4M1066 1113h4M1068 1113h4M1073 1113h4M1086 1113h4M1097 1113h4M1100 1113h4M1130 1113h4M1162 1113h4M1178 1113h4M1192 1113h4M1068 1114h4M1078 1114h4M1087 1114h4M1090 1114h4M1092 1114h4M1098 1114h4M1110 1114h4M1136 1114h4M1141 1114h4M1213 1114h4M1239 1114h4M1250 1114h4M1076 1115h4M1084 1115h4M1092 1115h4M1179 1115h4M1201 1115h4M1068 1116h4M1071 1116h4M1076 1116h4M1080 1116h4M1088 1116h4M1131 1116h4M1145 1116h4M1173 1116h4M1285 1116h4M1068 1117h4M1082 1117h4M1084 1117h4M1097 1117h4M1103 1117h4M1135 1117h4M1194 1117h4M1200 1117h4M1264 1117h4M1273 1117h4M1068 1118h4M1071 1118h4M1132 1118h4M1153 1118h4M1192 1118h4M1251 1118h4M1070 1119h4M1086 1119h4M1087 1119h4M1107 1119h4M1121 1119h4M1136 1119h4M1145 1119h4M1152 1119h4M1215 1119h4M1216 1119h4M1075 1120h4M1076 1120h4M1079 1120h4M1109 1120h4M1113 1120h4M1127 1120h4M1136 1120h4M1158 1120h4M1164 1120h4M1166 1120h4M1079 1121h4M1082 1121h4M1092 1121h4M1094 1121h4M1094 1121h4M1100 1121h4M1103 1121h4M1103 1121h4M1122 1121h4M1122 1121h4M1124 1121h4M1128 1121h4M1189 1121h4M1225 1121h4M1244 1121h4M1073 1122h4M1079 1122h4M1091 1122h4M1093 1122h4M1112 1122h4M1131 1122h4M1160 1122h4M1075 1123h4M1083 1123h4M1136 1123h4M1143 1123h4M1145 1123h4M1155 1123h4M1184 1123h4M1239 1123h4M1287 1123h4M1122 1124h4M1135 1124h4M1156 1124h4M1184 1124h4M1234 1124h4M1267 1124h4M1090 1125h4M1091 1125h4M1127 1125h4M1136 1125h4M1136 1125h4M1235 1125h4M1098 1126h4M1101 1126h4M1107 1126h4M1111 1126h4M1121 1126h4M1148 1126h4M1153 1126h4M1159 1126h4M1160 1126h4M1169 1126h4M1189 1126h4M1280 1126h4M1072 1127h4M1073 1127h4M1144 1127h4M1148 1127h4M1165 1127h4M1176 1127h4M1274 1127h4M1074 1128h4M1081 1128h4M1083 1128h4M1095 1128h4M1102 1128h4M1108 1128h4M1116 1128h4M1139 1128h4M1147 1128h4M1160 1128h4M1172 1128h4M1173 1128h4M1175 1128h4M1193 1128h4M1210 1128h4M1072 1129h4M1073 1129h4M1078 1129h4M1090 1129h4M1097 1129h4M1101 1129h4M1104 1129h4M1114 1129h4M1135 1129h4M1080 1130h4M1085 1130h4M1090 1130h4M1106 1130h4M1110 1130h4M1110 1130h4M1111 1130h4M1111 1130h4M1113 1130h4M1131 1130h4M1233 1130h4M1261 1130h4M1102 1131h4M1120 1131h4M1162 1131h4M1172 1131h4M1215 1131h4M1083 1132h4M1086 1132h4M1093 1132h4M1094 1132h4M1094 1132h4M1111 1132h4M1128 1132h4M1141 1132h4M1150 1132h4M1071 1133h4M1073 1133h4M1084 1133h4M1091 1133h4M1094 1133h4M1104 1133h4M1118 1133h4M1124 1133h4M1124 1133h4M1137 1133h4M1143 1133h4M1144 1133h4M1170 1133h4M1176 1133h4M1180 1133h4M1199 1133h4M1267 1133h4M1332 1133h4M1072 1134h4M1073 1134h4M1077 1134h4M1080 1134h4M1095 1134h4M1100 1134h4M1115 1134h4M1120 1134h4M1132 1134h4M1138 1134h4M1140 1134h4M1216 1134h4M1219 1134h4M1227 1134h4M1227 1134h4M1074 1135h4M1077 1135h4M1080 1135h4M1093 1135h4M1138 1135h4M1151 1135h4M1155 1135h4M1168 1135h4M1072 1136h4M1099 1136h4M1100 1136h4M1126 1136h4M1132 1136h4M1132 1136h4M1133 1136h4M1138 1136h4M1149 1136h4M1171 1136h4M1205 1136h4M1209 1136h4M1073 1137h4M1075 1137h4M1125 1137h4M1129 1137h4M1148 1137h4M1156 1137h4M1158 1137h4M1158 1137h4M1265 1137h4M1077 1138h4M1079 1138h4M1080 1138h4M1085 1138h4M1088 1138h4M1097 1138h4M1100 1138h4M1113 1138h4M1119 1138h4M1123 1138h4M1139 1138h4M1139 1138h4M1166 1138h4M1166 1138h4M1240 1138h4M1243 1138h4M1252 1138h4M1307 1138h4M1088 1139h4M1106 1139h4M1108 1139h4M1123 1139h4M1144 1139h4M1204 1139h4M1208 1139h4M1289 1139h4M1291 1139h4M1076 1140h4M1092 1140h4M1119 1140h4M1120 1140h4M1127 1140h4M1137 1140h4M1152 1140h4M1179 1140h4M1202 1140h4M1241 1140h4M1312 1140h4M1077 1141h4M1078 1141h4M1089 1141h4M1105 1141h4M1110 1141h4M1113 1141h4M1128 1141h4M1146 1141h4M1176 1141h4M1183 1141h4M1211 1141h4M1245 1141h4M1286 1141h4M1095 1142h4M1097 1142h4M1119 1142h4M1122 1142h4M1133 1142h4M1139 1142h4M1147 1142h4M1157 1142h4M1171 1142h4M1175 1142h4M1091 1143h4M1106 1143h4M1113 1143h4M1114 1143h4M1146 1143h4M1154 1143h4M1166 1143h4M1169 1143h4M1196 1143h4M1205 1143h4M1281 1143h4M1092 1144h4M1103 1144h4M1127 1144h4M1127 1144h4M1140 1144h4M1157 1144h4M1079 1145h4M1089 1145h4M1110 1145h4M1137 1145h4M1150 1145h4M1151 1145h4M1170 1145h4M1234 1145h4M1241 1145h4M1083 1146h4M1088 1146h4M1095 1146h4M1111 1146h4M1117 1146h4M1123 1146h4M1124 1146h4M1154 1146h4M1169 1146h4M1190 1146h4M1202 1146h4M1235 1146h4M1272 1146h4M1084 1147h4M1087 1147h4M1099 1147h4M1111 1147h4M1122 1147h4M1141 1147h4M1145 1147h4M1150 1147h4M1154 1147h4M1163 1147h4M1172 1147h4M1199 1147h4M1203 1147h4M1083 1148h4M1089 1148h4M1103 1148h4M1118 1148h4M1136 1148h4M1246 1148h4M1290 1148h4M1117 1149h4M1121 1149h4M1139 1149h4M1155 1149h4M1160 1149h4M1199 1149h4M1222 1149h4M1084 1150h4M1088 1150h4M1112 1150h4M1112 1150h4M1115 1150h4M1130 1150h4M1143 1150h4M1159 1150h4M1267 1150h4M1333 1150h4M1099 1151h4M1111 1151h4M1125 1151h4M1154 1151h4M1156 1151h4M1172 1151h4M1180 1151h4M1182 1151h4M1243 1151h4M1085 1152h4M1107 1152h4M1116 1152h4M1124 1152h4M1143 1152h4M1149 1152h4M1248 1152h4M1259 1152h4M1093 1153h4M1099 1153h4M1105 1153h4M1108 1153h4M1108 1153h4M1114 1153h4M1144 1153h4M1145 1153h4M1174 1153h4M1100 1154h4M1111 1154h4M1112 1154h4M1138 1154h4M1162 1154h4M1170 1154h4M1178 1154h4M1206 1154h4M1218 1154h4M1261 1154h4M1094 1155h4M1106 1155h4M1114 1155h4M1141 1155h4M1143 1155h4M1159 1155h4M1168 1155h4M1173 1155h4M1188 1155h4M1092 1156h4M1104 1156h4M1110 1156h4M1128 1156h4M1129 1156h4M1134 1156h4M1140 1156h4M1144 1156h4M1151 1156h4M1152 1156h4M1152 1156h4M1167 1156h4M1179 1156h4M1250 1156h4M1267 1156h4M1307 1156h4M1089 1157h4M1095 1157h4M1098 1157h4M1122 1157h4M1131 1157h4M1132 1157h4M1142 1157h4M1149 1157h4M1091 1158h4M1104 1158h4M1135 1158h4M1165 1158h4M1220 1158h4M1093 1159h4M1095 1159h4M1101 1159h4M1103 1159h4M1106 1159h4M1106 1159h4M1125 1159h4M1143 1159h4M1175 1159h4M1182 1159h4M1193 1159h4M1195 1159h4M1087 1160h4M1089 1160h4M1102 1160h4M1105 1160h4M1108 1160h4M1163 1160h4M1191 1160h4M1091 1161h4M1097 1161h4M1105 1161h4M1124 1161h4M1156 1161h4M1159 1161h4M1185 1161h4M1108 1162h4M1110 1162h4M1111 1162h4M1119 1162h4M1125 1162h4M1127 1162h4M1171 1162h4M1176 1162h4M1208 1162h4M1095 1163h4M1099 1163h4M1127 1163h4M1129 1163h4M1155 1163h4M1158 1163h4M1191 1163h4M1200 1163h4M1296 1163h4M1300 1163h4M1095 1164h4M1095 1164h4M1095 1164h4M1123 1164h4M1137 1164h4M1143 1164h4M1226 1164h4M1286 1164h4M1098 1165h4M1098 1165h4M1145 1165h4M1147 1165h4M1149 1165h4M1149 1165h4M1154 1165h4M1180 1165h4M1201 1165h4M1230 1165h4M1267 1165h4M1268 1165h4M1116 1166h4M1125 1166h4M1133 1166h4M1136 1166h4M1140 1166h4M1142 1166h4M1150 1166h4M1156 1166h4M1162 1166h4M1165 1166h4M1220 1166h4M1232 1166h4M1256 1166h4M1104 1167h4M1110 1167h4M1126 1167h4M1129 1167h4M1139 1167h4M1177 1167h4M1223 1167h4M1242 1167h4M1264 1167h4M1326 1167h4M1334 1167h4M1106 1168h4M1108 1168h4M1109 1168h4M1141 1168h4M1149 1168h4M1155 1168h4M1172 1168h4M1173 1168h4M1217 1168h4M1227 1168h4M1235 1168h4M1338 1168h4M1103 1169h4M1105 1169h4M1112 1169h4M1118 1169h4M1163 1169h4M1229 1169h4M1330 1169h4M1117 1170h4M1118 1170h4M1124 1170h4M1129 1170h4M1168 1170h4M1185 1170h4M1200 1170h4M1296 1170h4M1111 1171h4M1113 1171h4M1130 1171h4M1133 1171h4M1141 1171h4M1154 1171h4M1160 1171h4M1166 1171h4M1176 1171h4M1183 1171h4M1185 1171h4M1196 1171h4M1215 1171h4M1218 1171h4M1267 1171h4M1299 1171h4M1116 1172h4M1122 1172h4M1124 1172h4M1124 1172h4M1126 1172h4M1126 1172h4M1136 1172h4M1147 1172h4M1147 1172h4M1186 1172h4M1203 1172h4M1221 1172h4M1222 1172h4M1245 1172h4M1250 1172h4M1265 1172h4M1268 1172h4M1295 1172h4M1307 1172h4M1111 1173h4M1113 1173h4M1119 1173h4M1137 1173h4M1147 1173h4M1162 1173h4M1175 1173h4M1175 1173h4M1179 1173h4M1184 1173h4M1202 1173h4M1256 1173h4M1268 1173h4M1283 1173h4M1123 1174h4M1147 1174h4M1151 1174h4M1161 1174h4M1167 1174h4M1220 1174h4M1226 1174h4M1277 1174h4M1349 1174h4M1126 1175h4M1142 1175h4M1150 1175h4M1152 1175h4M1161 1175h4M1162 1175h4M1167 1175h4M1180 1175h4M1182 1175h4M1182 1175h4M1184 1175h4M1193 1175h4M1205 1175h4M1215 1175h4M1231 1175h4M1252 1175h4M1263 1175h4M1264 1175h4M1269 1175h4M1275 1175h4M1290 1175h4M1129 1176h4M1133 1176h4M1144 1176h4M1146 1176h4M1153 1176h4M1155 1176h4M1160 1176h4M1163 1176h4M1165 1176h4M1171 1176h4M1180 1176h4M1189 1176h4M1194 1176h4M1206 1176h4M1231 1176h4M1237 1176h4M1135 1177h4M1138 1177h4M1141 1177h4M1143 1177h4M1153 1177h4M1173 1177h4M1223 1177h4M1256 1177h4M1277 1177h4M1304 1177h4M1385 1177h4M1152 1178h4M1155 1178h4M1156 1178h4M1158 1178h4M1163 1178h4M1163 1178h4M1171 1178h4M1175 1178h4M1194 1178h4M1199 1178h4M1204 1178h4M1206 1178h4M1238 1178h4M1139 1179h4M1140 1179h4M1157 1179h4M1160 1179h4M1162 1179h4M1169 1179h4M1178 1179h4M1179 1179h4M1213 1179h4M1220 1179h4M1222 1179h4M1239 1179h4M1253 1179h4M1143 1180h4M1154 1180h4M1166 1180h4M1179 1180h4M1214 1180h4M1291 1180h4M1155 1181h4M1168 1181h4M1176 1181h4M1176 1181h4M1180 1181h4M1186 1181h4M1188 1181h4M1190 1181h4M1197 1181h4M1200 1181h4M1234 1181h4M1238 1181h4M1240 1181h4M1281 1181h4M1285 1181h4M1304 1181h4M1157 1182h4M1169 1182h4M1176 1182h4M1198 1182h4M1240 1182h4M1251 1182h4M1252 1182h4M1270 1182h4M1314 1182h4M1332 1182h4M1158 1183h4M1171 1183h4M1196 1183h4M1199 1183h4M1199 1183h4M1204 1183h4M1218 1183h4M1227 1183h4M1257 1183h4M1272 1183h4M1279 1183h4M1303 1183h4M1157 1184h4M1175 1184h4M1180 1184h4M1202 1184h4M1203 1184h4M1205 1184h4M1239 1184h4M1308 1184h4M1326 1184h4M1158 1185h4M1159 1185h4M1162 1185h4M1162 1185h4M1171 1185h4M1171 1185h4M1177 1185h4M1196 1185h4M1204 1185h4M1212 1185h4M1227 1185h4M1317 1185h4M1329 1185h4M1177 1186h4M1185 1186h4M1190 1186h4M1216 1186h4M1219 1186h4M1241 1186h4M1250 1186h4M1293 1186h4M1327 1186h4M1171 1187h4M1172 1187h4M1172 1187h4M1174 1187h4M1194 1187h4M1198 1187h4M1219 1187h4M1240 1187h4M1241 1187h4M1250 1187h4M1258 1187h4M1312 1187h4M1317 1187h4M1328 1187h4M1354 1187h4M1167 1188h4M1171 1188h4M1181 1188h4M1228 1188h4M1239 1188h4M1244 1188h4M1245 1188h4M1248 1188h4M1266 1188h4M1272 1188h4M1279 1188h4M1285 1188h4M1299 1188h4M1319 1188h4M1351 1188h4M1184 1189h4M1187 1189h4M1206 1189h4M1209 1189h4M1221 1189h4M1241 1189h4M1261 1189h4M1275 1189h4M1285 1189h4M1295 1189h4M1308 1189h4M1330 1189h4M1176 1190h4M1178 1190h4M1184 1190h4M1189 1190h4M1189 1190h4M1206 1190h4M1218 1190h4M1230 1190h4M1264 1190h4M1276 1190h4M1299 1190h4M1326 1190h4M1364 1190h4M1377 1190h4M1178 1191h4M1183 1191h4M1183 1191h4M1183 1191h4M1192 1191h4M1202 1191h4M1203 1191h4M1206 1191h4M1219 1191h4M1238 1191h4M1283 1191h4M1359 1191h4M1176 1192h4M1176 1192h4M1191 1192h4M1198 1192h4M1211 1192h4M1218 1192h4M1246 1192h4M1261 1192h4M1277 1192h4M1285 1192h4M1309 1192h4M1314 1192h4M1368 1192h4M1190 1193h4M1191 1193h4M1196 1193h4M1225 1193h4M1237 1193h4M1269 1193h4M1273 1193h4M1299 1193h4M1337 1193h4M1362 1193h4M1196 1194h4M1200 1194h4M1203 1194h4M1216 1194h4M1234 1194h4M1239 1194h4M1246 1194h4M1252 1194h4M1257 1194h4M1282 1194h4M1321 1194h4M1188 1195h4M1191 1195h4M1203 1195h4M1207 1195h4M1218 1195h4M1224 1195h4M1226 1195h4M1228 1195h4M1245 1195h4M1300 1195h4M1370 1195h4M1375 1195h4M1189 1196h4M1190 1196h4M1217 1196h4M1224 1196h4M1225 1196h4M1235 1196h4M1235 1196h4M1244 1196h4M1244 1196h4M1247 1196h4M1249 1196h4M1264 1196h4M1278 1196h4M1281 1196h4M1317 1196h4M1319 1196h4M1331 1196h4M1189 1197h4M1208 1197h4M1218 1197h4M1262 1197h4M1266 1197h4M1292 1197h4M1294 1197h4M1314 1197h4M1325 1197h4M1337 1197h4M1204 1198h4M1208 1198h4M1213 1198h4M1215 1198h4M1218 1198h4M1221 1198h4M1225 1198h4M1228 1198h4M1231 1198h4M1238 1198h4M1240 1198h4M1272 1198h4M1293 1198h4M1327 1198h4M1376 1198h4M1208 1199h4M1215 1199h4M1221 1199h4M1226 1199h4M1228 1199h4M1255 1199h4M1279 1199h4M1287 1199h4M1307 1199h4M1310 1199h4M1205 1200h4M1206 1200h4M1208 1200h4M1216 1200h4M1216 1200h4M1217 1200h4M1232 1200h4M1251 1200h4M1278 1200h4M1323 1200h4M1352 1200h4M1382 1200h4M1203 1201h4M1207 1201h4M1233 1201h4M1242 1201h4M1263 1201h4M1276 1201h4M1289 1201h4M1290 1201h4M1292 1201h4M1227 1202h4M1229 1202h4M1234 1202h4M1248 1202h4M1297 1202h4M1318 1202h4M1344 1202h4M1223 1203h4M1235 1203h4M1257 1203h4M1285 1203h4M1288 1203h4M1319 1203h4M1388 1203h4M1223 1204h4M1236 1204h4M1239 1204h4M1256 1204h4M1260 1204h4M1268 1204h4M1294 1204h4M1295 1204h4M1297 1204h4M1308 1204h4M1317 1204h4M1331 1204h4M1334 1204h4M1241 1205h4M1246 1205h4M1252 1205h4M1262 1205h4M1278 1205h4M1347 1205h4M1348 1205h4M1366 1205h4M1383 1205h4M1248 1206h4M1248 1206h4M1249 1206h4M1255 1206h4M1255 1206h4M1263 1206h4M1266 1206h4M1271 1206h4M1279 1206h4M1281 1206h4M1282 1206h4M1299 1206h4M1313 1206h4M1316 1206h4M1317 1206h4M1318 1206h4M1358 1206h4M1387 1206h4M1251 1207h4M1255 1207h4M1271 1207h4M1273 1207h4M1286 1207h4M1290 1207h4M1307 1207h4M1339 1207h4M1349 1207h4M1368 1207h4M1368 1207h4M1249 1208h4M1270 1208h4M1299 1208h4M1304 1208h4M1309 1208h4M1310 1208h4M1315 1208h4M1317 1208h4M1356 1208h4M1357 1208h4M1254 1209h4M1269 1209h4M1318 1209h4M1326 1209h4M1337 1209h4M1357 1209h4M1383 1209h4M1384 1209h4M1273 1210h4M1274 1210h4M1278 1210h4M1323 1210h4M1323 1210h4M1331 1210h4M1333 1210h4M1358 1210h4M1278 1211h4M1280 1211h4M1280 1211h4M1282 1211h4M1287 1211h4M1301 1211h4M1302 1211h4M1308 1211h4M1313 1211h4M1334 1211h4M1349 1211h4M1370 1211h4M1275 1212h4M1287 1212h4M1287 1212h4M1289 1212h4M1311 1212h4M1317 1212h4M1323 1212h4M1336 1212h4M1349 1212h4M1355 1212h4M1361 1212h4M1277 1213h4M1281 1213h4M1282 1213h4M1284 1213h4M1290 1213h4M1292 1213h4M1300 1213h4M1305 1213h4M1311 1213h4M1312 1213h4M1317 1213h4M1320 1213h4M1322 1213h4M1332 1213h4M1335 1213h4M1337 1213h4M1359 1213h4M1363 1213h4M1310 1214h4M1320 1214h4M1322 1214h4M1343 1214h4M1354 1214h4M1356 1214h4M1381 1214h4M1390 1214h4M1390 1214h4M1310 1215h4M1314 1215h4M1335 1215h4M1364 1215h4M1387 1215h4M1305 1216h4M1341 1216h4M1366 1216h4M1373 1216h4M1374 1216h4M1381 1216h4M1309 1217h4M1312 1217h4M1315 1217h4M1318 1217h4M1342 1217h4M1347 1217h4M1350 1217h4M1350 1217h4M1376 1217h4M1383 1217h4M1349 1218h4M1355 1218h4M1358 1218h4M1339 1219h4M1355 1219h4M1363 1219h4M1368 1219h4M1379 1219h4M1390 1219h4M1363 1220h4M1366 1220h4M1370 1220h4M1386 1220h4M1390 1220h4M1394 1220h4M1341 1221h4M1345 1221h4M1359 1221h4M1363 1221h4M1365 1221h4M1365 1221h4M1370 1221h4M1371 1221h4M1383 1221h4M1368 1222h4M1372 1222h4M1377 1222h4M1369 1223h4M1374 1223h4M1379 1223h4M1381 1223h4M1372 1224h4M1374 1224h4M1376 1224h4M1379 1224h4M1380 1224h4M1374 1225h4M1391 1226h4M1391 1226h4M1391 1226h4M1393 1226h4M1394 1226h4"/>
<path stroke="#fff" stroke-width="2" fill="none" d="M1375 1225h2M1381 1225h2M1275 1223h2M1285 1221h2M1296 1222h2M1313 1223h2M1316 1223h2M1320 1221h2M1332 1223h2M1349 1223h2M1353 1223h2M1356 1222h2M1361 1223h2M1268 1219h2M1273 1217h2M1276 1217h2M1287 1219h2M1300 1217h2M1312 1217h2M1316 1218h2M1321 1217h2M1328 1219h2M1336 1217h2M1263 1215h2M1281 1213h2M1287 1213h2M1299 1215h2M1213 1210h2M1217 1211h2M1231 1211h2M1240 1210h2M1245 1211h2M1249 1209h2M1257 1209h2M1259 1209h2M1268 1211h2M1212 1207h2M1224 1207h2M1228 1207h2M1233 1205h2M1236 1206h2M1245 1207h2M1152 1202h2M1159 1201h2M1191 1203h2M1195 1202h2M1213 1202h2M1215 1201h2M1169 1197h2M1124 1193h2M1129 1194h2M1135 1195h2M1139 1195h2M1153 1194h2M1160 1195h2M1164 1193h2M1169 1193h2M1173 1194h2M1133 1190h2M1140 1191h2M1149 1189h2M1151 1191h2M1165 1191h2M1168 1189h2M1172 1190h2M1132 1185h2M1151 1187h2M1156 1186h2M1128 1183h2M1133 1183h2M1148 1183h2M1153 1183h2M1073 1179h2M1080 1179h2M1111 1177h2M1119 1178h2M1123 1177h2M1128 1179h2M1135 1177h2M1080 1173h2M1088 1173h2M1101 1175h2M1116 1174h2M1076 1171h2M1087 1169h2M1096 1171h2M1103 1169h2M1081 1167h2M1087 1166h2M1096 1166h2M1063 1162h2M1069 1163h2M1073 1163h2M1084 1162h2M1091 1162h2M1043 1158h2M1083 1159h2M1052 1153h2M1063 1154h2M1073 1154h2M1085 1154h2M1067 1149h2M1081 1149h2M1057 1145h2M1068 1146h2M1071 1146h2M1035 1143h2M1060 1141h2M1073 1143h2M1075 1142h2M1040 1137h2M1064 1137h2M1069 1138h2M1071 1138h2M1063 1133h2M1067 1133h2M1061 1131h2M1064 1130h2M1069 1131h2M1047 1125h2M1059 1127h2M1064 1125h2M1069 1127h2M1053 1121h2M1059 1122h2M1064 1123h2M1048 1118h2M1057 1117h2M1061 1117h2M1048 1114h2M1059 1114h2M1063 1114h2M1051 1109h2M1036 1102h2M1056 1103h2M1061 1101h2M1055 1097h2M1019 1095h2M1059 1093h2M1028 1089h2M1035 1089h2M1052 1090h2M1055 1091h2M1059 1091h2M1053 1085h2M1019 1082h2M1051 1083h2M1055 1083h2M1060 1083h2M1031 1077h2M1056 1078h2M1049 1074h2M1043 1071h2M1051 1070h2M1055 1071h2M1043 1067h2M1053 1065h2M1057 1066h2M1012 1062h2M1052 1063h2M1021 1058h2M1052 1059h2M1032 1053h2M1036 1053h2M1039 1054h2M1047 1055h2M1043 1051h2M1036 1046h2M1043 1045h2M1027 1043h2M1037 1042h2M1044 1042h2M1040 1038h2M1003 1033h2M1019 1033h2M1040 1035h2M999 1031h2M1032 1031h2M1036 1029h2M1040 1031h2M1012 1026h2M1032 1025h2M1036 1027h2M1027 1023h2M1004 1017h2M1015 1018h2M1027 1019h2M1031 1017h2M1023 1015h2M995 1010h2M1007 1010h2M1025 1010h2M1027 1011h2M1028 1006h2M997 1002h2M1025 1001h2M1001 998h2M1004 998h2M1015 998h2M1007 994h2M1015 995h2M1021 993h2M999 991h2M1025 989h2M1013 986h2M1015 987h2M1019 985h2M1023 985h2M1013 977h2M1016 977h2M1021 979h2M1004 974h2M1017 975h2M1013 971h2M1016 971h2M1020 970h2M1008 966h2M1015 965h2M1020 967h2M1021 963h2M1015 958h2M1021 957h2M1007 955h2M1013 953h2M1019 954h2M1003 949h2M1013 949h2M997 946h2M1009 947h2M1011 947h2M1017 947h2M980 943h2M1007 941h2M1016 942h2M1020 943h2M1004 939h2M1007 939h2M1017 938h2M992 935h2M1013 931h2M1016 929h2M1019 930h2M1016 925h2M1021 927h2M997 921h2M999 922h2M1008 922h2M1013 923h2M1015 921h2M996 917h2M1007 917h2M1012 917h2M1020 919h2M1012 913h2M996 911h2M1021 911h2M1009 907h2M1013 905h2M1019 907h2M1024 906h2M1029 905h2M1031 907h2M1012 903h2M1017 903h2M1021 901h2M1023 903h2M1032 903h2M1000 897h2M1005 897h2M1023 898h2M1027 898h2M1033 898h2M1040 898h2M997 894h2M1004 895h2M1020 894h2M1029 895h2M1027 891h2M1037 889h2M1019 887h2M1032 885h2M1035 886h2M1003 881h2M1017 882h2M1029 882h2M1033 882h2M1036 881h2M1041 883h2M1012 877h2M1032 879h2M1036 878h2M1004 874h2M1013 875h2M1024 875h2M1029 874h2M1031 874h2M980 869h2M988 870h2M1016 869h2M1027 869h2M1032 870h2M992 865h2M1005 867h2M1029 865h2M980 862h2M1000 862h2M1005 861h2M1012 862h2M1017 861h2M1023 861h2M967 858h2M989 859h2M1005 859h2M1013 859h2M1017 857h2M1021 858h2M992 854h2M1000 853h2M1003 853h2M1008 854h2M1016 855h2M973 849h2M995 849h2M1001 851h2M1007 850h2M1012 851h2M997 846h2M1003 845h2M969 841h2M996 843h2M999 842h2M1007 841h2M1013 843h2M969 839h2M993 837h2M996 837h2M1009 837h2M1013 837h2M979 835h2M995 833h2M1007 834h2M977 830h2M984 831h2M987 830h2M1004 831h2M1009 831h2M981 825h2M984 825h2M988 826h2M995 825h2M1009 827h2M956 823h2M959 821h2M991 822h2M995 822h2M999 823h2M1005 821h2M984 818h2M988 818h2M991 818h2M997 819h2M1001 818h2M1005 817h2M965 815h2M971 813h2M980 815h2M1004 814h2M956 811h2M987 809h2M991 809h2M1000 811h2M967 805h2M983 805h2M992 807h2M996 806h2M999 807h2M964 803h2M967 803h2M987 801h2M987 799h2M996 798h2M999 798h2M975 794h2M989 795h2M996 794h2M972 789h2M959 787h2M973 786h2M983 786h2M987 787h2M965 782h2M985 783h2M989 781h2M991 782h2M995 781h2M981 777h2M985 778h2M991 778h2M947 773h2M980 775h2M983 774h2M985 770h2M991 769h2M984 765h2M989 765h2M973 763h2M983 761h2M991 761h2M995 763h2M943 757h2M949 759h2M979 757h2M985 759h2M949 755h2M961 754h2M991 753h2M1001 753h2M1003 755h2M1009 753h2M957 749h2M981 749h2M992 751h2M1000 750h2M1003 750h2M1007 751h2M1011 749h2M951 747h2M968 745h2M987 746h2M1001 746h2M1007 747h2M1015 745h2M1020 747h2M1029 745h2M1032 746h2M1035 747h2M996 741h2M1001 741h2M1005 741h2M1021 742h2M1044 743h2M977 739h2M1021 737h2M1024 738h2M1032 738h2M1035 737h2M1041 738h2M1045 738h2M1053 737h2M1056 737h2M1059 737h2M1065 737h2M993 735h2M1015 737h2M1025 736h2M1032 737h2M1036 735h2M1041 735h2M1044 735h2M1047 735h2M1052 735h2M1064 737h2M1068 736h2"/>
<polyline points="924.8,999.5 925.3,1014.0 925.8,1026.6 926.3,1037.9 926.8,1047.9 927.3,1056.9 927.8,1065.0 928.3,1072.4 928.8,1079.1 929.3,1085.2 929.8,1090.8 930.3,1096.0 930.8,1100.8 931.3,1105.3 931.8,1109.4 932.3,1113.3 932.8,1116.9 933.3,1120.3 933.8,1123.5 934.3,1126.4 934.8,1129.3 935.3,1131.9 935.8,1134.4 936.3,1136.8 936.8,1139.1 937.3,1141.2 937.8,1143.3 938.3,1145.2 938.8,1147.1 939.3,1148.8 939.8,1150.5 940.3,1152.1 940.8,1153.7 941.3,1155.2 941.8,1156.6 942.3,1157.9 942.8,1159.2 943.3,1160.5 943.8,1161.7 944.3,1162.9 944.8,1164.0 947.8,1170.0 950.8,1174.9 953.8,1179.0 956.8,1182.5 959.8,1185.5 962.8,1188.1 965.8,1190.4 968.8,1192.4 971.8,1194.3 974.8,1195.9 977.8,1197.3 980.8,1198.7 983.8,1199.9 986.8,1201.0 989.8,1202.0 992.8,1202.9 995.8,1203.8 998.8,1204.6 1001.8,1205.3 1004.8,1206.0 1007.8,1206.7 1010.8,1207.3 1013.8,1207.8 1016.8,1208.4 1019.8,1208.9 1022.8,1209.4 1025.8,1209.8 1028.8,1210.2 1031.8,1210.6 1034.8,1211.0 1037.8,1211.4 1040.8,1211.7 1043.8,1212.1 1046.8,1212.4 1049.8,1212.7 1052.8,1213.0 1055.8,1213.3 1058.8,1213.5 1061.8,1213.8 1064.8,1214.0 1067.8,1214.3 1070.8,1214.5 1073.8,1214.7 1076.8,1214.9 1079.8,1215.1 1082.8,1215.3 1085.8,1215.5 1088.8,1215.7 1091.8,1215.9 1094.8,1216.0 1097.8,1216.2 1100.8,1216.3 1103.8,1216.5 1106.8,1216.6 1109.8,1216.8 1112.8,1216.9 1115.8,1217.1 1118.8,1217.2 1121.8,1217.3 1124.8,1217.4 1127.8,1217.6 1130.8,1217.7 1133.8,1217.8 1136.8,1217.9 1139.8,1218.0 1142.8,1218.1 1145.8,1218.2 1148.8,1218.3 1151.8,1218.4 1154.8,1218.5 1157.8,1218.6 1160.8,1218.7 1163.8,1218.8 1166.8,1218.9 1169.8,1218.9 1172.8,1219.0 1175.8,1219.1 1178.8,1219.2 1181.8,1219.3 1184.8,1219.3 1187.8,1219.4 1190.8,1219.5 1193.8,1219.6 1196.8,1219.6 1199.8,1219.7 1202.8,1219.8 1205.8,1219.8 1208.8,1219.9 1211.8,1219.9 1214.8,1220.0 1217.8,1220.1 1220.8,1220.1 1223.8,1220.2 1226.8,1220.2 1229.8,1220.3 1232.8,1220.3 1235.8,1220.4 1238.8,1220.4 1241.8,1220.5 1244.8,1220.5 1247.8,1220.6 1250.8,1220.6 1253.8,1220.7 1256.8,1220.7 1259.8,1220.8 1262.8,1220.8 1265.8,1220.9 1268.8,1220.9 1271.8,1221.0 1274.8,1221.0 1277.8,1221.0 1280.8,1221.1 1283.8,1221.1 1286.8,1221.2 1289.8,1221.2 1292.8,1221.2 1295.8,1221.3 1298.8,1221.3 1301.8,1221.3 1304.8,1221.4 1307.8,1221.4 1310.8,1221.4 1313.8,1221.5 1316.8,1221.5 1319.8,1221.5 1322.8,1221.6 1325.8,1221.6 1328.8,1221.6 1331.8,1221.7 1334.8,1221.7 1337.8,1221.7 1340.8,1221.8 1343.8,1221.8 1346.8,1221.8 1349.8,1221.8 1352.8,1221.9 1355.8,1221.9 1358.8,1221.9 1361.8,1222.0 1364.8,1222.0 1367.8,1222.0 1370.8,1222.0 1373.8,1222.1 1376.8,1222.1 1379.8,1222.1 1382.8,1222.1 1385.8,1222.2 1388.8,1222.2 1391.8,1222.2 1392.0,1222.2" fill="none" stroke="#b00000" stroke-width="6.5" stroke-linecap="round" stroke-linejoin="round"/>
<polyline points="924.8,999.5 925.3,1014.0 925.8,1026.6 926.3,1037.9 926.8,1047.9 927.3,1056.9 927.8,1065.0 928.3,1072.4 928.8,1079.1 929.3,1085.2 929.8,1090.8 930.3,1096.0 930.8,1100.8 931.3,1105.3 931.8,1109.4 932.3,1113.3 932.8,1116.9 933.3,1120.3 933.8,1123.5 934.3,1126.4 934.8,1129.3 935.3,1131.9 935.8,1134.4 936.3,1136.8 936.8,1139.1 937.3,1141.2 937.8,1143.3 938.3,1145.2 938.8,1147.1 939.3,1148.8 939.8,1150.5 940.3,1152.1 940.8,1153.7 941.3,1155.2 941.8,1156.6 942.3,1157.9 942.8,1159.2 943.3,1160.5 943.8,1161.7 944.3,1162.9 944.8,1164.0 947.8,1170.0 950.8,1174.9 953.8,1179.0 956.8,1182.5 959.8,1185.5 962.8,1188.1 965.8,1190.4 968.8,1192.4 971.8,1194.3 974.8,1195.9 977.8,1197.3 980.8,1198.7 983.8,1199.9 986.8,1201.0 989.8,1202.0 992.8,1202.9 995.8,1203.8 998.8,1204.6 1001.8,1205.3 1004.8,1206.0 1007.8,1206.7 1010.8,1207.3 1013.8,1207.8 1016.8,1208.4 1019.8,1208.9 1022.8,1209.4 1025.8,1209.8 1028.8,1210.2 1031.8,1210.6 1034.8,1211.0 1037.8,1211.4 1040.8,1211.7 1043.8,1212.1 1046.8,1212.4 1049.8,1212.7 1052.8,1213.0 1055.8,1213.3 1058.8,1213.5 1061.8,1213.8 1064.8,1214.0 1067.8,1214.3 1070.8,1214.5 1073.8,1214.7 1076.8,1214.9 1079.8,1215.1 1082.8,1215.3 1085.8,1215.5 1088.8,1215.7 1091.8,1215.9 1094.8,1216.0 1097.8,1216.2 1100.8,1216.3 1103.8,1216.5 1106.8,1216.6 1109.8,1216.8 1112.8,1216.9 1115.8,1217.1 1118.8,1217.2 1121.8,1217.3 1124.8,1217.4 1127.8,1217.6 1130.8,1217.7 1133.8,1217.8 1136.8,1217.9 1139.8,1218.0 1142.8,1218.1 1145.8,1218.2 1148.8,1218.3 1151.8,1218.4 1154.8,1218.5 1157.8,1218.6 1160.8,1218.7 1163.8,1218.8 1166.8,1218.9 1169.8,1218.9 1172.8,1219.0 1175.8,1219.1 1178.8,1219.2 1181.8,1219.3 1184.8,1219.3 1187.8,1219.4 1190.8,1219.5 1193.8,1219.6 1196.8,1219.6 1199.8,1219.7 1202.8,1219.8 1205.8,1219.8 1208.8,1219.9 1211.8,1219.9 1214.8,1220.0 1217.8,1220.1 1220.8,1220.1 1223.8,1220.2 1226.8,1220.2 1229.8,1220.3 1232.8,1220.3 1235.8,1220.4 1238.8,1220.4 1241.8,1220.5 1244.8,1220.5 1247.8,1220.6 1250.8,1220.6 1253.8,1220.7 1256.8,1220.7 1259.8,1220.8 1262.8,1220.8 1265.8,1220.9 1268.8,1220.9 1271.8,1221.0 1274.8,1221.0 1277.8,1221.0 1280.8,1221.1 1283.8,1221.1 1286.8,1221.2 1289.8,1221.2 1292.8,1221.2 1295.8,1221.3 1298.8,1221.3 1301.8,1221.3 1304.8,1221.4 1307.8,1221.4 1310.8,1221.4 1313.8,1221.5 1316.8,1221.5 1319.8,1221.5 1322.8,1221.6 1325.8,1221.6 1328.8,1221.6 1331.8,1221.7 1334.8,1221.7 1337.8,1221.7 1340.8,1221.8 1343.8,1221.8 1346.8,1221.8 1349.8,1221.8 1352.8,1221.9 1355.8,1221.9 1358.8,1221.9 1361.8,1222.0 1364.8,1222.0 1367.8,1222.0 1370.8,1222.0 1373.8,1222.1 1376.8,1222.1 1379.8,1222.1 1382.8,1222.1 1385.8,1222.2 1388.8,1222.2 1391.8,1222.2 1392.0,1222.2" fill="none" stroke="#f00" stroke-width="4" stroke-linecap="round" stroke-linejoin="round"/>
<line x1="906.6" x2="1410.7" y1="1176.4" y2="1176.4" stroke="#14149a" stroke-width="3"/>
<line x1="932.0" x2="932.0" y1="707.7" y2="1246.0" stroke="#22c822" stroke-width="2"/>
<rect x="906.6" y="707.7" width="504.1" height="538.3" fill="none" stroke="#000" stroke-width="2"/>
<line x1="889.6" x2="906.6" y1="1226.20" y2="1226.20" stroke="#000" stroke-width="2"/>
<text transform="translate(866.2,1226.20) rotate(-90) scale(0.955,1.07)" text-anchor="middle" font-size="29">0.0</text>
<line x1="889.6" x2="906.6" y1="1126.54" y2="1126.54" stroke="#000" stroke-width="2"/>
<text transform="translate(866.2,1126.54) rotate(-90) scale(0.955,1.07)" text-anchor="middle" font-size="29">0.2</text>
<line x1="889.6" x2="906.6" y1="1026.88" y2="1026.88" stroke="#000" stroke-width="2"/>
<text transform="translate(866.2,1026.88) rotate(-90) scale(0.955,1.07)" text-anchor="middle" font-size="29">0.4</text>
<line x1="889.6" x2="906.6" y1="927.22" y2="927.22" stroke="#000" stroke-width="2"/>
<text transform="translate(866.2,927.22) rotate(-90) scale(0.955,1.07)" text-anchor="middle" font-size="29">0.6</text>
<line x1="889.6" x2="906.6" y1="827.56" y2="827.56" stroke="#000" stroke-width="2"/>
<text transform="translate(866.2,827.56) rotate(-90) scale(0.955,1.07)" text-anchor="middle" font-size="29">0.8</text>
<line x1="889.6" x2="906.6" y1="727.90" y2="727.90" stroke="#000" stroke-width="2"/>
<text transform="translate(866.2,727.90) rotate(-90) scale(0.955,1.07)" text-anchor="middle" font-size="29">1.0</text>
<line x1="924.80" x2="924.80" y1="1246.0" y2="1263.0" stroke="#000" stroke-width="2"/>
<line x1="995.90" x2="995.90" y1="1246.0" y2="1263.0" stroke="#000" stroke-width="2"/>
<line x1="1067.00" x2="1067.00" y1="1246.0" y2="1263.0" stroke="#000" stroke-width="2"/>
<line x1="1138.10" x2="1138.10" y1="1246.0" y2="1263.0" stroke="#000" stroke-width="2"/>
<line x1="1209.20" x2="1209.20" y1="1246.0" y2="1263.0" stroke="#000" stroke-width="2"/>
<line x1="1280.30" x2="1280.30" y1="1246.0" y2="1263.0" stroke="#000" stroke-width="2"/>
<line x1="1351.40" x2="1351.40" y1="1246.0" y2="1263.0" stroke="#000" stroke-width="2"/>
<text x="924.80" y="1307.7" text-anchor="middle" font-size="29">0.0e+00</text>
<text x="1067.00" y="1307.7" text-anchor="middle" font-size="29">1.0e+08</text>
<text x="1209.20" y="1307.7" text-anchor="middle" font-size="29">2.0e+08</text>
<text x="1351.40" y="1307.7" text-anchor="middle" font-size="29">3.0e+08</text>
<text x="932.0" y="1274.6" text-anchor="middle" font-size="21.5" fill="#22c822" font-weight="bold">4906427</text>
<text x="1158.7" y="1374.0" text-anchor="middle" font-size="28.6">Distance (bp)</text>
<text transform="translate(790.8,976.5) rotate(-90) scale(1.05,1)" text-anchor="middle" font-size="28.6">LD <tspan font-weight="bold" dy="-7" font-size="30">[</tspan><tspan dy="7">r</tspan><tspan font-size="19.5" dy="-14">2</tspan><tspan dy="7" font-weight="bold" font-size="30">]</tspan></text>
<text x="1078.3" y="985.2" font-size="45" font-weight="bold" textLength="327.0" lengthAdjust="spacingAndGlyphs">Whole Genome</text>
</svg></body></html>
